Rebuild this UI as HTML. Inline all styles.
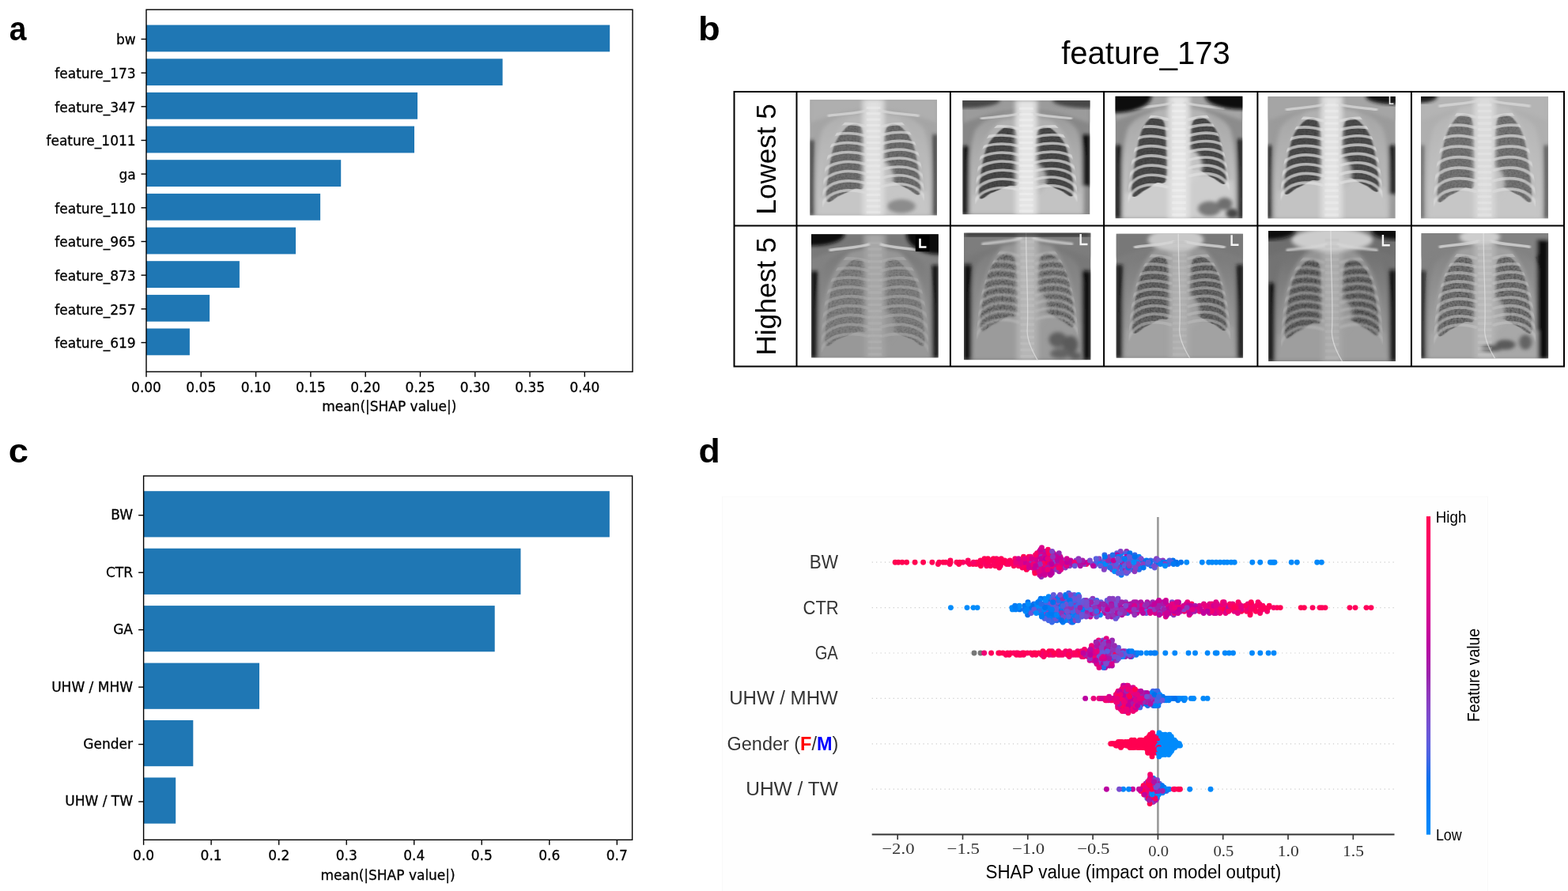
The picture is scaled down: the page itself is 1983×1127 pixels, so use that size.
<!DOCTYPE html><html><head><meta charset="utf-8"><title>SHAP figure</title><style>html,body{margin:0;padding:0;background:#fff;overflow:hidden}svg{display:block}</style></head><body>
<svg width="1983" height="1127" viewBox="0 0 1983 1127">
<rect width="1983" height="1127" fill="#fff"/>
<rect x="913.4" y="628.2" width="968" height="500" fill="#fefefe" stroke="#f9f9f9" stroke-width="1"/>
<line x1="1102.7" y1="711.2" x2="1763.5" y2="711.2" stroke="#cccccc" stroke-width="1.2" stroke-dasharray="1.2,4.2"/>
<line x1="1102.7" y1="768.6" x2="1763.5" y2="768.6" stroke="#cccccc" stroke-width="1.2" stroke-dasharray="1.2,4.2"/>
<line x1="1102.7" y1="826.0" x2="1763.5" y2="826.0" stroke="#cccccc" stroke-width="1.2" stroke-dasharray="1.2,4.2"/>
<line x1="1102.7" y1="883.4" x2="1763.5" y2="883.4" stroke="#cccccc" stroke-width="1.2" stroke-dasharray="1.2,4.2"/>
<line x1="1102.7" y1="940.8" x2="1763.5" y2="940.8" stroke="#cccccc" stroke-width="1.2" stroke-dasharray="1.2,4.2"/>
<line x1="1102.7" y1="998.2" x2="1763.5" y2="998.2" stroke="#cccccc" stroke-width="1.2" stroke-dasharray="1.2,4.2"/>
<line x1="1464.4" y1="654" x2="1464.4" y2="1055.5" stroke="#999999" stroke-width="2.6"/>
<g><circle cx="1332.0" cy="699.7" r="3.45" fill="#e20084"/><circle cx="1321.8" cy="713.5" r="3.45" fill="#ff0056"/><circle cx="1468.1" cy="711.2" r="3.45" fill="#a919a8"/><circle cx="1412.3" cy="711.2" r="3.45" fill="#3769e8"/><circle cx="1422.9" cy="718.1" r="3.45" fill="#8a3ec1"/><circle cx="1298.9" cy="715.8" r="3.45" fill="#f00074"/><circle cx="1314.1" cy="715.8" r="3.45" fill="#af12a6"/><circle cx="1300.2" cy="711.2" r="3.45" fill="#d9008c"/><circle cx="1352.8" cy="715.8" r="3.45" fill="#8443c6"/><circle cx="1238.5" cy="713.5" r="3.45" fill="#ff0051"/><circle cx="1326.9" cy="722.7" r="3.45" fill="#d5008f"/><circle cx="1417.2" cy="702.0" r="3.45" fill="#5a5ede"/><circle cx="1396.9" cy="711.2" r="3.45" fill="#5a5ede"/><circle cx="1384.1" cy="715.8" r="3.45" fill="#635adb"/><circle cx="1419.3" cy="715.8" r="3.45" fill="#6b55d7"/><circle cx="1403.2" cy="711.2" r="3.45" fill="#007cf5"/><circle cx="1337.4" cy="711.2" r="3.45" fill="#c1009d"/><circle cx="1246.3" cy="708.9" r="3.45" fill="#ff005a"/><circle cx="1317.5" cy="711.2" r="3.45" fill="#d9008c"/><circle cx="1354.0" cy="708.9" r="3.45" fill="#c6009a"/><circle cx="1365.6" cy="711.2" r="3.45" fill="#a21fab"/><circle cx="1325.2" cy="702.0" r="3.45" fill="#de0088"/><circle cx="1167.6" cy="711.2" r="3.45" fill="#ff0051"/><circle cx="1428.9" cy="702.0" r="3.45" fill="#5061e2"/><circle cx="1333.7" cy="715.8" r="3.45" fill="#e20084"/><circle cx="1432.5" cy="720.4" r="3.45" fill="#0076f1"/><circle cx="1418.0" cy="718.1" r="3.45" fill="#246cea"/><circle cx="1209.9" cy="711.2" r="3.45" fill="#ff005a"/><circle cx="1416.4" cy="704.3" r="3.45" fill="#635adb"/><circle cx="1310.7" cy="720.4" r="3.45" fill="#8443c6"/><circle cx="1319.2" cy="722.7" r="3.45" fill="#d9008c"/><circle cx="1337.9" cy="713.5" r="3.45" fill="#9332b8"/><circle cx="1419.4" cy="713.5" r="3.45" fill="#0079f3"/><circle cx="1283.9" cy="708.9" r="3.45" fill="#e9007c"/><circle cx="1234.6" cy="713.5" r="3.45" fill="#ff0056"/><circle cx="1357.2" cy="713.5" r="3.45" fill="#bb00a0"/><circle cx="1343.2" cy="718.1" r="3.45" fill="#d5008f"/><circle cx="1427.6" cy="720.4" r="3.45" fill="#794dcf"/><circle cx="1373.9" cy="713.5" r="3.45" fill="#fd005e"/><circle cx="1424.7" cy="697.4" r="3.45" fill="#972bb2"/><circle cx="1317.0" cy="718.1" r="3.45" fill="#d9008c"/><circle cx="1295.5" cy="713.5" r="3.45" fill="#de0088"/><circle cx="1423.3" cy="711.2" r="3.45" fill="#3769e8"/><circle cx="1391.9" cy="711.2" r="3.45" fill="#5a5ede"/><circle cx="1386.9" cy="708.9" r="3.45" fill="#8a3ec1"/><circle cx="1493.5" cy="711.2" r="3.45" fill="#0073ef"/><circle cx="1310.2" cy="706.6" r="3.45" fill="#d00093"/><circle cx="1349.7" cy="708.9" r="3.45" fill="#d00093"/><circle cx="1309.2" cy="713.5" r="3.45" fill="#9b23ad"/><circle cx="1418.9" cy="722.7" r="3.45" fill="#4565e5"/><circle cx="1277.2" cy="708.9" r="3.45" fill="#ff005a"/><circle cx="1265.2" cy="715.8" r="3.45" fill="#f6006b"/><circle cx="1186.4" cy="713.5" r="3.45" fill="#ff0056"/><circle cx="1412.0" cy="720.4" r="3.45" fill="#8443c6"/><circle cx="1483.4" cy="708.9" r="3.45" fill="#0070ed"/><circle cx="1360.9" cy="708.9" r="3.45" fill="#7f48cb"/><circle cx="1402.1" cy="713.5" r="3.45" fill="#0076f1"/><circle cx="1477.8" cy="713.5" r="3.45" fill="#4565e5"/><circle cx="1315.2" cy="702.0" r="3.45" fill="#a21fab"/><circle cx="1330.4" cy="702.0" r="3.45" fill="#c6009a"/><circle cx="1300.9" cy="708.9" r="3.45" fill="#fb0063"/><circle cx="1308.6" cy="722.7" r="3.45" fill="#e60080"/><circle cx="1389.5" cy="708.9" r="3.45" fill="#0073ef"/><circle cx="1447.2" cy="711.2" r="3.45" fill="#7f48cb"/><circle cx="1396.9" cy="702.0" r="3.45" fill="#3769e8"/><circle cx="1260.2" cy="706.6" r="3.45" fill="#f90067"/><circle cx="1365.2" cy="713.5" r="3.45" fill="#a919a8"/><circle cx="1320.7" cy="711.2" r="3.45" fill="#ff005a"/><circle cx="1316.9" cy="725.0" r="3.45" fill="#d00093"/><circle cx="1334.1" cy="708.9" r="3.45" fill="#bb00a0"/><circle cx="1240.4" cy="715.8" r="3.45" fill="#ff0051"/><circle cx="1419.0" cy="720.4" r="3.45" fill="#3769e8"/><circle cx="1322.7" cy="699.7" r="3.45" fill="#c6009a"/><circle cx="1423.6" cy="720.4" r="3.45" fill="#af12a6"/><circle cx="1482.0" cy="711.2" r="3.45" fill="#3769e8"/><circle cx="1255.7" cy="708.9" r="3.45" fill="#ff0051"/><circle cx="1246.5" cy="711.2" r="3.45" fill="#fb0063"/><circle cx="1407.1" cy="706.6" r="3.45" fill="#246cea"/><circle cx="1146.6" cy="711.2" r="3.45" fill="#ff0051"/><circle cx="1355.4" cy="713.5" r="3.45" fill="#af12a6"/><circle cx="1612.0" cy="711.2" r="3.45" fill="#0088fa"/><circle cx="1286.9" cy="708.9" r="3.45" fill="#f00074"/><circle cx="1552.0" cy="711.2" r="3.45" fill="#0088fa"/><circle cx="1320.7" cy="697.4" r="3.45" fill="#af12a6"/><circle cx="1445.3" cy="715.8" r="3.45" fill="#635adb"/><circle cx="1412.8" cy="715.8" r="3.45" fill="#9332b8"/><circle cx="1352.1" cy="711.2" r="3.45" fill="#b509a3"/><circle cx="1305.3" cy="711.2" r="3.45" fill="#ed0078"/><circle cx="1314.5" cy="697.4" r="3.45" fill="#d9008c"/><circle cx="1333.8" cy="706.6" r="3.45" fill="#e20084"/><circle cx="1533.0" cy="711.2" r="3.45" fill="#0088fa"/><circle cx="1320.8" cy="702.0" r="3.45" fill="#cb0096"/><circle cx="1305.7" cy="718.1" r="3.45" fill="#e9007c"/><circle cx="1263.2" cy="708.9" r="3.45" fill="#ff0051"/><circle cx="1371.2" cy="713.5" r="3.45" fill="#8a3ec1"/><circle cx="1424.8" cy="725.0" r="3.45" fill="#5a5ede"/><circle cx="1303.9" cy="715.8" r="3.45" fill="#f00074"/><circle cx="1434.1" cy="713.5" r="3.45" fill="#7f48cb"/><circle cx="1311.5" cy="699.7" r="3.45" fill="#f6006b"/><circle cx="1273.0" cy="713.5" r="3.45" fill="#fd005e"/><circle cx="1340.9" cy="704.3" r="3.45" fill="#d00093"/><circle cx="1292.6" cy="708.9" r="3.45" fill="#ff0051"/><circle cx="1381.5" cy="713.5" r="3.45" fill="#8443c6"/><circle cx="1462.9" cy="713.5" r="3.45" fill="#7f48cb"/><circle cx="1196.0" cy="711.2" r="3.45" fill="#ff0056"/><circle cx="1283.8" cy="706.6" r="3.45" fill="#f6006b"/><circle cx="1397.4" cy="718.1" r="3.45" fill="#5a5ede"/><circle cx="1328.7" cy="704.3" r="3.45" fill="#cb0096"/><circle cx="1282.1" cy="715.8" r="3.45" fill="#ff0056"/><circle cx="1455.8" cy="715.8" r="3.45" fill="#0076f1"/><circle cx="1284.1" cy="713.5" r="3.45" fill="#f30070"/><circle cx="1322.3" cy="715.8" r="3.45" fill="#e9007c"/><circle cx="1330.4" cy="725.0" r="3.45" fill="#af12a6"/><circle cx="1212.7" cy="713.5" r="3.45" fill="#ff0051"/><circle cx="1344.5" cy="708.9" r="3.45" fill="#794dcf"/><circle cx="1245.0" cy="706.6" r="3.45" fill="#ff0056"/><circle cx="1378.6" cy="711.2" r="3.45" fill="#7251d3"/><circle cx="1276.0" cy="713.5" r="3.45" fill="#fb0063"/><circle cx="1520.3" cy="711.2" r="3.45" fill="#0088fa"/><circle cx="1252.6" cy="715.8" r="3.45" fill="#fd005e"/><circle cx="1462.2" cy="711.2" r="3.45" fill="#0076f1"/><circle cx="1278.8" cy="711.2" r="3.45" fill="#ff005a"/><circle cx="1419.1" cy="711.2" r="3.45" fill="#a21fab"/><circle cx="1375.8" cy="711.2" r="3.45" fill="#d00093"/><circle cx="1292.9" cy="718.1" r="3.45" fill="#f90067"/><circle cx="1316.6" cy="720.4" r="3.45" fill="#e20084"/><circle cx="1454.6" cy="713.5" r="3.45" fill="#4565e5"/><circle cx="1316.7" cy="708.9" r="3.45" fill="#bb00a0"/><circle cx="1330.8" cy="720.4" r="3.45" fill="#e60080"/><circle cx="1441.9" cy="718.1" r="3.45" fill="#4565e5"/><circle cx="1339.4" cy="722.7" r="3.45" fill="#a919a8"/><circle cx="1301.3" cy="704.3" r="3.45" fill="#ff0051"/><circle cx="1256.3" cy="706.6" r="3.45" fill="#ff0051"/><circle cx="1390.1" cy="706.6" r="3.45" fill="#8443c6"/><circle cx="1440.5" cy="720.4" r="3.45" fill="#246cea"/><circle cx="1309.3" cy="708.9" r="3.45" fill="#e60080"/><circle cx="1295.4" cy="715.8" r="3.45" fill="#fb0063"/><circle cx="1406.1" cy="718.1" r="3.45" fill="#5061e2"/><circle cx="1347.3" cy="718.1" r="3.45" fill="#8a3ec1"/><circle cx="1441.2" cy="715.8" r="3.45" fill="#007ff7"/><circle cx="1265.3" cy="713.5" r="3.45" fill="#fb0063"/><circle cx="1319.8" cy="708.9" r="3.45" fill="#f90067"/><circle cx="1538.0" cy="711.2" r="3.45" fill="#0088fa"/><circle cx="1386.0" cy="713.5" r="3.45" fill="#794dcf"/><circle cx="1230.6" cy="713.5" r="3.45" fill="#ff0051"/><circle cx="1419.6" cy="706.6" r="3.45" fill="#7f48cb"/><circle cx="1444.5" cy="708.9" r="3.45" fill="#0070ed"/><circle cx="1315.9" cy="699.7" r="3.45" fill="#d5008f"/><circle cx="1424.5" cy="708.9" r="3.45" fill="#007cf5"/><circle cx="1455.1" cy="708.9" r="3.45" fill="#3769e8"/><circle cx="1141.0" cy="711.2" r="3.45" fill="#ff0051"/><circle cx="1461.0" cy="708.9" r="3.45" fill="#4565e5"/><circle cx="1435.8" cy="708.9" r="3.45" fill="#794dcf"/><circle cx="1342.7" cy="713.5" r="3.45" fill="#af12a6"/><circle cx="1295.8" cy="711.2" r="3.45" fill="#cb0096"/><circle cx="1416.3" cy="708.9" r="3.45" fill="#4565e5"/><circle cx="1665.7" cy="711.2" r="3.45" fill="#0088fa"/><circle cx="1397.2" cy="715.8" r="3.45" fill="#8a3ec1"/><circle cx="1417.7" cy="699.7" r="3.45" fill="#007ff7"/><circle cx="1396.5" cy="708.9" r="3.45" fill="#4565e5"/><circle cx="1370.5" cy="711.2" r="3.45" fill="#c1009d"/><circle cx="1325.2" cy="697.4" r="3.45" fill="#d5008f"/><circle cx="1201.2" cy="713.5" r="3.45" fill="#fd005e"/><circle cx="1406.6" cy="720.4" r="3.45" fill="#8f38bd"/><circle cx="1301.0" cy="713.5" r="3.45" fill="#d5008f"/><circle cx="1460.3" cy="718.1" r="3.45" fill="#635adb"/><circle cx="1398.1" cy="706.6" r="3.45" fill="#7f48cb"/><circle cx="1328.4" cy="727.3" r="3.45" fill="#c1009d"/><circle cx="1242.1" cy="711.2" r="3.45" fill="#fd005e"/><circle cx="1288.1" cy="715.8" r="3.45" fill="#fb0063"/><circle cx="1424.8" cy="713.5" r="3.45" fill="#794dcf"/><circle cx="1311.5" cy="704.3" r="3.45" fill="#d00093"/><circle cx="1426.9" cy="722.7" r="3.45" fill="#6b55d7"/><circle cx="1411.6" cy="722.7" r="3.45" fill="#7f48cb"/><circle cx="1265.2" cy="708.9" r="3.45" fill="#f6006b"/><circle cx="1249.4" cy="706.6" r="3.45" fill="#ff0051"/><circle cx="1441.6" cy="706.6" r="3.45" fill="#8f38bd"/><circle cx="1187.7" cy="711.2" r="3.45" fill="#ff0056"/><circle cx="1411.0" cy="718.1" r="3.45" fill="#7f48cb"/><circle cx="1331.8" cy="711.2" r="3.45" fill="#8443c6"/><circle cx="1475.6" cy="711.2" r="3.45" fill="#0085f9"/><circle cx="1583.8" cy="711.2" r="3.45" fill="#0088fa"/><circle cx="1328.0" cy="708.9" r="3.45" fill="#cb0096"/><circle cx="1424.2" cy="699.7" r="3.45" fill="#5a5ede"/><circle cx="1348.9" cy="715.8" r="3.45" fill="#d00093"/><circle cx="1561.2" cy="711.2" r="3.45" fill="#0088fa"/><circle cx="1316.0" cy="695.1" r="3.45" fill="#c6009a"/><circle cx="1263.7" cy="718.1" r="3.45" fill="#ff005a"/><circle cx="1317.2" cy="704.3" r="3.45" fill="#8f38bd"/><circle cx="1403.5" cy="715.8" r="3.45" fill="#635adb"/><circle cx="1403.3" cy="704.3" r="3.45" fill="#8443c6"/><circle cx="1349.0" cy="713.5" r="3.45" fill="#e9007c"/><circle cx="1418.1" cy="727.3" r="3.45" fill="#0079f3"/><circle cx="1338.6" cy="706.6" r="3.45" fill="#d5008f"/><circle cx="1418.8" cy="725.0" r="3.45" fill="#5061e2"/><circle cx="1608.5" cy="711.2" r="3.45" fill="#0088fa"/><circle cx="1336.9" cy="715.8" r="3.45" fill="#d9008c"/><circle cx="1325.4" cy="695.1" r="3.45" fill="#f90067"/><circle cx="1328.4" cy="715.8" r="3.45" fill="#e20084"/><circle cx="1406.6" cy="704.3" r="3.45" fill="#6b55d7"/><circle cx="1470.6" cy="708.9" r="3.45" fill="#8f38bd"/><circle cx="1290.4" cy="713.5" r="3.45" fill="#e9007c"/><circle cx="1409.6" cy="722.7" r="3.45" fill="#008bfb"/><circle cx="1325.1" cy="711.2" r="3.45" fill="#ff0051"/><circle cx="1247.7" cy="715.8" r="3.45" fill="#fb0063"/><circle cx="1309.5" cy="702.0" r="3.45" fill="#f90067"/><circle cx="1201.9" cy="708.9" r="3.45" fill="#ff005a"/><circle cx="1317.5" cy="692.8" r="3.45" fill="#d9008c"/><circle cx="1479.1" cy="708.9" r="3.45" fill="#4565e5"/><circle cx="1284.8" cy="711.2" r="3.45" fill="#e9007c"/><circle cx="1240.0" cy="708.9" r="3.45" fill="#ff005a"/><circle cx="1303.3" cy="704.3" r="3.45" fill="#f00074"/><circle cx="1462.6" cy="706.6" r="3.45" fill="#8443c6"/><circle cx="1398.0" cy="713.5" r="3.45" fill="#0088fa"/><circle cx="1335.7" cy="702.0" r="3.45" fill="#af12a6"/><circle cx="1310.6" cy="711.2" r="3.45" fill="#d00093"/><circle cx="1249.9" cy="713.5" r="3.45" fill="#fb0063"/><circle cx="1396.3" cy="720.4" r="3.45" fill="#8443c6"/><circle cx="1340.8" cy="715.8" r="3.45" fill="#e20084"/><circle cx="1422.3" cy="715.8" r="3.45" fill="#5a5ede"/><circle cx="1378.4" cy="708.9" r="3.45" fill="#794dcf"/><circle cx="1386.8" cy="711.2" r="3.45" fill="#4565e5"/><circle cx="1401.6" cy="706.6" r="3.45" fill="#8f38bd"/><circle cx="1226.2" cy="713.5" r="3.45" fill="#ff0056"/><circle cx="1407.7" cy="711.2" r="3.45" fill="#0070ed"/><circle cx="1316.9" cy="729.6" r="3.45" fill="#972bb2"/><circle cx="1192.8" cy="711.2" r="3.45" fill="#ff0051"/><circle cx="1417.2" cy="697.4" r="3.45" fill="#8443c6"/><circle cx="1408.2" cy="713.5" r="3.45" fill="#4565e5"/><circle cx="1256.9" cy="711.2" r="3.45" fill="#fb0063"/><circle cx="1437.8" cy="708.9" r="3.45" fill="#0073ef"/><circle cx="1327.7" cy="725.0" r="3.45" fill="#bb00a0"/><circle cx="1440.3" cy="704.3" r="3.45" fill="#0082f8"/><circle cx="1407.8" cy="715.8" r="3.45" fill="#7f48cb"/><circle cx="1401.4" cy="708.9" r="3.45" fill="#972bb2"/><circle cx="1436.3" cy="706.6" r="3.45" fill="#5061e2"/><circle cx="1136.1" cy="711.2" r="3.45" fill="#ff0051"/><circle cx="1412.5" cy="699.7" r="3.45" fill="#635adb"/><circle cx="1316.8" cy="706.6" r="3.45" fill="#c6009a"/><circle cx="1298.2" cy="720.4" r="3.45" fill="#ff0051"/><circle cx="1308.6" cy="718.1" r="3.45" fill="#cb0096"/><circle cx="1330.9" cy="718.1" r="3.45" fill="#f6006b"/><circle cx="1266.2" cy="706.6" r="3.45" fill="#ff0056"/><circle cx="1488.9" cy="713.5" r="3.45" fill="#007cf5"/><circle cx="1487.5" cy="711.2" r="3.45" fill="#0070ed"/><circle cx="1330.0" cy="722.7" r="3.45" fill="#bb00a0"/><circle cx="1327.5" cy="713.5" r="3.45" fill="#d00093"/><circle cx="1315.3" cy="713.5" r="3.45" fill="#9332b8"/><circle cx="1178.9" cy="711.2" r="3.45" fill="#ff0056"/><circle cx="1258.5" cy="715.8" r="3.45" fill="#ff0051"/><circle cx="1433.0" cy="715.8" r="3.45" fill="#5a5ede"/><circle cx="1246.6" cy="713.5" r="3.45" fill="#fb0063"/><circle cx="1330.1" cy="713.5" r="3.45" fill="#bb00a0"/><circle cx="1235.3" cy="711.2" r="3.45" fill="#ff0056"/><circle cx="1337.5" cy="708.9" r="3.45" fill="#b509a3"/><circle cx="1304.5" cy="708.9" r="3.45" fill="#9332b8"/><circle cx="1322.1" cy="718.1" r="3.45" fill="#f90067"/><circle cx="1557.0" cy="711.2" r="3.45" fill="#0088fa"/><circle cx="1465.5" cy="708.9" r="3.45" fill="#6b55d7"/><circle cx="1397.3" cy="704.3" r="3.45" fill="#0073ef"/><circle cx="1543.0" cy="711.2" r="3.45" fill="#0088fa"/><circle cx="1320.7" cy="720.4" r="3.45" fill="#d5008f"/><circle cx="1434.9" cy="722.7" r="3.45" fill="#8f38bd"/><circle cx="1449.9" cy="708.9" r="3.45" fill="#0073ef"/><circle cx="1359.0" cy="711.2" r="3.45" fill="#f00074"/><circle cx="1202.0" cy="711.2" r="3.45" fill="#ff0051"/><circle cx="1270.7" cy="708.9" r="3.45" fill="#ff005a"/><circle cx="1249.2" cy="711.2" r="3.45" fill="#ff005a"/><circle cx="1425.5" cy="702.0" r="3.45" fill="#3769e8"/><circle cx="1424.3" cy="722.7" r="3.45" fill="#794dcf"/><circle cx="1435.1" cy="702.0" r="3.45" fill="#3769e8"/><circle cx="1428.9" cy="699.7" r="3.45" fill="#0070ed"/><circle cx="1671.3" cy="711.2" r="3.45" fill="#0088fa"/><circle cx="1306.9" cy="713.5" r="3.45" fill="#f00074"/><circle cx="1443.1" cy="706.6" r="3.45" fill="#794dcf"/><circle cx="1349.3" cy="711.2" r="3.45" fill="#c1009d"/><circle cx="1459.2" cy="715.8" r="3.45" fill="#794dcf"/><circle cx="1231.2" cy="711.2" r="3.45" fill="#f90067"/><circle cx="1528.7" cy="711.2" r="3.45" fill="#0088fa"/><circle cx="1321.4" cy="725.0" r="3.45" fill="#d5008f"/><circle cx="1300.6" cy="706.6" r="3.45" fill="#f30070"/><circle cx="1403.6" cy="718.1" r="3.45" fill="#246cea"/><circle cx="1217.8" cy="711.2" r="3.45" fill="#fb0063"/><circle cx="1262.9" cy="715.8" r="3.45" fill="#fd005e"/><circle cx="1445.7" cy="713.5" r="3.45" fill="#8a3ec1"/><circle cx="1411.9" cy="713.5" r="3.45" fill="#5061e2"/><circle cx="1446.2" cy="718.1" r="3.45" fill="#0076f1"/><circle cx="1341.6" cy="720.4" r="3.45" fill="#de0088"/><circle cx="1342.0" cy="706.6" r="3.45" fill="#c6009a"/><circle cx="1412.8" cy="702.0" r="3.45" fill="#b509a3"/><circle cx="1431.0" cy="706.6" r="3.45" fill="#5a5ede"/><circle cx="1386.2" cy="706.6" r="3.45" fill="#5a5ede"/><circle cx="1271.3" cy="711.2" r="3.45" fill="#fb0063"/><circle cx="1438.2" cy="711.2" r="3.45" fill="#0085f9"/><circle cx="1294.5" cy="704.3" r="3.45" fill="#ff0051"/><circle cx="1364.0" cy="706.6" r="3.45" fill="#9332b8"/><circle cx="1314.8" cy="727.3" r="3.45" fill="#c6009a"/><circle cx="1326.4" cy="699.7" r="3.45" fill="#fb0063"/><circle cx="1335.8" cy="720.4" r="3.45" fill="#9332b8"/><circle cx="1349.2" cy="706.6" r="3.45" fill="#d00093"/><circle cx="1407.2" cy="702.0" r="3.45" fill="#246cea"/><circle cx="1308.8" cy="725.0" r="3.45" fill="#ff0051"/><circle cx="1427.0" cy="718.1" r="3.45" fill="#0073ef"/><circle cx="1428.1" cy="715.8" r="3.45" fill="#9332b8"/><circle cx="1439.0" cy="713.5" r="3.45" fill="#8a3ec1"/><circle cx="1427.5" cy="711.2" r="3.45" fill="#0082f8"/><circle cx="1414.4" cy="704.3" r="3.45" fill="#007cf5"/><circle cx="1257.2" cy="713.5" r="3.45" fill="#fd005e"/><circle cx="1321.0" cy="704.3" r="3.45" fill="#d5008f"/><circle cx="1391.5" cy="713.5" r="3.45" fill="#0085f9"/><circle cx="1471.2" cy="711.2" r="3.45" fill="#0076f1"/><circle cx="1424.8" cy="704.3" r="3.45" fill="#bb00a0"/><circle cx="1330.6" cy="697.4" r="3.45" fill="#8443c6"/><circle cx="1473.0" cy="713.5" r="3.45" fill="#8f38bd"/><circle cx="1427.6" cy="708.9" r="3.45" fill="#4565e5"/><circle cx="1269.1" cy="711.2" r="3.45" fill="#ff0056"/><circle cx="1451.7" cy="713.5" r="3.45" fill="#3769e8"/><circle cx="1633.2" cy="711.2" r="3.45" fill="#0088fa"/><circle cx="1223.9" cy="711.2" r="3.45" fill="#fd005e"/><circle cx="1500.7" cy="711.2" r="3.45" fill="#008bfb"/><circle cx="1339.3" cy="699.7" r="3.45" fill="#9b23ad"/><circle cx="1157.1" cy="711.2" r="3.45" fill="#ff0051"/><circle cx="1427.5" cy="713.5" r="3.45" fill="#8a3ec1"/><circle cx="1224.2" cy="708.9" r="3.45" fill="#fd005e"/><circle cx="1132.1" cy="711.2" r="3.45" fill="#ff0051"/><circle cx="1322.3" cy="706.6" r="3.45" fill="#bb00a0"/><circle cx="1369.0" cy="708.9" r="3.45" fill="#a919a8"/><circle cx="1606.4" cy="711.2" r="3.45" fill="#0088fa"/><circle cx="1436.1" cy="718.1" r="3.45" fill="#8443c6"/><circle cx="1309.7" cy="715.8" r="3.45" fill="#c6009a"/><circle cx="1382.5" cy="715.8" r="3.45" fill="#bb00a0"/><circle cx="1342.8" cy="711.2" r="3.45" fill="#d9008c"/><circle cx="1366.3" cy="715.8" r="3.45" fill="#af12a6"/><circle cx="1325.0" cy="706.6" r="3.45" fill="#e9007c"/><circle cx="1593.7" cy="711.2" r="3.45" fill="#0088fa"/><circle cx="1304.8" cy="706.6" r="3.45" fill="#d9008c"/><circle cx="1640.3" cy="711.2" r="3.45" fill="#0088fa"/><circle cx="1454.4" cy="711.2" r="3.45" fill="#0073ef"/><circle cx="1290.8" cy="711.2" r="3.45" fill="#e20084"/><circle cx="1452.1" cy="711.2" r="3.45" fill="#5a5ede"/><circle cx="1321.4" cy="727.3" r="3.45" fill="#cb0096"/><circle cx="1288.1" cy="706.6" r="3.45" fill="#d5008f"/><circle cx="1391.7" cy="715.8" r="3.45" fill="#635adb"/><circle cx="1484.1" cy="713.5" r="3.45" fill="#0079f3"/><circle cx="1359.3" cy="715.8" r="3.45" fill="#6b55d7"/><circle cx="1414.5" cy="708.9" r="3.45" fill="#5a5ede"/><circle cx="1301.2" cy="718.1" r="3.45" fill="#d00093"/><circle cx="1313.9" cy="722.7" r="3.45" fill="#e20084"/><circle cx="1427.7" cy="704.3" r="3.45" fill="#635adb"/><circle cx="1408.2" cy="708.9" r="3.45" fill="#c6009a"/><circle cx="1364.9" cy="708.9" r="3.45" fill="#8f38bd"/><circle cx="1414.3" cy="725.0" r="3.45" fill="#5a5ede"/><circle cx="1422.1" cy="706.6" r="3.45" fill="#007cf5"/><circle cx="1548.0" cy="711.2" r="3.45" fill="#0088fa"/><circle cx="1336.0" cy="704.3" r="3.45" fill="#c6009a"/><circle cx="1331.5" cy="704.3" r="3.45" fill="#9332b8"/><circle cx="1435.2" cy="704.3" r="3.45" fill="#0070ed"/><circle cx="1610.5" cy="711.2" r="3.45" fill="#0088fa"/><circle cx="1213.7" cy="711.2" r="3.45" fill="#ff0051"/><circle cx="1263.0" cy="713.5" r="3.45" fill="#ff005a"/><circle cx="1467.6" cy="713.5" r="3.45" fill="#007ff7"/><circle cx="1413.7" cy="706.6" r="3.45" fill="#6b55d7"/><circle cx="1473.5" cy="715.8" r="3.45" fill="#008bfb"/><circle cx="1434.0" cy="711.2" r="3.45" fill="#008bfb"/><circle cx="1261.5" cy="711.2" r="3.45" fill="#ff005a"/><circle cx="1324.8" cy="718.1" r="3.45" fill="#a919a8"/><circle cx="1324.9" cy="720.4" r="3.45" fill="#ed0078"/><circle cx="1295.9" cy="706.6" r="3.45" fill="#e60080"/><circle cx="1252.9" cy="708.9" r="3.45" fill="#ff005a"/><circle cx="1339.0" cy="718.1" r="3.45" fill="#f6006b"/><circle cx="1397.7" cy="775.5" r="3.45" fill="#9332b8"/><circle cx="1548.4" cy="764.0" r="3.45" fill="#fb0063"/><circle cx="1707.0" cy="768.6" r="3.45" fill="#ff005a"/><circle cx="1280.4" cy="770.9" r="3.45" fill="#0088fa"/><circle cx="1570.0" cy="773.2" r="3.45" fill="#ff0051"/><circle cx="1338.8" cy="766.3" r="3.45" fill="#008bfb"/><circle cx="1497.9" cy="768.6" r="3.45" fill="#bb00a0"/><circle cx="1326.0" cy="766.3" r="3.45" fill="#0079f3"/><circle cx="1370.0" cy="766.3" r="3.45" fill="#7f48cb"/><circle cx="1503.5" cy="773.2" r="3.45" fill="#fd005e"/><circle cx="1507.0" cy="764.0" r="3.45" fill="#fb0063"/><circle cx="1529.9" cy="764.0" r="3.45" fill="#e20084"/><circle cx="1464.2" cy="770.9" r="3.45" fill="#972bb2"/><circle cx="1601.8" cy="770.9" r="3.45" fill="#ff005a"/><circle cx="1285.0" cy="768.6" r="3.45" fill="#0082f8"/><circle cx="1337.2" cy="764.0" r="3.45" fill="#972bb2"/><circle cx="1406.0" cy="780.1" r="3.45" fill="#af12a6"/><circle cx="1586.8" cy="768.6" r="3.45" fill="#f6006b"/><circle cx="1474.5" cy="759.4" r="3.45" fill="#d00093"/><circle cx="1505.8" cy="775.5" r="3.45" fill="#c6009a"/><circle cx="1408.2" cy="759.4" r="3.45" fill="#8a3ec1"/><circle cx="1444.9" cy="768.6" r="3.45" fill="#d5008f"/><circle cx="1412.8" cy="780.1" r="3.45" fill="#8a3ec1"/><circle cx="1676.0" cy="768.6" r="3.45" fill="#ff005a"/><circle cx="1400.6" cy="761.7" r="3.45" fill="#bb00a0"/><circle cx="1301.4" cy="766.3" r="3.45" fill="#0079f3"/><circle cx="1437.3" cy="764.0" r="3.45" fill="#e60080"/><circle cx="1582.8" cy="764.0" r="3.45" fill="#ed0078"/><circle cx="1487.7" cy="770.9" r="3.45" fill="#c6009a"/><circle cx="1460.8" cy="766.3" r="3.45" fill="#d5008f"/><circle cx="1450.9" cy="761.7" r="3.45" fill="#af12a6"/><circle cx="1336.7" cy="757.1" r="3.45" fill="#0076f1"/><circle cx="1279.8" cy="768.6" r="3.45" fill="#0088fa"/><circle cx="1415.2" cy="766.3" r="3.45" fill="#a919a8"/><circle cx="1660.0" cy="768.6" r="3.45" fill="#fd005e"/><circle cx="1354.9" cy="787.0" r="3.45" fill="#5a5ede"/><circle cx="1413.9" cy="757.1" r="3.45" fill="#7f48cb"/><circle cx="1325.9" cy="773.2" r="3.45" fill="#246cea"/><circle cx="1532.5" cy="770.9" r="3.45" fill="#de0088"/><circle cx="1328.6" cy="757.1" r="3.45" fill="#0082f8"/><circle cx="1337.6" cy="773.2" r="3.45" fill="#7f48cb"/><circle cx="1318.1" cy="768.6" r="3.45" fill="#007cf5"/><circle cx="1501.8" cy="761.7" r="3.45" fill="#e9007c"/><circle cx="1348.4" cy="770.9" r="3.45" fill="#8a3ec1"/><circle cx="1449.1" cy="770.9" r="3.45" fill="#b509a3"/><circle cx="1454.9" cy="766.3" r="3.45" fill="#cb0096"/><circle cx="1482.3" cy="761.7" r="3.45" fill="#7f48cb"/><circle cx="1413.3" cy="777.8" r="3.45" fill="#5a5ede"/><circle cx="1493.1" cy="773.2" r="3.45" fill="#a21fab"/><circle cx="1321.1" cy="757.1" r="3.45" fill="#008bfb"/><circle cx="1413.2" cy="773.2" r="3.45" fill="#b509a3"/><circle cx="1545.1" cy="773.2" r="3.45" fill="#ff005a"/><circle cx="1360.6" cy="764.0" r="3.45" fill="#8443c6"/><circle cx="1301.8" cy="773.2" r="3.45" fill="#4565e5"/><circle cx="1562.8" cy="770.9" r="3.45" fill="#f00074"/><circle cx="1589.1" cy="766.3" r="3.45" fill="#fb0063"/><circle cx="1392.3" cy="761.7" r="3.45" fill="#635adb"/><circle cx="1578.2" cy="764.0" r="3.45" fill="#e9007c"/><circle cx="1351.8" cy="784.7" r="3.45" fill="#4565e5"/><circle cx="1596.4" cy="770.9" r="3.45" fill="#f30070"/><circle cx="1458.9" cy="773.2" r="3.45" fill="#c6009a"/><circle cx="1540.3" cy="770.9" r="3.45" fill="#e20084"/><circle cx="1522.9" cy="773.2" r="3.45" fill="#c1009d"/><circle cx="1388.5" cy="768.6" r="3.45" fill="#3769e8"/><circle cx="1567.1" cy="764.0" r="3.45" fill="#f00074"/><circle cx="1560.8" cy="773.2" r="3.45" fill="#e60080"/><circle cx="1309.2" cy="766.3" r="3.45" fill="#0079f3"/><circle cx="1485.0" cy="764.0" r="3.45" fill="#a21fab"/><circle cx="1555.5" cy="764.0" r="3.45" fill="#fb0063"/><circle cx="1517.4" cy="768.6" r="3.45" fill="#cb0096"/><circle cx="1326.0" cy="759.4" r="3.45" fill="#5a5ede"/><circle cx="1477.4" cy="770.9" r="3.45" fill="#c1009d"/><circle cx="1357.7" cy="782.4" r="3.45" fill="#4565e5"/><circle cx="1431.2" cy="764.0" r="3.45" fill="#8a3ec1"/><circle cx="1347.6" cy="752.5" r="3.45" fill="#0076f1"/><circle cx="1412.2" cy="768.6" r="3.45" fill="#a21fab"/><circle cx="1482.6" cy="766.3" r="3.45" fill="#de0088"/><circle cx="1383.6" cy="764.0" r="3.45" fill="#8f38bd"/><circle cx="1365.3" cy="761.7" r="3.45" fill="#635adb"/><circle cx="1388.8" cy="775.5" r="3.45" fill="#7251d3"/><circle cx="1373.2" cy="777.8" r="3.45" fill="#8a3ec1"/><circle cx="1444.0" cy="764.0" r="3.45" fill="#a919a8"/><circle cx="1425.9" cy="775.5" r="3.45" fill="#246cea"/><circle cx="1468.8" cy="766.3" r="3.45" fill="#a919a8"/><circle cx="1576.5" cy="773.2" r="3.45" fill="#fd005e"/><circle cx="1223.0" cy="768.6" r="3.45" fill="#008bfb"/><circle cx="1525.0" cy="768.6" r="3.45" fill="#d00093"/><circle cx="1544.3" cy="768.6" r="3.45" fill="#fd005e"/><circle cx="1466.7" cy="764.0" r="3.45" fill="#8a3ec1"/><circle cx="1367.4" cy="768.6" r="3.45" fill="#7251d3"/><circle cx="1374.5" cy="775.5" r="3.45" fill="#794dcf"/><circle cx="1370.8" cy="764.0" r="3.45" fill="#7f48cb"/><circle cx="1465.7" cy="773.2" r="3.45" fill="#b509a3"/><circle cx="1316.0" cy="775.5" r="3.45" fill="#0076f1"/><circle cx="1423.6" cy="761.7" r="3.45" fill="#8a3ec1"/><circle cx="1347.7" cy="782.4" r="3.45" fill="#3769e8"/><circle cx="1525.6" cy="770.9" r="3.45" fill="#e60080"/><circle cx="1400.0" cy="764.0" r="3.45" fill="#5061e2"/><circle cx="1289.6" cy="770.9" r="3.45" fill="#0073ef"/><circle cx="1449.7" cy="775.5" r="3.45" fill="#6b55d7"/><circle cx="1593.3" cy="766.3" r="3.45" fill="#fb0063"/><circle cx="1481.6" cy="773.2" r="3.45" fill="#c6009a"/><circle cx="1342.1" cy="768.6" r="3.45" fill="#008bfb"/><circle cx="1325.5" cy="770.9" r="3.45" fill="#246cea"/><circle cx="1411.0" cy="766.3" r="3.45" fill="#635adb"/><circle cx="1352.4" cy="761.7" r="3.45" fill="#635adb"/><circle cx="1615.0" cy="768.6" r="3.45" fill="#ff005a"/><circle cx="1556.5" cy="770.9" r="3.45" fill="#fb0063"/><circle cx="1544.9" cy="766.3" r="3.45" fill="#e20084"/><circle cx="1301.5" cy="775.5" r="3.45" fill="#0070ed"/><circle cx="1347.4" cy="780.1" r="3.45" fill="#0073ef"/><circle cx="1359.1" cy="775.5" r="3.45" fill="#7f48cb"/><circle cx="1332.8" cy="764.0" r="3.45" fill="#007ff7"/><circle cx="1734.0" cy="768.6" r="3.45" fill="#ff005a"/><circle cx="1304.4" cy="773.2" r="3.45" fill="#3769e8"/><circle cx="1581.4" cy="766.3" r="3.45" fill="#ff005a"/><circle cx="1413.8" cy="770.9" r="3.45" fill="#8f38bd"/><circle cx="1356.8" cy="787.0" r="3.45" fill="#0076f1"/><circle cx="1344.7" cy="759.4" r="3.45" fill="#0076f1"/><circle cx="1406.8" cy="768.6" r="3.45" fill="#972bb2"/><circle cx="1587.2" cy="770.9" r="3.45" fill="#fd005e"/><circle cx="1546.6" cy="764.0" r="3.45" fill="#e9007c"/><circle cx="1480.8" cy="775.5" r="3.45" fill="#c1009d"/><circle cx="1359.6" cy="768.6" r="3.45" fill="#6b55d7"/><circle cx="1558.9" cy="764.0" r="3.45" fill="#e9007c"/><circle cx="1594.7" cy="768.6" r="3.45" fill="#f30070"/><circle cx="1332.0" cy="780.1" r="3.45" fill="#008bfb"/><circle cx="1593.6" cy="775.5" r="3.45" fill="#fb0063"/><circle cx="1437.8" cy="775.5" r="3.45" fill="#c1009d"/><circle cx="1543.6" cy="770.9" r="3.45" fill="#fd005e"/><circle cx="1326.2" cy="754.8" r="3.45" fill="#0088fa"/><circle cx="1418.9" cy="777.8" r="3.45" fill="#af12a6"/><circle cx="1434.0" cy="761.7" r="3.45" fill="#a919a8"/><circle cx="1299.6" cy="777.8" r="3.45" fill="#0070ed"/><circle cx="1347.6" cy="759.4" r="3.45" fill="#246cea"/><circle cx="1295.7" cy="766.3" r="3.45" fill="#0073ef"/><circle cx="1354.5" cy="782.4" r="3.45" fill="#0076f1"/><circle cx="1442.8" cy="761.7" r="3.45" fill="#af12a6"/><circle cx="1434.5" cy="775.5" r="3.45" fill="#9b23ad"/><circle cx="1419.1" cy="773.2" r="3.45" fill="#8f38bd"/><circle cx="1334.2" cy="768.6" r="3.45" fill="#9b23ad"/><circle cx="1542.8" cy="775.5" r="3.45" fill="#ed0078"/><circle cx="1342.6" cy="761.7" r="3.45" fill="#007ff7"/><circle cx="1454.7" cy="764.0" r="3.45" fill="#b509a3"/><circle cx="1316.2" cy="757.1" r="3.45" fill="#0073ef"/><circle cx="1469.0" cy="773.2" r="3.45" fill="#bb00a0"/><circle cx="1411.0" cy="782.4" r="3.45" fill="#6b55d7"/><circle cx="1307.5" cy="764.0" r="3.45" fill="#246cea"/><circle cx="1429.8" cy="764.0" r="3.45" fill="#af12a6"/><circle cx="1474.3" cy="780.1" r="3.45" fill="#de0088"/><circle cx="1443.5" cy="773.2" r="3.45" fill="#d00093"/><circle cx="1358.8" cy="780.1" r="3.45" fill="#4565e5"/><circle cx="1576.5" cy="770.9" r="3.45" fill="#f90067"/><circle cx="1416.1" cy="764.0" r="3.45" fill="#a21fab"/><circle cx="1309.6" cy="770.9" r="3.45" fill="#5a5ede"/><circle cx="1432.9" cy="768.6" r="3.45" fill="#a919a8"/><circle cx="1295.7" cy="770.9" r="3.45" fill="#246cea"/><circle cx="1484.3" cy="766.3" r="3.45" fill="#972bb2"/><circle cx="1539.3" cy="764.0" r="3.45" fill="#d5008f"/><circle cx="1320.2" cy="773.2" r="3.45" fill="#007ff7"/><circle cx="1550.6" cy="766.3" r="3.45" fill="#f00074"/><circle cx="1588.3" cy="773.2" r="3.45" fill="#ff005a"/><circle cx="1335.4" cy="768.6" r="3.45" fill="#5061e2"/><circle cx="1566.4" cy="770.9" r="3.45" fill="#f90067"/><circle cx="1359.7" cy="770.9" r="3.45" fill="#5a5ede"/><circle cx="1413.2" cy="761.7" r="3.45" fill="#a919a8"/><circle cx="1517.0" cy="766.3" r="3.45" fill="#d9008c"/><circle cx="1403.3" cy="777.8" r="3.45" fill="#a919a8"/><circle cx="1352.4" cy="775.5" r="3.45" fill="#5061e2"/><circle cx="1304.0" cy="775.5" r="3.45" fill="#6b55d7"/><circle cx="1444.2" cy="766.3" r="3.45" fill="#de0088"/><circle cx="1582.3" cy="761.7" r="3.45" fill="#ff0056"/><circle cx="1390.6" cy="764.0" r="3.45" fill="#a21fab"/><circle cx="1365.2" cy="777.8" r="3.45" fill="#3769e8"/><circle cx="1451.1" cy="768.6" r="3.45" fill="#bb00a0"/><circle cx="1391.4" cy="777.8" r="3.45" fill="#008bfb"/><circle cx="1456.2" cy="768.6" r="3.45" fill="#b509a3"/><circle cx="1530.1" cy="768.6" r="3.45" fill="#f30070"/><circle cx="1581.0" cy="777.8" r="3.45" fill="#fb0063"/><circle cx="1436.4" cy="773.2" r="3.45" fill="#c1009d"/><circle cx="1550.8" cy="768.6" r="3.45" fill="#f00074"/><circle cx="1396.5" cy="773.2" r="3.45" fill="#9b23ad"/><circle cx="1358.5" cy="752.5" r="3.45" fill="#6b55d7"/><circle cx="1351.8" cy="777.8" r="3.45" fill="#0076f1"/><circle cx="1288.2" cy="768.6" r="3.45" fill="#008bfb"/><circle cx="1354.1" cy="757.1" r="3.45" fill="#4565e5"/><circle cx="1289.1" cy="766.3" r="3.45" fill="#008bfb"/><circle cx="1714.0" cy="768.6" r="3.45" fill="#ff005a"/><circle cx="1533.9" cy="768.6" r="3.45" fill="#f00074"/><circle cx="1284.4" cy="770.9" r="3.45" fill="#007ff7"/><circle cx="1522.4" cy="764.0" r="3.45" fill="#e20084"/><circle cx="1327.6" cy="761.7" r="3.45" fill="#0073ef"/><circle cx="1450.2" cy="773.2" r="3.45" fill="#635adb"/><circle cx="1504.1" cy="777.8" r="3.45" fill="#de0088"/><circle cx="1475.7" cy="773.2" r="3.45" fill="#af12a6"/><circle cx="1436.8" cy="761.7" r="3.45" fill="#af12a6"/><circle cx="1511.3" cy="766.3" r="3.45" fill="#a21fab"/><circle cx="1341.4" cy="764.0" r="3.45" fill="#0076f1"/><circle cx="1605.2" cy="766.3" r="3.45" fill="#ff0051"/><circle cx="1320.7" cy="780.1" r="3.45" fill="#0088fa"/><circle cx="1343.9" cy="770.9" r="3.45" fill="#3769e8"/><circle cx="1310.6" cy="768.6" r="3.45" fill="#008bfb"/><circle cx="1323.0" cy="777.8" r="3.45" fill="#0076f1"/><circle cx="1346.7" cy="761.7" r="3.45" fill="#0079f3"/><circle cx="1455.0" cy="770.9" r="3.45" fill="#794dcf"/><circle cx="1405.7" cy="775.5" r="3.45" fill="#972bb2"/><circle cx="1448.0" cy="766.3" r="3.45" fill="#9332b8"/><circle cx="1484.3" cy="777.8" r="3.45" fill="#8f38bd"/><circle cx="1413.9" cy="759.4" r="3.45" fill="#794dcf"/><circle cx="1526.8" cy="766.3" r="3.45" fill="#de0088"/><circle cx="1351.5" cy="750.2" r="3.45" fill="#3769e8"/><circle cx="1461.1" cy="775.5" r="3.45" fill="#d5008f"/><circle cx="1477.3" cy="766.3" r="3.45" fill="#d5008f"/><circle cx="1300.0" cy="761.7" r="3.45" fill="#0070ed"/><circle cx="1359.7" cy="766.3" r="3.45" fill="#3769e8"/><circle cx="1410.3" cy="764.0" r="3.45" fill="#7251d3"/><circle cx="1336.6" cy="784.7" r="3.45" fill="#246cea"/><circle cx="1354.6" cy="754.8" r="3.45" fill="#6b55d7"/><circle cx="1403.1" cy="766.3" r="3.45" fill="#6b55d7"/><circle cx="1330.4" cy="787.0" r="3.45" fill="#3769e8"/><circle cx="1354.4" cy="766.3" r="3.45" fill="#794dcf"/><circle cx="1433.3" cy="773.2" r="3.45" fill="#9b23ad"/><circle cx="1296.4" cy="768.6" r="3.45" fill="#0079f3"/><circle cx="1401.6" cy="768.6" r="3.45" fill="#a21fab"/><circle cx="1362.7" cy="770.9" r="3.45" fill="#8f38bd"/><circle cx="1383.6" cy="766.3" r="3.45" fill="#246cea"/><circle cx="1341.3" cy="773.2" r="3.45" fill="#0076f1"/><circle cx="1529.6" cy="775.5" r="3.45" fill="#cb0096"/><circle cx="1549.2" cy="770.9" r="3.45" fill="#ff0051"/><circle cx="1386.7" cy="780.1" r="3.45" fill="#794dcf"/><circle cx="1497.8" cy="773.2" r="3.45" fill="#f30070"/><circle cx="1368.1" cy="780.1" r="3.45" fill="#5061e2"/><circle cx="1336.5" cy="775.5" r="3.45" fill="#6b55d7"/><circle cx="1309.2" cy="773.2" r="3.45" fill="#0079f3"/><circle cx="1546.5" cy="761.7" r="3.45" fill="#f6006b"/><circle cx="1202.4" cy="768.6" r="3.45" fill="#008bfb"/><circle cx="1319.8" cy="766.3" r="3.45" fill="#0076f1"/><circle cx="1602.6" cy="773.2" r="3.45" fill="#f6006b"/><circle cx="1517.0" cy="773.2" r="3.45" fill="#f00074"/><circle cx="1323.5" cy="775.5" r="3.45" fill="#7f48cb"/><circle cx="1348.2" cy="775.5" r="3.45" fill="#8f38bd"/><circle cx="1363.8" cy="752.5" r="3.45" fill="#008bfb"/><circle cx="1346.9" cy="766.3" r="3.45" fill="#5061e2"/><circle cx="1347.2" cy="784.7" r="3.45" fill="#0082f8"/><circle cx="1570.2" cy="768.6" r="3.45" fill="#f00074"/><circle cx="1354.1" cy="770.9" r="3.45" fill="#a21fab"/><circle cx="1518.3" cy="770.9" r="3.45" fill="#cb0096"/><circle cx="1352.0" cy="773.2" r="3.45" fill="#8a3ec1"/><circle cx="1406.1" cy="773.2" r="3.45" fill="#8443c6"/><circle cx="1538.2" cy="768.6" r="3.45" fill="#f90067"/><circle cx="1438.1" cy="770.9" r="3.45" fill="#7f48cb"/><circle cx="1310.3" cy="764.0" r="3.45" fill="#0085f9"/><circle cx="1437.9" cy="768.6" r="3.45" fill="#a21fab"/><circle cx="1385.7" cy="770.9" r="3.45" fill="#7f48cb"/><circle cx="1320.5" cy="764.0" r="3.45" fill="#0070ed"/><circle cx="1378.9" cy="768.6" r="3.45" fill="#5a5ede"/><circle cx="1566.4" cy="766.3" r="3.45" fill="#e20084"/><circle cx="1236.0" cy="768.6" r="3.45" fill="#008bfb"/><circle cx="1367.9" cy="773.2" r="3.45" fill="#972bb2"/><circle cx="1304.9" cy="766.3" r="3.45" fill="#0070ed"/><circle cx="1429.9" cy="773.2" r="3.45" fill="#af12a6"/><circle cx="1358.2" cy="754.8" r="3.45" fill="#3769e8"/><circle cx="1332.0" cy="754.8" r="3.45" fill="#0076f1"/><circle cx="1327.2" cy="782.4" r="3.45" fill="#0085f9"/><circle cx="1470.7" cy="761.7" r="3.45" fill="#bb00a0"/><circle cx="1302.2" cy="768.6" r="3.45" fill="#0082f8"/><circle cx="1649.4" cy="768.6" r="3.45" fill="#ff0056"/><circle cx="1328.1" cy="780.1" r="3.45" fill="#007ff7"/><circle cx="1423.8" cy="770.9" r="3.45" fill="#9332b8"/><circle cx="1330.3" cy="775.5" r="3.45" fill="#0073ef"/><circle cx="1381.9" cy="757.1" r="3.45" fill="#8f38bd"/><circle cx="1380.0" cy="766.3" r="3.45" fill="#bb00a0"/><circle cx="1485.3" cy="775.5" r="3.45" fill="#f6006b"/><circle cx="1592.8" cy="764.0" r="3.45" fill="#fd005e"/><circle cx="1331.6" cy="766.3" r="3.45" fill="#635adb"/><circle cx="1550.0" cy="775.5" r="3.45" fill="#e60080"/><circle cx="1506.1" cy="766.3" r="3.45" fill="#c1009d"/><circle cx="1400.1" cy="759.4" r="3.45" fill="#635adb"/><circle cx="1482.7" cy="764.0" r="3.45" fill="#e60080"/><circle cx="1511.9" cy="768.6" r="3.45" fill="#c1009d"/><circle cx="1297.0" cy="773.2" r="3.45" fill="#0088fa"/><circle cx="1387.2" cy="777.8" r="3.45" fill="#5061e2"/><circle cx="1337.7" cy="761.7" r="3.45" fill="#7251d3"/><circle cx="1374.6" cy="764.0" r="3.45" fill="#6b55d7"/><circle cx="1460.9" cy="768.6" r="3.45" fill="#e9007c"/><circle cx="1566.0" cy="761.7" r="3.45" fill="#f90067"/><circle cx="1464.0" cy="761.7" r="3.45" fill="#cb0096"/><circle cx="1330.8" cy="757.1" r="3.45" fill="#4565e5"/><circle cx="1378.9" cy="780.1" r="3.45" fill="#d00093"/><circle cx="1728.0" cy="768.6" r="3.45" fill="#ff005a"/><circle cx="1497.2" cy="770.9" r="3.45" fill="#8443c6"/><circle cx="1577.8" cy="768.6" r="3.45" fill="#e60080"/><circle cx="1465.6" cy="759.4" r="3.45" fill="#c6009a"/><circle cx="1445.5" cy="775.5" r="3.45" fill="#b509a3"/><circle cx="1344.2" cy="787.0" r="3.45" fill="#0079f3"/><circle cx="1553.5" cy="768.6" r="3.45" fill="#af12a6"/><circle cx="1374.7" cy="773.2" r="3.45" fill="#972bb2"/><circle cx="1333.0" cy="759.4" r="3.45" fill="#8a3ec1"/><circle cx="1348.7" cy="768.6" r="3.45" fill="#8f38bd"/><circle cx="1346.2" cy="757.1" r="3.45" fill="#5061e2"/><circle cx="1596.9" cy="766.3" r="3.45" fill="#fb0063"/><circle cx="1358.5" cy="777.8" r="3.45" fill="#007ff7"/><circle cx="1477.0" cy="768.6" r="3.45" fill="#c1009d"/><circle cx="1341.8" cy="754.8" r="3.45" fill="#0076f1"/><circle cx="1604.4" cy="768.6" r="3.45" fill="#ff005a"/><circle cx="1380.7" cy="773.2" r="3.45" fill="#7251d3"/><circle cx="1422.4" cy="773.2" r="3.45" fill="#a21fab"/><circle cx="1561.3" cy="766.3" r="3.45" fill="#fb0063"/><circle cx="1395.2" cy="768.6" r="3.45" fill="#794dcf"/><circle cx="1326.2" cy="784.7" r="3.45" fill="#4565e5"/><circle cx="1349.2" cy="764.0" r="3.45" fill="#7251d3"/><circle cx="1375.9" cy="770.9" r="3.45" fill="#a21fab"/><circle cx="1421.9" cy="768.6" r="3.45" fill="#9b23ad"/><circle cx="1469.5" cy="775.5" r="3.45" fill="#d9008c"/><circle cx="1582.6" cy="768.6" r="3.45" fill="#f6006b"/><circle cx="1343.5" cy="782.4" r="3.45" fill="#5a5ede"/><circle cx="1485.2" cy="773.2" r="3.45" fill="#bb00a0"/><circle cx="1339.0" cy="759.4" r="3.45" fill="#246cea"/><circle cx="1346.9" cy="777.8" r="3.45" fill="#8443c6"/><circle cx="1475.7" cy="777.8" r="3.45" fill="#c1009d"/><circle cx="1379.8" cy="777.8" r="3.45" fill="#8f38bd"/><circle cx="1551.7" cy="773.2" r="3.45" fill="#d5008f"/><circle cx="1503.5" cy="770.9" r="3.45" fill="#e9007c"/><circle cx="1490.0" cy="764.0" r="3.45" fill="#7f48cb"/><circle cx="1397.8" cy="766.3" r="3.45" fill="#af12a6"/><circle cx="1283.6" cy="766.3" r="3.45" fill="#007cf5"/><circle cx="1339.1" cy="754.8" r="3.45" fill="#0079f3"/><circle cx="1514.0" cy="770.9" r="3.45" fill="#de0088"/><circle cx="1356.9" cy="773.2" r="3.45" fill="#4565e5"/><circle cx="1371.0" cy="759.4" r="3.45" fill="#5a5ede"/><circle cx="1368.1" cy="775.5" r="3.45" fill="#5a5ede"/><circle cx="1364.7" cy="775.5" r="3.45" fill="#9332b8"/><circle cx="1567.5" cy="768.6" r="3.45" fill="#fd005e"/><circle cx="1619.2" cy="768.6" r="3.45" fill="#ff0056"/><circle cx="1672.0" cy="768.6" r="3.45" fill="#ff005a"/><circle cx="1334.1" cy="782.4" r="3.45" fill="#4565e5"/><circle cx="1344.7" cy="777.8" r="3.45" fill="#0079f3"/><circle cx="1537.8" cy="775.5" r="3.45" fill="#d9008c"/><circle cx="1459.6" cy="770.9" r="3.45" fill="#8f38bd"/><circle cx="1538.5" cy="773.2" r="3.45" fill="#e60080"/><circle cx="1304.8" cy="768.6" r="3.45" fill="#0070ed"/><circle cx="1399.3" cy="775.5" r="3.45" fill="#c6009a"/><circle cx="1581.0" cy="773.2" r="3.45" fill="#f30070"/><circle cx="1381.5" cy="775.5" r="3.45" fill="#b509a3"/><circle cx="1492.8" cy="768.6" r="3.45" fill="#d9008c"/><circle cx="1437.8" cy="766.3" r="3.45" fill="#9b23ad"/><circle cx="1428.0" cy="770.9" r="3.45" fill="#ed0078"/><circle cx="1556.2" cy="766.3" r="3.45" fill="#f90067"/><circle cx="1333.1" cy="784.7" r="3.45" fill="#3769e8"/><circle cx="1298.5" cy="770.9" r="3.45" fill="#0082f8"/><circle cx="1560.8" cy="768.6" r="3.45" fill="#ff0056"/><circle cx="1470.3" cy="768.6" r="3.45" fill="#7f48cb"/><circle cx="1548.1" cy="761.7" r="3.45" fill="#e60080"/><circle cx="1362.6" cy="764.0" r="3.45" fill="#3769e8"/><circle cx="1418.2" cy="768.6" r="3.45" fill="#b509a3"/><circle cx="1333.4" cy="773.2" r="3.45" fill="#4565e5"/><circle cx="1327.9" cy="764.0" r="3.45" fill="#7251d3"/><circle cx="1389.4" cy="766.3" r="3.45" fill="#af12a6"/><circle cx="1443.7" cy="770.9" r="3.45" fill="#cb0096"/><circle cx="1369.0" cy="770.9" r="3.45" fill="#007cf5"/><circle cx="1532.8" cy="764.0" r="3.45" fill="#f00074"/><circle cx="1379.5" cy="770.9" r="3.45" fill="#5a5ede"/><circle cx="1315.2" cy="759.4" r="3.45" fill="#0085f9"/><circle cx="1401.1" cy="780.1" r="3.45" fill="#9332b8"/><circle cx="1322.6" cy="761.7" r="3.45" fill="#4565e5"/><circle cx="1483.0" cy="770.9" r="3.45" fill="#d00093"/><circle cx="1465.3" cy="766.3" r="3.45" fill="#9b23ad"/><circle cx="1335.5" cy="782.4" r="3.45" fill="#6b55d7"/><circle cx="1418.6" cy="761.7" r="3.45" fill="#9b23ad"/><circle cx="1481.7" cy="768.6" r="3.45" fill="#de0088"/><circle cx="1450.5" cy="764.0" r="3.45" fill="#972bb2"/><circle cx="1382.0" cy="764.0" r="3.45" fill="#7251d3"/><circle cx="1475.1" cy="764.0" r="3.45" fill="#de0088"/><circle cx="1569.4" cy="770.9" r="3.45" fill="#de0088"/><circle cx="1373.8" cy="759.4" r="3.45" fill="#9332b8"/><circle cx="1523.8" cy="766.3" r="3.45" fill="#e9007c"/><circle cx="1424.2" cy="764.0" r="3.45" fill="#a919a8"/><circle cx="1575.0" cy="766.3" r="3.45" fill="#fd005e"/><circle cx="1466.7" cy="775.5" r="3.45" fill="#9332b8"/><circle cx="1464.0" cy="768.6" r="3.45" fill="#a21fab"/><circle cx="1370.2" cy="761.7" r="3.45" fill="#6b55d7"/><circle cx="1335.8" cy="770.9" r="3.45" fill="#635adb"/><circle cx="1322.4" cy="759.4" r="3.45" fill="#008bfb"/><circle cx="1426.2" cy="766.3" r="3.45" fill="#972bb2"/><circle cx="1490.4" cy="766.3" r="3.45" fill="#f6006b"/><circle cx="1364.9" cy="754.8" r="3.45" fill="#6b55d7"/><circle cx="1500.3" cy="764.0" r="3.45" fill="#d9008c"/><circle cx="1343.8" cy="757.1" r="3.45" fill="#972bb2"/><circle cx="1434.9" cy="777.8" r="3.45" fill="#9332b8"/><circle cx="1379.6" cy="759.4" r="3.45" fill="#6b55d7"/><circle cx="1508.1" cy="768.6" r="3.45" fill="#c1009d"/><circle cx="1405.2" cy="761.7" r="3.45" fill="#8a3ec1"/><circle cx="1535.3" cy="775.5" r="3.45" fill="#d5008f"/><circle cx="1314.5" cy="773.2" r="3.45" fill="#635adb"/><circle cx="1307.7" cy="770.9" r="3.45" fill="#635adb"/><circle cx="1471.5" cy="764.0" r="3.45" fill="#a919a8"/><circle cx="1490.5" cy="761.7" r="3.45" fill="#bb00a0"/><circle cx="1566.2" cy="773.2" r="3.45" fill="#f6006b"/><circle cx="1581.2" cy="775.5" r="3.45" fill="#ff0056"/><circle cx="1389.9" cy="770.9" r="3.45" fill="#a21fab"/><circle cx="1324.9" cy="777.8" r="3.45" fill="#007cf5"/><circle cx="1349.7" cy="773.2" r="3.45" fill="#7251d3"/><circle cx="1354.7" cy="768.6" r="3.45" fill="#9332b8"/><circle cx="1321.3" cy="782.4" r="3.45" fill="#5061e2"/><circle cx="1428.3" cy="768.6" r="3.45" fill="#b509a3"/><circle cx="1489.8" cy="775.5" r="3.45" fill="#c6009a"/><circle cx="1359.9" cy="784.7" r="3.45" fill="#8443c6"/><circle cx="1357.8" cy="761.7" r="3.45" fill="#9332b8"/><circle cx="1669.0" cy="768.6" r="3.45" fill="#ff005a"/><circle cx="1472.1" cy="770.9" r="3.45" fill="#a21fab"/><circle cx="1581.9" cy="770.9" r="3.45" fill="#fb0063"/><circle cx="1338.9" cy="780.1" r="3.45" fill="#0079f3"/><circle cx="1325.2" cy="768.6" r="3.45" fill="#007cf5"/><circle cx="1405.5" cy="764.0" r="3.45" fill="#af12a6"/><circle cx="1537.8" cy="761.7" r="3.45" fill="#e20084"/><circle cx="1508.0" cy="773.2" r="3.45" fill="#972bb2"/><circle cx="1331.7" cy="761.7" r="3.45" fill="#0070ed"/><circle cx="1423.7" cy="766.3" r="3.45" fill="#7f48cb"/><circle cx="1504.0" cy="775.5" r="3.45" fill="#c6009a"/><circle cx="1491.1" cy="770.9" r="3.45" fill="#bb00a0"/><circle cx="1553.8" cy="773.2" r="3.45" fill="#f90067"/><circle cx="1502.8" cy="766.3" r="3.45" fill="#bb00a0"/><circle cx="1457.8" cy="761.7" r="3.45" fill="#972bb2"/><circle cx="1373.7" cy="780.1" r="3.45" fill="#7f48cb"/><circle cx="1497.0" cy="766.3" r="3.45" fill="#d5008f"/><circle cx="1529.6" cy="770.9" r="3.45" fill="#e9007c"/><circle cx="1340.7" cy="752.5" r="3.45" fill="#794dcf"/><circle cx="1474.3" cy="761.7" r="3.45" fill="#c1009d"/><circle cx="1459.6" cy="764.0" r="3.45" fill="#c1009d"/><circle cx="1397.4" cy="770.9" r="3.45" fill="#8a3ec1"/><circle cx="1403.3" cy="757.1" r="3.45" fill="#8a3ec1"/><circle cx="1400.6" cy="773.2" r="3.45" fill="#7f48cb"/><circle cx="1422.0" cy="775.5" r="3.45" fill="#972bb2"/><circle cx="1434.6" cy="766.3" r="3.45" fill="#d5008f"/><circle cx="1342.3" cy="775.5" r="3.45" fill="#9332b8"/><circle cx="1408.3" cy="777.8" r="3.45" fill="#9332b8"/><circle cx="1363.5" cy="773.2" r="3.45" fill="#8a3ec1"/><circle cx="1354.0" cy="752.5" r="3.45" fill="#8443c6"/><circle cx="1332.3" cy="752.5" r="3.45" fill="#635adb"/><circle cx="1412.9" cy="775.5" r="3.45" fill="#af12a6"/><circle cx="1358.8" cy="759.4" r="3.45" fill="#4565e5"/><circle cx="1357.7" cy="757.1" r="3.45" fill="#6b55d7"/><circle cx="1351.4" cy="780.1" r="3.45" fill="#5a5ede"/><circle cx="1534.8" cy="766.3" r="3.45" fill="#d00093"/><circle cx="1344.2" cy="766.3" r="3.45" fill="#4565e5"/><circle cx="1485.5" cy="768.6" r="3.45" fill="#e9007c"/><circle cx="1347.9" cy="754.8" r="3.45" fill="#0076f1"/><circle cx="1300.3" cy="764.0" r="3.45" fill="#008bfb"/><circle cx="1379.7" cy="761.7" r="3.45" fill="#a21fab"/><circle cx="1364.1" cy="782.4" r="3.45" fill="#7251d3"/><circle cx="1315.5" cy="770.9" r="3.45" fill="#3769e8"/><circle cx="1310.5" cy="775.5" r="3.45" fill="#008bfb"/><circle cx="1344.8" cy="780.1" r="3.45" fill="#7f48cb"/><circle cx="1363.7" cy="766.3" r="3.45" fill="#4565e5"/><circle cx="1384.9" cy="768.6" r="3.45" fill="#9332b8"/><circle cx="1532.4" cy="773.2" r="3.45" fill="#f30070"/><circle cx="1416.3" cy="775.5" r="3.45" fill="#8443c6"/><circle cx="1537.9" cy="766.3" r="3.45" fill="#de0088"/><circle cx="1510.8" cy="773.2" r="3.45" fill="#a919a8"/><circle cx="1508.3" cy="770.9" r="3.45" fill="#e20084"/><circle cx="1400.5" cy="770.9" r="3.45" fill="#c1009d"/><circle cx="1454.7" cy="775.5" r="3.45" fill="#e20084"/><circle cx="1569.6" cy="766.3" r="3.45" fill="#e60080"/><circle cx="1594.1" cy="773.2" r="3.45" fill="#f30070"/><circle cx="1466.1" cy="777.8" r="3.45" fill="#b509a3"/><circle cx="1363.6" cy="784.7" r="3.45" fill="#4565e5"/><circle cx="1342.3" cy="784.7" r="3.45" fill="#0070ed"/><circle cx="1407.4" cy="757.1" r="3.45" fill="#8a3ec1"/><circle cx="1367.9" cy="777.8" r="3.45" fill="#6b55d7"/><circle cx="1645.2" cy="768.6" r="3.45" fill="#ff0051"/><circle cx="1353.0" cy="759.4" r="3.45" fill="#0076f1"/><circle cx="1374.6" cy="768.6" r="3.45" fill="#4565e5"/><circle cx="1434.1" cy="770.9" r="3.45" fill="#8f38bd"/><circle cx="1317.1" cy="777.8" r="3.45" fill="#007ff7"/><circle cx="1332.7" cy="777.8" r="3.45" fill="#0079f3"/><circle cx="1387.0" cy="759.4" r="3.45" fill="#3769e8"/><circle cx="1384.9" cy="775.5" r="3.45" fill="#8f38bd"/><circle cx="1387.0" cy="761.7" r="3.45" fill="#7f48cb"/><circle cx="1610.7" cy="768.6" r="3.45" fill="#f90067"/><circle cx="1501.0" cy="768.6" r="3.45" fill="#8f38bd"/><circle cx="1591.0" cy="761.7" r="3.45" fill="#f90067"/><circle cx="1374.5" cy="766.3" r="3.45" fill="#794dcf"/><circle cx="1488.2" cy="761.7" r="3.45" fill="#d5008f"/><circle cx="1317.4" cy="780.1" r="3.45" fill="#007cf5"/><circle cx="1231.0" cy="768.6" r="3.45" fill="#008bfb"/><circle cx="1320.4" cy="770.9" r="3.45" fill="#0088fa"/><circle cx="1365.9" cy="768.6" r="3.45" fill="#9b23ad"/><circle cx="1354.3" cy="764.0" r="3.45" fill="#3769e8"/><circle cx="1362.0" cy="780.1" r="3.45" fill="#3769e8"/><circle cx="1374.3" cy="761.7" r="3.45" fill="#7251d3"/><circle cx="1314.9" cy="766.3" r="3.45" fill="#008bfb"/><circle cx="1565.3" cy="775.5" r="3.45" fill="#e60080"/><circle cx="1395.3" cy="764.0" r="3.45" fill="#9b23ad"/><circle cx="1454.0" cy="773.2" r="3.45" fill="#d00093"/><circle cx="1328.9" cy="775.5" r="3.45" fill="#0079f3"/><circle cx="1407.4" cy="770.9" r="3.45" fill="#8f38bd"/><circle cx="1314.1" cy="761.7" r="3.45" fill="#007ff7"/><circle cx="1321.5" cy="768.6" r="3.45" fill="#0073ef"/><circle cx="1418.4" cy="770.9" r="3.45" fill="#9332b8"/><circle cx="1388.6" cy="773.2" r="3.45" fill="#e20084"/><circle cx="1527.0" cy="773.2" r="3.45" fill="#bb00a0"/><circle cx="1312.7" cy="761.7" r="3.45" fill="#0079f3"/><circle cx="1522.2" cy="775.5" r="3.45" fill="#c1009d"/><circle cx="1362.9" cy="757.1" r="3.45" fill="#7251d3"/><circle cx="1364.8" cy="759.4" r="3.45" fill="#5a5ede"/><circle cx="1336.3" cy="777.8" r="3.45" fill="#0085f9"/><circle cx="1387.0" cy="773.2" r="3.45" fill="#3769e8"/><circle cx="1405.8" cy="766.3" r="3.45" fill="#a21fab"/><circle cx="1316.9" cy="764.0" r="3.45" fill="#246cea"/><circle cx="1594.3" cy="770.9" r="3.45" fill="#fd005e"/><circle cx="1330.3" cy="770.9" r="3.45" fill="#007ff7"/><circle cx="1475.5" cy="775.5" r="3.45" fill="#cb0096"/><circle cx="1599.2" cy="768.6" r="3.45" fill="#ff005a"/><circle cx="1232.0" cy="826.0" r="3.45" fill="#777"/><circle cx="1240.0" cy="826.0" r="3.45" fill="#777"/><circle cx="1352.7" cy="823.7" r="3.45" fill="#f90067"/><circle cx="1401.9" cy="835.2" r="3.45" fill="#c6009a"/><circle cx="1397.6" cy="842.1" r="3.45" fill="#972bb2"/><circle cx="1322.7" cy="826.0" r="3.45" fill="#ff0056"/><circle cx="1330.9" cy="826.0" r="3.45" fill="#ff0051"/><circle cx="1368.2" cy="826.0" r="3.45" fill="#e20084"/><circle cx="1473.8" cy="826.0" r="3.45" fill="#0088fa"/><circle cx="1282.0" cy="826.0" r="3.45" fill="#fb0063"/><circle cx="1390.4" cy="839.8" r="3.45" fill="#cb0096"/><circle cx="1382.8" cy="819.1" r="3.45" fill="#a21fab"/><circle cx="1347.7" cy="823.7" r="3.45" fill="#f6006b"/><circle cx="1406.8" cy="821.4" r="3.45" fill="#c6009a"/><circle cx="1288.9" cy="828.3" r="3.45" fill="#ff0051"/><circle cx="1414.2" cy="828.3" r="3.45" fill="#9b23ad"/><circle cx="1268.4" cy="826.0" r="3.45" fill="#ff0056"/><circle cx="1400.4" cy="828.3" r="3.45" fill="#9332b8"/><circle cx="1381.4" cy="832.9" r="3.45" fill="#de0088"/><circle cx="1332.8" cy="828.3" r="3.45" fill="#fb0063"/><circle cx="1398.6" cy="830.6" r="3.45" fill="#9332b8"/><circle cx="1406.1" cy="830.6" r="3.45" fill="#6b55d7"/><circle cx="1277.9" cy="826.0" r="3.45" fill="#fd005e"/><circle cx="1402.7" cy="821.4" r="3.45" fill="#de0088"/><circle cx="1285.3" cy="826.0" r="3.45" fill="#fb0063"/><circle cx="1350.2" cy="826.0" r="3.45" fill="#fb0063"/><circle cx="1384.1" cy="830.6" r="3.45" fill="#bb00a0"/><circle cx="1390.2" cy="826.0" r="3.45" fill="#a919a8"/><circle cx="1397.1" cy="821.4" r="3.45" fill="#8a3ec1"/><circle cx="1368.1" cy="830.6" r="3.45" fill="#e9007c"/><circle cx="1404.4" cy="814.5" r="3.45" fill="#972bb2"/><circle cx="1398.7" cy="819.1" r="3.45" fill="#a21fab"/><circle cx="1393.8" cy="835.2" r="3.45" fill="#7f48cb"/><circle cx="1318.9" cy="823.7" r="3.45" fill="#ff0051"/><circle cx="1511.5" cy="826.0" r="3.45" fill="#0088fa"/><circle cx="1370.5" cy="830.6" r="3.45" fill="#f6006b"/><circle cx="1330.4" cy="823.7" r="3.45" fill="#f6006b"/><circle cx="1423.0" cy="823.7" r="3.45" fill="#635adb"/><circle cx="1386.3" cy="828.3" r="3.45" fill="#b509a3"/><circle cx="1398.8" cy="816.8" r="3.45" fill="#794dcf"/><circle cx="1406.4" cy="842.1" r="3.45" fill="#b509a3"/><circle cx="1378.1" cy="835.2" r="3.45" fill="#d9008c"/><circle cx="1363.5" cy="828.3" r="3.45" fill="#ff005a"/><circle cx="1299.2" cy="826.0" r="3.45" fill="#fb0063"/><circle cx="1431.0" cy="830.6" r="3.45" fill="#007cf5"/><circle cx="1410.0" cy="819.1" r="3.45" fill="#a21fab"/><circle cx="1406.5" cy="835.2" r="3.45" fill="#f6006b"/><circle cx="1345.8" cy="826.0" r="3.45" fill="#f6006b"/><circle cx="1338.6" cy="826.0" r="3.45" fill="#f30070"/><circle cx="1325.4" cy="826.0" r="3.45" fill="#fb0063"/><circle cx="1391.6" cy="832.9" r="3.45" fill="#fb0063"/><circle cx="1389.4" cy="809.9" r="3.45" fill="#ed0078"/><circle cx="1319.9" cy="830.6" r="3.45" fill="#fb0063"/><circle cx="1326.9" cy="828.3" r="3.45" fill="#fb0063"/><circle cx="1393.7" cy="828.3" r="3.45" fill="#8443c6"/><circle cx="1459.5" cy="826.0" r="3.45" fill="#0082f8"/><circle cx="1305.7" cy="828.3" r="3.45" fill="#f90067"/><circle cx="1338.6" cy="823.7" r="3.45" fill="#fb0063"/><circle cx="1272.3" cy="828.3" r="3.45" fill="#fd005e"/><circle cx="1411.8" cy="821.4" r="3.45" fill="#0070ed"/><circle cx="1387.4" cy="832.9" r="3.45" fill="#af12a6"/><circle cx="1357.0" cy="828.3" r="3.45" fill="#f90067"/><circle cx="1398.4" cy="814.5" r="3.45" fill="#af12a6"/><circle cx="1376.6" cy="823.7" r="3.45" fill="#cb0096"/><circle cx="1383.9" cy="828.3" r="3.45" fill="#af12a6"/><circle cx="1416.6" cy="826.0" r="3.45" fill="#0070ed"/><circle cx="1389.6" cy="835.2" r="3.45" fill="#d00093"/><circle cx="1554.4" cy="826.0" r="3.45" fill="#0088fa"/><circle cx="1395.0" cy="809.9" r="3.45" fill="#7f48cb"/><circle cx="1416.5" cy="823.7" r="3.45" fill="#8a3ec1"/><circle cx="1362.9" cy="823.7" r="3.45" fill="#ed0078"/><circle cx="1404.5" cy="819.1" r="3.45" fill="#9332b8"/><circle cx="1425.4" cy="828.3" r="3.45" fill="#007cf5"/><circle cx="1408.6" cy="826.0" r="3.45" fill="#8443c6"/><circle cx="1318.0" cy="826.0" r="3.45" fill="#fb0063"/><circle cx="1400.3" cy="814.5" r="3.45" fill="#a919a8"/><circle cx="1436.9" cy="828.3" r="3.45" fill="#007cf5"/><circle cx="1389.2" cy="823.7" r="3.45" fill="#de0088"/><circle cx="1420.4" cy="823.7" r="3.45" fill="#a21fab"/><circle cx="1374.7" cy="828.3" r="3.45" fill="#f90067"/><circle cx="1414.4" cy="826.0" r="3.45" fill="#0070ed"/><circle cx="1593.8" cy="826.0" r="3.45" fill="#0088fa"/><circle cx="1376.1" cy="826.0" r="3.45" fill="#af12a6"/><circle cx="1407.0" cy="826.0" r="3.45" fill="#9b23ad"/><circle cx="1423.2" cy="830.6" r="3.45" fill="#9b23ad"/><circle cx="1401.4" cy="819.1" r="3.45" fill="#c6009a"/><circle cx="1417.9" cy="830.6" r="3.45" fill="#3769e8"/><circle cx="1378.1" cy="830.6" r="3.45" fill="#8a3ec1"/><circle cx="1527.0" cy="826.0" r="3.45" fill="#0088fa"/><circle cx="1583.5" cy="826.0" r="3.45" fill="#0088fa"/><circle cx="1387.5" cy="821.4" r="3.45" fill="#af12a6"/><circle cx="1406.0" cy="823.7" r="3.45" fill="#8f38bd"/><circle cx="1410.0" cy="821.4" r="3.45" fill="#794dcf"/><circle cx="1380.3" cy="819.1" r="3.45" fill="#e20084"/><circle cx="1394.6" cy="816.8" r="3.45" fill="#b509a3"/><circle cx="1414.5" cy="819.1" r="3.45" fill="#635adb"/><circle cx="1401.9" cy="839.8" r="3.45" fill="#c1009d"/><circle cx="1352.3" cy="830.6" r="3.45" fill="#f30070"/><circle cx="1419.7" cy="826.0" r="3.45" fill="#5a5ede"/><circle cx="1386.0" cy="837.5" r="3.45" fill="#635adb"/><circle cx="1389.9" cy="842.1" r="3.45" fill="#cb0096"/><circle cx="1389.2" cy="814.5" r="3.45" fill="#bb00a0"/><circle cx="1409.1" cy="823.7" r="3.45" fill="#9332b8"/><circle cx="1285.4" cy="828.3" r="3.45" fill="#ff005a"/><circle cx="1399.2" cy="807.6" r="3.45" fill="#e60080"/><circle cx="1399.3" cy="826.0" r="3.45" fill="#972bb2"/><circle cx="1394.5" cy="842.1" r="3.45" fill="#bb00a0"/><circle cx="1264.5" cy="826.0" r="3.45" fill="#ff0051"/><circle cx="1393.8" cy="837.5" r="3.45" fill="#b509a3"/><circle cx="1349.9" cy="828.3" r="3.45" fill="#ed0078"/><circle cx="1276.2" cy="828.3" r="3.45" fill="#ff0051"/><circle cx="1244.7" cy="826.0" r="3.45" fill="#f00074"/><circle cx="1370.5" cy="823.7" r="3.45" fill="#f00074"/><circle cx="1367.6" cy="823.7" r="3.45" fill="#f30070"/><circle cx="1357.5" cy="826.0" r="3.45" fill="#f90067"/><circle cx="1386.3" cy="819.1" r="3.45" fill="#5a5ede"/><circle cx="1382.0" cy="823.7" r="3.45" fill="#de0088"/><circle cx="1390.2" cy="837.5" r="3.45" fill="#8443c6"/><circle cx="1455.2" cy="826.0" r="3.45" fill="#007ff7"/><circle cx="1303.3" cy="826.0" r="3.45" fill="#ff005a"/><circle cx="1433.0" cy="828.3" r="3.45" fill="#635adb"/><circle cx="1292.9" cy="826.0" r="3.45" fill="#f30070"/><circle cx="1375.7" cy="830.6" r="3.45" fill="#e9007c"/><circle cx="1369.1" cy="828.3" r="3.45" fill="#f90067"/><circle cx="1409.8" cy="835.2" r="3.45" fill="#b509a3"/><circle cx="1404.1" cy="828.3" r="3.45" fill="#794dcf"/><circle cx="1338.3" cy="828.3" r="3.45" fill="#fd005e"/><circle cx="1381.4" cy="821.4" r="3.45" fill="#e60080"/><circle cx="1604.1" cy="826.0" r="3.45" fill="#0088fa"/><circle cx="1343.9" cy="828.3" r="3.45" fill="#f6006b"/><circle cx="1391.4" cy="828.3" r="3.45" fill="#8a3ec1"/><circle cx="1397.8" cy="823.7" r="3.45" fill="#9b23ad"/><circle cx="1389.2" cy="816.8" r="3.45" fill="#b509a3"/><circle cx="1382.3" cy="835.2" r="3.45" fill="#d00093"/><circle cx="1385.2" cy="830.6" r="3.45" fill="#fb0063"/><circle cx="1378.8" cy="826.0" r="3.45" fill="#e60080"/><circle cx="1389.5" cy="821.4" r="3.45" fill="#af12a6"/><circle cx="1391.1" cy="812.2" r="3.45" fill="#8a3ec1"/><circle cx="1317.3" cy="828.3" r="3.45" fill="#f00074"/><circle cx="1385.7" cy="826.0" r="3.45" fill="#cb0096"/><circle cx="1549.2" cy="826.0" r="3.45" fill="#0088fa"/><circle cx="1341.0" cy="828.3" r="3.45" fill="#f90067"/><circle cx="1309.7" cy="826.0" r="3.45" fill="#f6006b"/><circle cx="1383.8" cy="826.0" r="3.45" fill="#d9008c"/><circle cx="1378.5" cy="823.7" r="3.45" fill="#c6009a"/><circle cx="1390.1" cy="830.6" r="3.45" fill="#7251d3"/><circle cx="1503.0" cy="826.0" r="3.45" fill="#0088fa"/><circle cx="1419.8" cy="830.6" r="3.45" fill="#008bfb"/><circle cx="1262.8" cy="826.0" r="3.45" fill="#ff0056"/><circle cx="1410.6" cy="828.3" r="3.45" fill="#ff0056"/><circle cx="1326.9" cy="823.7" r="3.45" fill="#ff0051"/><circle cx="1362.8" cy="826.0" r="3.45" fill="#ff0051"/><circle cx="1395.1" cy="839.8" r="3.45" fill="#b509a3"/><circle cx="1395.2" cy="821.4" r="3.45" fill="#cb0096"/><circle cx="1313.7" cy="826.0" r="3.45" fill="#ff0051"/><circle cx="1428.5" cy="826.0" r="3.45" fill="#246cea"/><circle cx="1537.2" cy="826.0" r="3.45" fill="#0088fa"/><circle cx="1386.9" cy="839.8" r="3.45" fill="#d9008c"/><circle cx="1397.6" cy="844.4" r="3.45" fill="#b509a3"/><circle cx="1404.9" cy="816.8" r="3.45" fill="#8f38bd"/><circle cx="1390.6" cy="819.1" r="3.45" fill="#bb00a0"/><circle cx="1401.7" cy="830.6" r="3.45" fill="#8a3ec1"/><circle cx="1395.6" cy="844.4" r="3.45" fill="#246cea"/><circle cx="1399.1" cy="809.9" r="3.45" fill="#de0088"/><circle cx="1429.3" cy="830.6" r="3.45" fill="#9b23ad"/><circle cx="1399.1" cy="828.3" r="3.45" fill="#af12a6"/><circle cx="1353.5" cy="826.0" r="3.45" fill="#f30070"/><circle cx="1412.2" cy="830.6" r="3.45" fill="#7f48cb"/><circle cx="1342.1" cy="826.0" r="3.45" fill="#fb0063"/><circle cx="1253.6" cy="826.0" r="3.45" fill="#ff005a"/><circle cx="1294.6" cy="828.3" r="3.45" fill="#f90067"/><circle cx="1428.7" cy="828.3" r="3.45" fill="#635adb"/><circle cx="1380.5" cy="816.8" r="3.45" fill="#ed0078"/><circle cx="1442.9" cy="826.0" r="3.45" fill="#0082f8"/><circle cx="1390.0" cy="844.4" r="3.45" fill="#e60080"/><circle cx="1421.3" cy="828.3" r="3.45" fill="#4565e5"/><circle cx="1330.3" cy="828.3" r="3.45" fill="#f00074"/><circle cx="1425.8" cy="826.0" r="3.45" fill="#5a5ede"/><circle cx="1559.5" cy="826.0" r="3.45" fill="#0088fa"/><circle cx="1412.5" cy="835.2" r="3.45" fill="#8a3ec1"/><circle cx="1410.0" cy="832.9" r="3.45" fill="#a21fab"/><circle cx="1387.6" cy="814.5" r="3.45" fill="#d00093"/><circle cx="1378.3" cy="832.9" r="3.45" fill="#9332b8"/><circle cx="1431.4" cy="826.0" r="3.45" fill="#6b55d7"/><circle cx="1393.3" cy="832.9" r="3.45" fill="#d5008f"/><circle cx="1436.2" cy="826.0" r="3.45" fill="#246cea"/><circle cx="1393.2" cy="823.7" r="3.45" fill="#635adb"/><circle cx="1372.6" cy="828.3" r="3.45" fill="#a919a8"/><circle cx="1351.2" cy="828.3" r="3.45" fill="#ff0056"/><circle cx="1409.4" cy="816.8" r="3.45" fill="#972bb2"/><circle cx="1406.5" cy="809.9" r="3.45" fill="#9b23ad"/><circle cx="1400.6" cy="837.5" r="3.45" fill="#972bb2"/><circle cx="1378.9" cy="828.3" r="3.45" fill="#bb00a0"/><circle cx="1287.3" cy="826.0" r="3.45" fill="#fd005e"/><circle cx="1386.8" cy="816.8" r="3.45" fill="#af12a6"/><circle cx="1539.0" cy="826.0" r="3.45" fill="#0088fa"/><circle cx="1395.5" cy="812.2" r="3.45" fill="#cb0096"/><circle cx="1450.0" cy="826.0" r="3.45" fill="#008bfb"/><circle cx="1417.6" cy="828.3" r="3.45" fill="#8443c6"/><circle cx="1402.9" cy="842.1" r="3.45" fill="#b509a3"/><circle cx="1385.9" cy="835.2" r="3.45" fill="#c1009d"/><circle cx="1461.3" cy="826.0" r="3.45" fill="#007ff7"/><circle cx="1398.2" cy="812.2" r="3.45" fill="#6b55d7"/><circle cx="1414.5" cy="832.9" r="3.45" fill="#6b55d7"/><circle cx="1386.1" cy="812.2" r="3.45" fill="#a21fab"/><circle cx="1413.8" cy="823.7" r="3.45" fill="#7f48cb"/><circle cx="1399.3" cy="835.2" r="3.45" fill="#af12a6"/><circle cx="1387.3" cy="823.7" r="3.45" fill="#e60080"/><circle cx="1439.1" cy="826.0" r="3.45" fill="#0082f8"/><circle cx="1485.8" cy="826.0" r="3.45" fill="#0088fa"/><circle cx="1402.2" cy="826.0" r="3.45" fill="#972bb2"/><circle cx="1404.7" cy="832.9" r="3.45" fill="#0076f1"/><circle cx="1321.9" cy="828.3" r="3.45" fill="#fd005e"/><circle cx="1427.9" cy="823.7" r="3.45" fill="#0070ed"/><circle cx="1405.7" cy="812.2" r="3.45" fill="#9332b8"/><circle cx="1401.8" cy="812.2" r="3.45" fill="#b509a3"/><circle cx="1274.1" cy="826.0" r="3.45" fill="#ff005a"/><circle cx="1401.8" cy="816.8" r="3.45" fill="#9b23ad"/><circle cx="1294.9" cy="826.0" r="3.45" fill="#ff0056"/><circle cx="1611.0" cy="826.0" r="3.45" fill="#0088fa"/><circle cx="1398.1" cy="837.5" r="3.45" fill="#8f38bd"/><circle cx="1393.1" cy="819.1" r="3.45" fill="#8a3ec1"/><circle cx="1310.2" cy="828.3" r="3.45" fill="#ff0056"/><circle cx="1394.7" cy="826.0" r="3.45" fill="#635adb"/><circle cx="1404.3" cy="837.5" r="3.45" fill="#635adb"/><circle cx="1400.4" cy="823.7" r="3.45" fill="#5a5ede"/><circle cx="1307.4" cy="826.0" r="3.45" fill="#ff0051"/><circle cx="1406.0" cy="839.8" r="3.45" fill="#d5008f"/><circle cx="1403.0" cy="832.9" r="3.45" fill="#af12a6"/><circle cx="1371.5" cy="821.4" r="3.45" fill="#f6006b"/><circle cx="1396.8" cy="832.9" r="3.45" fill="#d00093"/><circle cx="1360.3" cy="828.3" r="3.45" fill="#f90067"/><circle cx="1395.0" cy="830.6" r="3.45" fill="#de0088"/><circle cx="1398.7" cy="839.8" r="3.45" fill="#794dcf"/><circle cx="1395.6" cy="814.5" r="3.45" fill="#8a3ec1"/><circle cx="1409.4" cy="830.6" r="3.45" fill="#794dcf"/><circle cx="1291.1" cy="828.3" r="3.45" fill="#ff005a"/><circle cx="1370.0" cy="826.0" r="3.45" fill="#c1009d"/><circle cx="1431.3" cy="823.7" r="3.45" fill="#007ff7"/><circle cx="1359.2" cy="826.0" r="3.45" fill="#fd005e"/><circle cx="1332.9" cy="826.0" r="3.45" fill="#ff0051"/><circle cx="1379.0" cy="821.4" r="3.45" fill="#b509a3"/><circle cx="1439.5" cy="876.5" r="3.45" fill="#9b23ad"/><circle cx="1430.6" cy="883.4" r="3.45" fill="#b509a3"/><circle cx="1413.6" cy="892.6" r="3.45" fill="#cb0096"/><circle cx="1441.9" cy="890.3" r="3.45" fill="#635adb"/><circle cx="1413.1" cy="876.5" r="3.45" fill="#f00074"/><circle cx="1411.3" cy="878.8" r="3.45" fill="#f6006b"/><circle cx="1449.3" cy="888.0" r="3.45" fill="#794dcf"/><circle cx="1450.9" cy="878.8" r="3.45" fill="#e20084"/><circle cx="1445.9" cy="881.1" r="3.45" fill="#9332b8"/><circle cx="1463.3" cy="888.0" r="3.45" fill="#008bfb"/><circle cx="1426.8" cy="901.8" r="3.45" fill="#fb0063"/><circle cx="1462.5" cy="883.4" r="3.45" fill="#7f48cb"/><circle cx="1418.1" cy="885.7" r="3.45" fill="#fd005e"/><circle cx="1466.5" cy="888.0" r="3.45" fill="#5a5ede"/><circle cx="1434.6" cy="888.0" r="3.45" fill="#9b23ad"/><circle cx="1451.4" cy="890.3" r="3.45" fill="#7f48cb"/><circle cx="1451.5" cy="892.6" r="3.45" fill="#246cea"/><circle cx="1409.2" cy="883.4" r="3.45" fill="#ff0056"/><circle cx="1428.5" cy="871.9" r="3.45" fill="#cb0096"/><circle cx="1464.6" cy="876.5" r="3.45" fill="#8f38bd"/><circle cx="1444.2" cy="890.3" r="3.45" fill="#e20084"/><circle cx="1459.1" cy="883.4" r="3.45" fill="#6b55d7"/><circle cx="1414.0" cy="890.3" r="3.45" fill="#e9007c"/><circle cx="1423.0" cy="876.5" r="3.45" fill="#f00074"/><circle cx="1452.7" cy="883.4" r="3.45" fill="#0079f3"/><circle cx="1487.5" cy="883.4" r="3.45" fill="#008bfb"/><circle cx="1438.4" cy="881.1" r="3.45" fill="#8a3ec1"/><circle cx="1437.7" cy="874.2" r="3.45" fill="#d5008f"/><circle cx="1421.6" cy="883.4" r="3.45" fill="#9b23ad"/><circle cx="1443.8" cy="878.8" r="3.45" fill="#d00093"/><circle cx="1417.4" cy="897.2" r="3.45" fill="#ed0078"/><circle cx="1419.7" cy="874.2" r="3.45" fill="#f00074"/><circle cx="1451.6" cy="885.7" r="3.45" fill="#af12a6"/><circle cx="1456.0" cy="881.1" r="3.45" fill="#c1009d"/><circle cx="1423.9" cy="883.4" r="3.45" fill="#f00074"/><circle cx="1442.4" cy="892.6" r="3.45" fill="#af12a6"/><circle cx="1429.4" cy="892.6" r="3.45" fill="#8a3ec1"/><circle cx="1527.0" cy="883.4" r="3.45" fill="#0088fa"/><circle cx="1456.7" cy="878.8" r="3.45" fill="#794dcf"/><circle cx="1448.7" cy="890.3" r="3.45" fill="#0073ef"/><circle cx="1483.4" cy="883.4" r="3.45" fill="#007ff7"/><circle cx="1424.1" cy="890.3" r="3.45" fill="#ff0056"/><circle cx="1470.1" cy="883.4" r="3.45" fill="#4565e5"/><circle cx="1397.7" cy="883.4" r="3.45" fill="#f6006b"/><circle cx="1459.3" cy="890.3" r="3.45" fill="#5061e2"/><circle cx="1428.4" cy="869.6" r="3.45" fill="#bb00a0"/><circle cx="1424.5" cy="871.9" r="3.45" fill="#ed0078"/><circle cx="1439.9" cy="881.1" r="3.45" fill="#ff0051"/><circle cx="1458.9" cy="885.7" r="3.45" fill="#7f48cb"/><circle cx="1461.8" cy="881.1" r="3.45" fill="#5061e2"/><circle cx="1449.0" cy="881.1" r="3.45" fill="#a919a8"/><circle cx="1436.8" cy="883.4" r="3.45" fill="#f90067"/><circle cx="1426.3" cy="885.7" r="3.45" fill="#de0088"/><circle cx="1444.6" cy="876.5" r="3.45" fill="#c1009d"/><circle cx="1418.1" cy="874.2" r="3.45" fill="#d5008f"/><circle cx="1426.5" cy="894.9" r="3.45" fill="#d5008f"/><circle cx="1404.5" cy="885.7" r="3.45" fill="#ff0056"/><circle cx="1398.1" cy="885.7" r="3.45" fill="#f6006b"/><circle cx="1413.7" cy="894.9" r="3.45" fill="#ed0078"/><circle cx="1436.2" cy="890.3" r="3.45" fill="#c1009d"/><circle cx="1437.7" cy="885.7" r="3.45" fill="#d00093"/><circle cx="1425.3" cy="876.5" r="3.45" fill="#f90067"/><circle cx="1429.3" cy="890.3" r="3.45" fill="#e20084"/><circle cx="1416.4" cy="892.6" r="3.45" fill="#bb00a0"/><circle cx="1418.5" cy="890.3" r="3.45" fill="#d9008c"/><circle cx="1417.9" cy="894.9" r="3.45" fill="#ff0056"/><circle cx="1463.7" cy="883.4" r="3.45" fill="#4565e5"/><circle cx="1401.9" cy="885.7" r="3.45" fill="#d00093"/><circle cx="1435.3" cy="881.1" r="3.45" fill="#a919a8"/><circle cx="1450.2" cy="888.0" r="3.45" fill="#c1009d"/><circle cx="1472.5" cy="883.4" r="3.45" fill="#0079f3"/><circle cx="1415.6" cy="894.9" r="3.45" fill="#e60080"/><circle cx="1439.9" cy="890.3" r="3.45" fill="#af12a6"/><circle cx="1414.1" cy="885.7" r="3.45" fill="#fb0063"/><circle cx="1426.3" cy="878.8" r="3.45" fill="#d00093"/><circle cx="1422.2" cy="871.9" r="3.45" fill="#f30070"/><circle cx="1424.9" cy="878.8" r="3.45" fill="#e20084"/><circle cx="1395.6" cy="883.4" r="3.45" fill="#e20084"/><circle cx="1431.1" cy="890.3" r="3.45" fill="#9b23ad"/><circle cx="1521.8" cy="883.4" r="3.45" fill="#0088fa"/><circle cx="1420.4" cy="883.4" r="3.45" fill="#f6006b"/><circle cx="1421.9" cy="899.5" r="3.45" fill="#bb00a0"/><circle cx="1468.6" cy="885.7" r="3.45" fill="#5061e2"/><circle cx="1420.2" cy="890.3" r="3.45" fill="#e9007c"/><circle cx="1443.0" cy="885.7" r="3.45" fill="#a919a8"/><circle cx="1460.3" cy="876.5" r="3.45" fill="#794dcf"/><circle cx="1415.1" cy="888.0" r="3.45" fill="#d00093"/><circle cx="1423.7" cy="869.6" r="3.45" fill="#ed0078"/><circle cx="1426.0" cy="890.3" r="3.45" fill="#fb0063"/><circle cx="1415.4" cy="881.1" r="3.45" fill="#d00093"/><circle cx="1458.4" cy="892.6" r="3.45" fill="#5061e2"/><circle cx="1433.2" cy="871.9" r="3.45" fill="#de0088"/><circle cx="1426.3" cy="897.2" r="3.45" fill="#e9007c"/><circle cx="1407.5" cy="883.4" r="3.45" fill="#cb0096"/><circle cx="1416.2" cy="878.8" r="3.45" fill="#ed0078"/><circle cx="1463.6" cy="878.8" r="3.45" fill="#0076f1"/><circle cx="1420.5" cy="867.3" r="3.45" fill="#ed0078"/><circle cx="1450.4" cy="883.4" r="3.45" fill="#af12a6"/><circle cx="1421.5" cy="881.1" r="3.45" fill="#f00074"/><circle cx="1424.6" cy="894.9" r="3.45" fill="#de0088"/><circle cx="1431.0" cy="894.9" r="3.45" fill="#d5008f"/><circle cx="1461.6" cy="888.0" r="3.45" fill="#af12a6"/><circle cx="1458.0" cy="890.3" r="3.45" fill="#8a3ec1"/><circle cx="1462.2" cy="874.2" r="3.45" fill="#3769e8"/><circle cx="1429.0" cy="894.9" r="3.45" fill="#c1009d"/><circle cx="1446.4" cy="885.7" r="3.45" fill="#a21fab"/><circle cx="1462.2" cy="876.5" r="3.45" fill="#0070ed"/><circle cx="1433.5" cy="878.8" r="3.45" fill="#972bb2"/><circle cx="1440.1" cy="888.0" r="3.45" fill="#c1009d"/><circle cx="1427.4" cy="869.6" r="3.45" fill="#ff0051"/><circle cx="1430.3" cy="871.9" r="3.45" fill="#de0088"/><circle cx="1383.0" cy="883.4" r="3.45" fill="#e9007c"/><circle cx="1460.3" cy="892.6" r="3.45" fill="#0073ef"/><circle cx="1433.4" cy="876.5" r="3.45" fill="#cb0096"/><circle cx="1446.5" cy="878.8" r="3.45" fill="#0079f3"/><circle cx="1391.1" cy="883.4" r="3.45" fill="#e20084"/><circle cx="1420.8" cy="888.0" r="3.45" fill="#e20084"/><circle cx="1468.6" cy="883.4" r="3.45" fill="#7251d3"/><circle cx="1472.3" cy="885.7" r="3.45" fill="#246cea"/><circle cx="1433.7" cy="874.2" r="3.45" fill="#de0088"/><circle cx="1432.9" cy="897.2" r="3.45" fill="#de0088"/><circle cx="1433.6" cy="892.6" r="3.45" fill="#bb00a0"/><circle cx="1455.0" cy="885.7" r="3.45" fill="#9b23ad"/><circle cx="1402.8" cy="883.4" r="3.45" fill="#de0088"/><circle cx="1414.1" cy="874.2" r="3.45" fill="#f30070"/><circle cx="1402.6" cy="881.1" r="3.45" fill="#d00093"/><circle cx="1495.2" cy="883.4" r="3.45" fill="#008bfb"/><circle cx="1440.5" cy="885.7" r="3.45" fill="#fb0063"/><circle cx="1412.1" cy="883.4" r="3.45" fill="#e60080"/><circle cx="1406.4" cy="885.7" r="3.45" fill="#ff005a"/><circle cx="1411.0" cy="881.1" r="3.45" fill="#de0088"/><circle cx="1422.3" cy="897.2" r="3.45" fill="#d00093"/><circle cx="1460.4" cy="881.1" r="3.45" fill="#3769e8"/><circle cx="1478.1" cy="885.7" r="3.45" fill="#0082f8"/><circle cx="1464.6" cy="881.1" r="3.45" fill="#7f48cb"/><circle cx="1448.1" cy="876.5" r="3.45" fill="#972bb2"/><circle cx="1464.9" cy="892.6" r="3.45" fill="#246cea"/><circle cx="1420.0" cy="869.6" r="3.45" fill="#e60080"/><circle cx="1425.9" cy="888.0" r="3.45" fill="#ff0051"/><circle cx="1466.8" cy="883.4" r="3.45" fill="#0079f3"/><circle cx="1415.1" cy="885.7" r="3.45" fill="#ff0051"/><circle cx="1424.6" cy="899.5" r="3.45" fill="#d9008c"/><circle cx="1389.8" cy="883.4" r="3.45" fill="#e9007c"/><circle cx="1420.7" cy="897.2" r="3.45" fill="#c1009d"/><circle cx="1429.0" cy="885.7" r="3.45" fill="#d5008f"/><circle cx="1420.1" cy="871.9" r="3.45" fill="#e60080"/><circle cx="1418.6" cy="871.9" r="3.45" fill="#f6006b"/><circle cx="1425.8" cy="899.5" r="3.45" fill="#f00074"/><circle cx="1458.2" cy="874.2" r="3.45" fill="#4565e5"/><circle cx="1414.9" cy="876.5" r="3.45" fill="#d5008f"/><circle cx="1433.8" cy="883.4" r="3.45" fill="#d00093"/><circle cx="1453.4" cy="878.8" r="3.45" fill="#6b55d7"/><circle cx="1464.6" cy="890.3" r="3.45" fill="#0082f8"/><circle cx="1457.1" cy="883.4" r="3.45" fill="#8f38bd"/><circle cx="1413.0" cy="878.8" r="3.45" fill="#f00074"/><circle cx="1440.0" cy="892.6" r="3.45" fill="#5061e2"/><circle cx="1431.2" cy="888.0" r="3.45" fill="#f00074"/><circle cx="1417.0" cy="876.5" r="3.45" fill="#fd005e"/><circle cx="1437.6" cy="894.9" r="3.45" fill="#7f48cb"/><circle cx="1440.6" cy="878.8" r="3.45" fill="#fd005e"/><circle cx="1429.2" cy="878.8" r="3.45" fill="#d00093"/><circle cx="1433.1" cy="869.6" r="3.45" fill="#d9008c"/><circle cx="1481.7" cy="883.4" r="3.45" fill="#0076f1"/><circle cx="1418.0" cy="883.4" r="3.45" fill="#ed0078"/><circle cx="1463.9" cy="874.2" r="3.45" fill="#3769e8"/><circle cx="1437.2" cy="876.5" r="3.45" fill="#a919a8"/><circle cx="1421.9" cy="890.3" r="3.45" fill="#bb00a0"/><circle cx="1441.7" cy="894.9" r="3.45" fill="#4565e5"/><circle cx="1475.0" cy="883.4" r="3.45" fill="#0076f1"/><circle cx="1428.4" cy="897.2" r="3.45" fill="#d5008f"/><circle cx="1427.0" cy="883.4" r="3.45" fill="#ff005a"/><circle cx="1430.8" cy="892.6" r="3.45" fill="#af12a6"/><circle cx="1425.0" cy="867.3" r="3.45" fill="#ff0051"/><circle cx="1456.0" cy="878.8" r="3.45" fill="#0079f3"/><circle cx="1436.1" cy="883.4" r="3.45" fill="#7f48cb"/><circle cx="1453.0" cy="888.0" r="3.45" fill="#8f38bd"/><circle cx="1424.1" cy="888.0" r="3.45" fill="#c6009a"/><circle cx="1478.7" cy="883.4" r="3.45" fill="#0076f1"/><circle cx="1462.6" cy="878.8" r="3.45" fill="#635adb"/><circle cx="1420.0" cy="894.9" r="3.45" fill="#cb0096"/><circle cx="1433.3" cy="888.0" r="3.45" fill="#e9007c"/><circle cx="1426.1" cy="881.1" r="3.45" fill="#c1009d"/><circle cx="1426.9" cy="874.2" r="3.45" fill="#e9007c"/><circle cx="1456.8" cy="888.0" r="3.45" fill="#d5008f"/><circle cx="1430.6" cy="881.1" r="3.45" fill="#ff0051"/><circle cx="1421.0" cy="876.5" r="3.45" fill="#d00093"/><circle cx="1489.8" cy="883.4" r="3.45" fill="#0085f9"/><circle cx="1465.5" cy="885.7" r="3.45" fill="#7f48cb"/><circle cx="1425.0" cy="885.7" r="3.45" fill="#e20084"/><circle cx="1431.7" cy="876.5" r="3.45" fill="#d9008c"/><circle cx="1461.2" cy="885.7" r="3.45" fill="#8443c6"/><circle cx="1415.2" cy="883.4" r="3.45" fill="#d00093"/><circle cx="1455.9" cy="888.0" r="3.45" fill="#7251d3"/><circle cx="1437.7" cy="890.3" r="3.45" fill="#ed0078"/><circle cx="1489.7" cy="885.7" r="3.45" fill="#0076f1"/><circle cx="1422.7" cy="894.9" r="3.45" fill="#ed0078"/><circle cx="1428.1" cy="883.4" r="3.45" fill="#d5008f"/><circle cx="1423.8" cy="881.1" r="3.45" fill="#a919a8"/><circle cx="1430.5" cy="878.8" r="3.45" fill="#f00074"/><circle cx="1454.6" cy="883.4" r="3.45" fill="#7251d3"/><circle cx="1429.6" cy="876.5" r="3.45" fill="#b509a3"/><circle cx="1506.2" cy="883.4" r="3.45" fill="#0082f8"/><circle cx="1439.1" cy="883.4" r="3.45" fill="#b509a3"/><circle cx="1432.8" cy="894.9" r="3.45" fill="#f30070"/><circle cx="1411.0" cy="885.7" r="3.45" fill="#e9007c"/><circle cx="1441.9" cy="876.5" r="3.45" fill="#f6006b"/><circle cx="1478.1" cy="883.4" r="3.45" fill="#007cf5"/><circle cx="1457.3" cy="881.1" r="3.45" fill="#7f48cb"/><circle cx="1441.4" cy="878.8" r="3.45" fill="#cb0096"/><circle cx="1428.6" cy="874.2" r="3.45" fill="#f90067"/><circle cx="1433.1" cy="899.5" r="3.45" fill="#f00074"/><circle cx="1434.6" cy="874.2" r="3.45" fill="#6b55d7"/><circle cx="1431.4" cy="885.7" r="3.45" fill="#e20084"/><circle cx="1509.6" cy="883.4" r="3.45" fill="#008bfb"/><circle cx="1442.8" cy="874.2" r="3.45" fill="#b509a3"/><circle cx="1427.0" cy="876.5" r="3.45" fill="#ff0051"/><circle cx="1433.1" cy="881.1" r="3.45" fill="#972bb2"/><circle cx="1421.4" cy="892.6" r="3.45" fill="#d00093"/><circle cx="1445.9" cy="883.4" r="3.45" fill="#f6006b"/><circle cx="1497.6" cy="885.7" r="3.45" fill="#0082f8"/><circle cx="1417.5" cy="892.6" r="3.45" fill="#d9008c"/><circle cx="1474.9" cy="885.7" r="3.45" fill="#007ff7"/><circle cx="1429.5" cy="888.0" r="3.45" fill="#c1009d"/><circle cx="1441.6" cy="881.1" r="3.45" fill="#ff0051"/><circle cx="1492.0" cy="883.4" r="3.45" fill="#0085f9"/><circle cx="1399.7" cy="885.7" r="3.45" fill="#f30070"/><circle cx="1422.6" cy="874.2" r="3.45" fill="#e9007c"/><circle cx="1456.6" cy="876.5" r="3.45" fill="#007ff7"/><circle cx="1485.8" cy="883.4" r="3.45" fill="#0070ed"/><circle cx="1415.9" cy="874.2" r="3.45" fill="#cb0096"/><circle cx="1443.5" cy="881.1" r="3.45" fill="#9b23ad"/><circle cx="1422.1" cy="878.8" r="3.45" fill="#fb0063"/><circle cx="1411.6" cy="888.0" r="3.45" fill="#e9007c"/><circle cx="1435.7" cy="878.8" r="3.45" fill="#d00093"/><circle cx="1420.2" cy="881.1" r="3.45" fill="#bb00a0"/><circle cx="1432.5" cy="885.7" r="3.45" fill="#c1009d"/><circle cx="1457.4" cy="885.7" r="3.45" fill="#8f38bd"/><circle cx="1448.4" cy="883.4" r="3.45" fill="#7f48cb"/><circle cx="1436.2" cy="897.2" r="3.45" fill="#ed0078"/><circle cx="1372.6" cy="883.4" r="3.45" fill="#bb00a0"/><circle cx="1423.9" cy="892.6" r="3.45" fill="#f6006b"/><circle cx="1435.9" cy="894.9" r="3.45" fill="#cb0096"/><circle cx="1460.2" cy="878.8" r="3.45" fill="#0070ed"/><circle cx="1417.4" cy="881.1" r="3.45" fill="#f90067"/><circle cx="1434.8" cy="876.5" r="3.45" fill="#e60080"/><circle cx="1444.6" cy="888.0" r="3.45" fill="#bb00a0"/><circle cx="1417.3" cy="888.0" r="3.45" fill="#fd005e"/><circle cx="1419.6" cy="892.6" r="3.45" fill="#ff005a"/><circle cx="1436.9" cy="888.0" r="3.45" fill="#972bb2"/><circle cx="1460.4" cy="888.0" r="3.45" fill="#af12a6"/><circle cx="1420.9" cy="878.8" r="3.45" fill="#c1009d"/><circle cx="1401.1" cy="883.4" r="3.45" fill="#e20084"/><circle cx="1393.1" cy="883.4" r="3.45" fill="#d5008f"/><circle cx="1422.2" cy="885.7" r="3.45" fill="#d9008c"/><circle cx="1466.6" cy="878.8" r="3.45" fill="#0088fa"/><circle cx="1404.2" cy="883.4" r="3.45" fill="#de0088"/><circle cx="1432.7" cy="890.3" r="3.45" fill="#a919a8"/><circle cx="1428.6" cy="881.1" r="3.45" fill="#ff0051"/><circle cx="1417.0" cy="878.8" r="3.45" fill="#f30070"/><circle cx="1419.3" cy="885.7" r="3.45" fill="#f90067"/><circle cx="1470.4" cy="881.1" r="3.45" fill="#0073ef"/><circle cx="1469.9" cy="885.7" r="3.45" fill="#6b55d7"/><circle cx="1449.0" cy="878.8" r="3.45" fill="#af12a6"/><circle cx="1419.3" cy="899.5" r="3.45" fill="#f30070"/><circle cx="1421.5" cy="867.3" r="3.45" fill="#b509a3"/><circle cx="1421.9" cy="869.6" r="3.45" fill="#e9007c"/><circle cx="1431.1" cy="874.2" r="3.45" fill="#f00074"/><circle cx="1448.7" cy="885.7" r="3.45" fill="#d00093"/><circle cx="1426.4" cy="867.3" r="3.45" fill="#e20084"/><circle cx="1461.3" cy="890.3" r="3.45" fill="#7251d3"/><circle cx="1463.4" cy="885.7" r="3.45" fill="#4565e5"/><circle cx="1444.7" cy="885.7" r="3.45" fill="#e60080"/><circle cx="1424.5" cy="874.2" r="3.45" fill="#9b23ad"/><circle cx="1426.6" cy="871.9" r="3.45" fill="#ed0078"/><circle cx="1415.8" cy="890.3" r="3.45" fill="#a919a8"/><circle cx="1413.3" cy="881.1" r="3.45" fill="#ff005a"/><circle cx="1412.8" cy="888.0" r="3.45" fill="#f00074"/><circle cx="1452.4" cy="885.7" r="3.45" fill="#a21fab"/><circle cx="1438.5" cy="878.8" r="3.45" fill="#e60080"/><circle cx="1454.8" cy="890.3" r="3.45" fill="#af12a6"/><circle cx="1427.0" cy="892.6" r="3.45" fill="#c1009d"/><circle cx="1445.9" cy="888.0" r="3.45" fill="#972bb2"/><circle cx="1436.1" cy="892.6" r="3.45" fill="#f30070"/><circle cx="1438.5" cy="892.6" r="3.45" fill="#c1009d"/><circle cx="1461.6" cy="892.6" r="3.45" fill="#007ff7"/><circle cx="1435.5" cy="871.9" r="3.45" fill="#ff0051"/><circle cx="1497.8" cy="883.4" r="3.45" fill="#007ff7"/><circle cx="1450.7" cy="876.5" r="3.45" fill="#b509a3"/><circle cx="1498.9" cy="883.4" r="3.45" fill="#008bfb"/><circle cx="1444.1" cy="883.4" r="3.45" fill="#e20084"/><circle cx="1453.5" cy="881.1" r="3.45" fill="#8a3ec1"/><circle cx="1465.5" cy="881.1" r="3.45" fill="#3769e8"/><circle cx="1425.0" cy="897.2" r="3.45" fill="#ed0078"/><circle cx="1508.9" cy="883.4" r="3.45" fill="#008bfb"/><circle cx="1413.0" cy="883.4" r="3.45" fill="#e9007c"/><circle cx="1450.4" cy="881.1" r="3.45" fill="#7251d3"/><circle cx="1441.7" cy="888.0" r="3.45" fill="#d00093"/><circle cx="1436.3" cy="885.7" r="3.45" fill="#de0088"/><circle cx="1441.5" cy="883.4" r="3.45" fill="#e9007c"/><circle cx="1421.4" cy="888.0" r="3.45" fill="#ed0078"/><circle cx="1424.6" cy="943.1" r="3.45" fill="#ff0051"/><circle cx="1463.6" cy="940.8" r="3.45" fill="#008bfb"/><circle cx="1481.2" cy="945.4" r="3.45" fill="#008bfb"/><circle cx="1430.4" cy="943.1" r="3.45" fill="#ff0051"/><circle cx="1442.8" cy="938.5" r="3.45" fill="#ff0051"/><circle cx="1476.2" cy="931.6" r="3.45" fill="#008bfb"/><circle cx="1417.5" cy="945.4" r="3.45" fill="#ff0051"/><circle cx="1475.2" cy="947.7" r="3.45" fill="#008bfb"/><circle cx="1467.1" cy="940.8" r="3.45" fill="#008bfb"/><circle cx="1455.1" cy="952.3" r="3.45" fill="#ff0051"/><circle cx="1466.3" cy="929.3" r="3.45" fill="#008bfb"/><circle cx="1485.3" cy="938.5" r="3.45" fill="#008bfb"/><circle cx="1451.7" cy="950.0" r="3.45" fill="#ff0051"/><circle cx="1455.4" cy="950.0" r="3.45" fill="#ff0051"/><circle cx="1447.4" cy="936.2" r="3.45" fill="#ff0051"/><circle cx="1458.2" cy="950.0" r="3.45" fill="#ff0051"/><circle cx="1439.5" cy="940.8" r="3.45" fill="#ff0051"/><circle cx="1469.8" cy="954.6" r="3.45" fill="#008bfb"/><circle cx="1411.9" cy="940.8" r="3.45" fill="#ff0051"/><circle cx="1487.0" cy="938.5" r="3.45" fill="#008bfb"/><circle cx="1477.9" cy="950.0" r="3.45" fill="#008bfb"/><circle cx="1440.8" cy="940.8" r="3.45" fill="#ff0051"/><circle cx="1437.5" cy="940.8" r="3.45" fill="#ff0051"/><circle cx="1479.6" cy="952.3" r="3.45" fill="#008bfb"/><circle cx="1462.9" cy="952.3" r="3.45" fill="#ff0051"/><circle cx="1485.8" cy="945.4" r="3.45" fill="#008bfb"/><circle cx="1450.0" cy="936.2" r="3.45" fill="#ff0051"/><circle cx="1455.2" cy="943.1" r="3.45" fill="#ff0051"/><circle cx="1458.8" cy="936.2" r="3.45" fill="#ff0051"/><circle cx="1482.6" cy="943.1" r="3.45" fill="#008bfb"/><circle cx="1480.5" cy="940.8" r="3.45" fill="#008bfb"/><circle cx="1469.9" cy="938.5" r="3.45" fill="#008bfb"/><circle cx="1466.0" cy="927.0" r="3.45" fill="#008bfb"/><circle cx="1478.9" cy="929.3" r="3.45" fill="#008bfb"/><circle cx="1468.0" cy="952.3" r="3.45" fill="#008bfb"/><circle cx="1444.3" cy="945.4" r="3.45" fill="#ff0051"/><circle cx="1426.0" cy="940.8" r="3.45" fill="#ff0051"/><circle cx="1460.8" cy="947.7" r="3.45" fill="#ff0051"/><circle cx="1481.3" cy="931.6" r="3.45" fill="#008bfb"/><circle cx="1441.3" cy="936.2" r="3.45" fill="#ff0051"/><circle cx="1431.0" cy="940.8" r="3.45" fill="#ff0051"/><circle cx="1475.1" cy="943.1" r="3.45" fill="#008bfb"/><circle cx="1454.3" cy="938.5" r="3.45" fill="#ff0051"/><circle cx="1468.5" cy="947.7" r="3.45" fill="#008bfb"/><circle cx="1487.3" cy="940.8" r="3.45" fill="#008bfb"/><circle cx="1432.7" cy="945.4" r="3.45" fill="#ff0051"/><circle cx="1476.5" cy="933.9" r="3.45" fill="#008bfb"/><circle cx="1467.3" cy="950.0" r="3.45" fill="#008bfb"/><circle cx="1464.8" cy="950.0" r="3.45" fill="#008bfb"/><circle cx="1467.1" cy="933.9" r="3.45" fill="#008bfb"/><circle cx="1462.0" cy="943.1" r="3.45" fill="#ff0051"/><circle cx="1459.2" cy="933.9" r="3.45" fill="#ff0051"/><circle cx="1434.5" cy="936.2" r="3.45" fill="#ff0051"/><circle cx="1483.9" cy="936.2" r="3.45" fill="#008bfb"/><circle cx="1432.4" cy="938.5" r="3.45" fill="#ff0051"/><circle cx="1456.3" cy="943.1" r="3.45" fill="#ff0051"/><circle cx="1461.8" cy="936.2" r="3.45" fill="#008bfb"/><circle cx="1468.3" cy="954.6" r="3.45" fill="#008bfb"/><circle cx="1417.8" cy="943.1" r="3.45" fill="#ff0051"/><circle cx="1421.1" cy="940.8" r="3.45" fill="#ff0051"/><circle cx="1419.0" cy="938.5" r="3.45" fill="#ff0051"/><circle cx="1475.0" cy="938.5" r="3.45" fill="#008bfb"/><circle cx="1404.7" cy="940.8" r="3.45" fill="#ff0051"/><circle cx="1460.4" cy="940.8" r="3.45" fill="#ff0051"/><circle cx="1472.7" cy="933.9" r="3.45" fill="#008bfb"/><circle cx="1454.2" cy="945.4" r="3.45" fill="#ff0051"/><circle cx="1437.1" cy="943.1" r="3.45" fill="#ff0051"/><circle cx="1434.2" cy="940.8" r="3.45" fill="#ff0051"/><circle cx="1450.4" cy="938.5" r="3.45" fill="#ff0051"/><circle cx="1430.4" cy="938.5" r="3.45" fill="#ff0051"/><circle cx="1477.2" cy="940.8" r="3.45" fill="#008bfb"/><circle cx="1473.0" cy="943.1" r="3.45" fill="#008bfb"/><circle cx="1473.5" cy="954.6" r="3.45" fill="#008bfb"/><circle cx="1478.4" cy="931.6" r="3.45" fill="#008bfb"/><circle cx="1435.4" cy="943.1" r="3.45" fill="#ff0051"/><circle cx="1478.0" cy="954.6" r="3.45" fill="#008bfb"/><circle cx="1470.8" cy="945.4" r="3.45" fill="#008bfb"/><circle cx="1481.5" cy="950.0" r="3.45" fill="#008bfb"/><circle cx="1462.9" cy="938.5" r="3.45" fill="#ff0051"/><circle cx="1480.2" cy="936.2" r="3.45" fill="#008bfb"/><circle cx="1406.7" cy="940.8" r="3.45" fill="#ff0051"/><circle cx="1440.7" cy="945.4" r="3.45" fill="#ff0051"/><circle cx="1459.4" cy="945.4" r="3.45" fill="#ff0051"/><circle cx="1470.3" cy="950.0" r="3.45" fill="#008bfb"/><circle cx="1440.1" cy="945.4" r="3.45" fill="#ff0051"/><circle cx="1454.9" cy="936.2" r="3.45" fill="#ff0051"/><circle cx="1410.3" cy="940.8" r="3.45" fill="#ff0051"/><circle cx="1482.5" cy="947.7" r="3.45" fill="#008bfb"/><circle cx="1444.1" cy="940.8" r="3.45" fill="#ff0051"/><circle cx="1452.7" cy="938.5" r="3.45" fill="#ff0051"/><circle cx="1418.0" cy="940.8" r="3.45" fill="#ff0051"/><circle cx="1470.4" cy="936.2" r="3.45" fill="#008bfb"/><circle cx="1461.5" cy="945.4" r="3.45" fill="#ff0051"/><circle cx="1438.8" cy="938.5" r="3.45" fill="#ff0051"/><circle cx="1489.9" cy="943.1" r="3.45" fill="#008bfb"/><circle cx="1466.2" cy="940.8" r="3.45" fill="#008bfb"/><circle cx="1443.4" cy="936.2" r="3.45" fill="#ff0051"/><circle cx="1478.3" cy="938.5" r="3.45" fill="#008bfb"/><circle cx="1472.7" cy="947.7" r="3.45" fill="#008bfb"/><circle cx="1472.9" cy="950.0" r="3.45" fill="#008bfb"/><circle cx="1429.7" cy="945.4" r="3.45" fill="#ff0051"/><circle cx="1469.7" cy="940.8" r="3.45" fill="#008bfb"/><circle cx="1480.4" cy="938.5" r="3.45" fill="#008bfb"/><circle cx="1466.3" cy="954.6" r="3.45" fill="#008bfb"/><circle cx="1433.9" cy="945.4" r="3.45" fill="#ff0051"/><circle cx="1407.7" cy="940.8" r="3.45" fill="#ff0051"/><circle cx="1427.6" cy="938.5" r="3.45" fill="#ff0051"/><circle cx="1419.8" cy="943.1" r="3.45" fill="#ff0051"/><circle cx="1462.9" cy="943.1" r="3.45" fill="#008bfb"/><circle cx="1485.2" cy="936.2" r="3.45" fill="#008bfb"/><circle cx="1476.2" cy="952.3" r="3.45" fill="#008bfb"/><circle cx="1423.4" cy="940.8" r="3.45" fill="#ff0051"/><circle cx="1460.3" cy="938.5" r="3.45" fill="#ff0051"/><circle cx="1472.5" cy="936.2" r="3.45" fill="#008bfb"/><circle cx="1459.6" cy="943.1" r="3.45" fill="#ff0051"/><circle cx="1466.4" cy="938.5" r="3.45" fill="#008bfb"/><circle cx="1484.0" cy="945.4" r="3.45" fill="#008bfb"/><circle cx="1474.4" cy="931.6" r="3.45" fill="#008bfb"/><circle cx="1436.8" cy="938.5" r="3.45" fill="#ff0051"/><circle cx="1447.4" cy="940.8" r="3.45" fill="#ff0051"/><circle cx="1428.9" cy="945.4" r="3.45" fill="#ff0051"/><circle cx="1468.0" cy="945.4" r="3.45" fill="#008bfb"/><circle cx="1486.2" cy="943.1" r="3.45" fill="#008bfb"/><circle cx="1481.5" cy="933.9" r="3.45" fill="#008bfb"/><circle cx="1431.9" cy="940.8" r="3.45" fill="#ff0051"/><circle cx="1467.5" cy="929.3" r="3.45" fill="#008bfb"/><circle cx="1456.4" cy="931.6" r="3.45" fill="#ff0051"/><circle cx="1491.4" cy="940.8" r="3.45" fill="#008bfb"/><circle cx="1466.1" cy="933.9" r="3.45" fill="#008bfb"/><circle cx="1451.6" cy="952.3" r="3.45" fill="#ff0051"/><circle cx="1457.5" cy="927.0" r="3.45" fill="#ff0051"/><circle cx="1445.2" cy="945.4" r="3.45" fill="#ff0051"/><circle cx="1419.0" cy="940.8" r="3.45" fill="#ff0051"/><circle cx="1415.0" cy="940.8" r="3.45" fill="#ff0051"/><circle cx="1454.5" cy="929.3" r="3.45" fill="#ff0051"/><circle cx="1472.5" cy="940.8" r="3.45" fill="#008bfb"/><circle cx="1456.7" cy="950.0" r="3.45" fill="#ff0051"/><circle cx="1476.4" cy="945.4" r="3.45" fill="#008bfb"/><circle cx="1474.1" cy="945.4" r="3.45" fill="#008bfb"/><circle cx="1450.2" cy="933.9" r="3.45" fill="#ff0051"/><circle cx="1437.5" cy="945.4" r="3.45" fill="#ff0051"/><circle cx="1457.1" cy="945.4" r="3.45" fill="#ff0051"/><circle cx="1474.4" cy="936.2" r="3.45" fill="#008bfb"/><circle cx="1439.8" cy="943.1" r="3.45" fill="#ff0051"/><circle cx="1456.3" cy="947.7" r="3.45" fill="#ff0051"/><circle cx="1478.9" cy="945.4" r="3.45" fill="#008bfb"/><circle cx="1465.8" cy="956.9" r="3.45" fill="#008bfb"/><circle cx="1447.6" cy="945.4" r="3.45" fill="#ff0051"/><circle cx="1460.3" cy="933.9" r="3.45" fill="#ff0051"/><circle cx="1453.7" cy="933.9" r="3.45" fill="#ff0051"/><circle cx="1457.1" cy="954.6" r="3.45" fill="#ff0051"/><circle cx="1463.8" cy="950.0" r="3.45" fill="#008bfb"/><circle cx="1463.0" cy="931.6" r="3.45" fill="#008bfb"/><circle cx="1469.4" cy="929.3" r="3.45" fill="#008bfb"/><circle cx="1473.6" cy="929.3" r="3.45" fill="#008bfb"/><circle cx="1450.7" cy="943.1" r="3.45" fill="#ff0051"/><circle cx="1416.4" cy="938.5" r="3.45" fill="#ff0051"/><circle cx="1426.3" cy="943.1" r="3.45" fill="#ff0051"/><circle cx="1454.3" cy="931.6" r="3.45" fill="#ff0051"/><circle cx="1477.1" cy="936.2" r="3.45" fill="#008bfb"/><circle cx="1414.3" cy="938.5" r="3.45" fill="#ff0051"/><circle cx="1487.1" cy="943.1" r="3.45" fill="#008bfb"/><circle cx="1464.9" cy="931.6" r="3.45" fill="#008bfb"/><circle cx="1458.2" cy="947.7" r="3.45" fill="#ff0051"/><circle cx="1467.2" cy="936.2" r="3.45" fill="#008bfb"/><circle cx="1465.3" cy="952.3" r="3.45" fill="#008bfb"/><circle cx="1480.4" cy="943.1" r="3.45" fill="#008bfb"/><circle cx="1478.5" cy="943.1" r="3.45" fill="#008bfb"/><circle cx="1458.4" cy="952.3" r="3.45" fill="#ff0051"/><circle cx="1451.6" cy="943.1" r="3.45" fill="#ff0051"/><circle cx="1476.3" cy="950.0" r="3.45" fill="#008bfb"/><circle cx="1474.4" cy="933.9" r="3.45" fill="#008bfb"/><circle cx="1459.5" cy="931.6" r="3.45" fill="#ff0051"/><circle cx="1432.9" cy="943.1" r="3.45" fill="#ff0051"/><circle cx="1471.9" cy="931.6" r="3.45" fill="#008bfb"/><circle cx="1459.6" cy="940.8" r="3.45" fill="#ff0051"/><circle cx="1411.3" cy="943.1" r="3.45" fill="#ff0051"/><circle cx="1482.6" cy="938.5" r="3.45" fill="#008bfb"/><circle cx="1474.9" cy="950.0" r="3.45" fill="#008bfb"/><circle cx="1453.9" cy="947.7" r="3.45" fill="#ff0051"/><circle cx="1468.5" cy="938.5" r="3.45" fill="#008bfb"/><circle cx="1469.6" cy="931.6" r="3.45" fill="#008bfb"/><circle cx="1450.6" cy="947.7" r="3.45" fill="#ff0051"/><circle cx="1431.1" cy="936.2" r="3.45" fill="#ff0051"/><circle cx="1468.2" cy="943.1" r="3.45" fill="#008bfb"/><circle cx="1464.2" cy="936.2" r="3.45" fill="#ff0051"/><circle cx="1472.8" cy="938.5" r="3.45" fill="#008bfb"/><circle cx="1457.2" cy="938.5" r="3.45" fill="#ff0051"/><circle cx="1486.3" cy="940.8" r="3.45" fill="#008bfb"/><circle cx="1464.2" cy="945.4" r="3.45" fill="#008bfb"/><circle cx="1445.4" cy="940.8" r="3.45" fill="#ff0051"/><circle cx="1466.2" cy="936.2" r="3.45" fill="#008bfb"/><circle cx="1478.9" cy="947.7" r="3.45" fill="#008bfb"/><circle cx="1465.2" cy="943.1" r="3.45" fill="#008bfb"/><circle cx="1447.4" cy="938.5" r="3.45" fill="#ff0051"/><circle cx="1463.9" cy="933.9" r="3.45" fill="#ff0051"/><circle cx="1459.4" cy="938.5" r="3.45" fill="#ff0051"/><circle cx="1447.2" cy="943.1" r="3.45" fill="#ff0051"/><circle cx="1450.7" cy="940.8" r="3.45" fill="#ff0051"/><circle cx="1472.4" cy="945.4" r="3.45" fill="#008bfb"/><circle cx="1452.1" cy="945.4" r="3.45" fill="#ff0051"/><circle cx="1469.2" cy="943.1" r="3.45" fill="#008bfb"/><circle cx="1452.6" cy="933.9" r="3.45" fill="#ff0051"/><circle cx="1453.0" cy="931.6" r="3.45" fill="#ff0051"/><circle cx="1475.0" cy="952.3" r="3.45" fill="#008bfb"/><circle cx="1426.8" cy="938.5" r="3.45" fill="#ff0051"/><circle cx="1450.7" cy="945.4" r="3.45" fill="#ff0051"/><circle cx="1463.3" cy="947.7" r="3.45" fill="#ff0051"/><circle cx="1445.5" cy="938.5" r="3.45" fill="#ff0051"/><circle cx="1476.6" cy="943.1" r="3.45" fill="#008bfb"/><circle cx="1441.1" cy="943.1" r="3.45" fill="#ff0051"/><circle cx="1445.0" cy="943.1" r="3.45" fill="#ff0051"/><circle cx="1413.0" cy="943.1" r="3.45" fill="#ff0051"/><circle cx="1456.7" cy="929.3" r="3.45" fill="#ff0051"/><circle cx="1457.0" cy="956.9" r="3.45" fill="#ff0051"/><circle cx="1428.5" cy="943.1" r="3.45" fill="#ff0051"/><circle cx="1453.0" cy="940.8" r="3.45" fill="#ff0051"/><circle cx="1469.6" cy="952.3" r="3.45" fill="#008bfb"/><circle cx="1434.1" cy="938.5" r="3.45" fill="#ff0051"/><circle cx="1451.6" cy="936.2" r="3.45" fill="#ff0051"/><circle cx="1457.5" cy="952.3" r="3.45" fill="#ff0051"/><circle cx="1483.2" cy="940.8" r="3.45" fill="#008bfb"/><circle cx="1478.3" cy="940.8" r="3.45" fill="#008bfb"/><circle cx="1465.6" cy="945.4" r="3.45" fill="#ff0051"/><circle cx="1415.9" cy="943.1" r="3.45" fill="#ff0051"/><circle cx="1468.4" cy="931.6" r="3.45" fill="#008bfb"/><circle cx="1469.5" cy="947.7" r="3.45" fill="#008bfb"/><circle cx="1492.5" cy="943.1" r="3.45" fill="#008bfb"/><circle cx="1456.8" cy="936.2" r="3.45" fill="#ff0051"/><circle cx="1441.4" cy="938.5" r="3.45" fill="#ff0051"/><circle cx="1477.2" cy="938.5" r="3.45" fill="#008bfb"/><circle cx="1427.6" cy="940.8" r="3.45" fill="#ff0051"/><circle cx="1423.3" cy="938.5" r="3.45" fill="#ff0051"/><circle cx="1478.0" cy="936.2" r="3.45" fill="#008bfb"/><circle cx="1456.3" cy="933.9" r="3.45" fill="#ff0051"/><circle cx="1481.0" cy="947.7" r="3.45" fill="#008bfb"/><circle cx="1474.8" cy="940.8" r="3.45" fill="#008bfb"/><circle cx="1454.1" cy="940.8" r="3.45" fill="#ff0051"/><circle cx="1465.8" cy="947.7" r="3.45" fill="#008bfb"/><circle cx="1443.4" cy="943.1" r="3.45" fill="#ff0051"/><circle cx="1475.7" cy="947.7" r="3.45" fill="#008bfb"/><circle cx="1478.6" cy="933.9" r="3.45" fill="#008bfb"/><circle cx="1470.6" cy="933.9" r="3.45" fill="#008bfb"/><circle cx="1457.2" cy="940.8" r="3.45" fill="#ff0051"/><circle cx="1490.0" cy="940.8" r="3.45" fill="#008bfb"/><circle cx="1452.1" cy="947.7" r="3.45" fill="#ff0051"/><circle cx="1442.6" cy="1000.5" r="3.45" fill="#d00093"/><circle cx="1456.7" cy="1012.0" r="3.45" fill="#3769e8"/><circle cx="1420.6" cy="998.2" r="3.45" fill="#0085f9"/><circle cx="1451.9" cy="993.6" r="3.45" fill="#ff0051"/><circle cx="1453.1" cy="1005.1" r="3.45" fill="#bb00a0"/><circle cx="1458.9" cy="1002.8" r="3.45" fill="#8443c6"/><circle cx="1455.1" cy="986.7" r="3.45" fill="#a21fab"/><circle cx="1463.6" cy="986.7" r="3.45" fill="#7251d3"/><circle cx="1455.0" cy="1012.0" r="3.45" fill="#794dcf"/><circle cx="1458.6" cy="1014.3" r="3.45" fill="#d9008c"/><circle cx="1443.9" cy="998.2" r="3.45" fill="#c1009d"/><circle cx="1445.9" cy="998.2" r="3.45" fill="#ff005a"/><circle cx="1472.0" cy="995.9" r="3.45" fill="#007cf5"/><circle cx="1415.5" cy="998.2" r="3.45" fill="#794dcf"/><circle cx="1456.2" cy="993.6" r="3.45" fill="#b509a3"/><circle cx="1450.4" cy="998.2" r="3.45" fill="#9b23ad"/><circle cx="1463.9" cy="998.2" r="3.45" fill="#8443c6"/><circle cx="1457.7" cy="1014.3" r="3.45" fill="#8a3ec1"/><circle cx="1466.3" cy="991.3" r="3.45" fill="#5061e2"/><circle cx="1467.8" cy="1002.8" r="3.45" fill="#635adb"/><circle cx="1475.2" cy="1000.5" r="3.45" fill="#4565e5"/><circle cx="1467.4" cy="998.2" r="3.45" fill="#008bfb"/><circle cx="1466.0" cy="1002.8" r="3.45" fill="#6b55d7"/><circle cx="1449.1" cy="991.3" r="3.45" fill="#d5008f"/><circle cx="1440.4" cy="998.2" r="3.45" fill="#bb00a0"/><circle cx="1463.4" cy="1009.7" r="3.45" fill="#6b55d7"/><circle cx="1450.0" cy="1000.5" r="3.45" fill="#f30070"/><circle cx="1452.1" cy="998.2" r="3.45" fill="#794dcf"/><circle cx="1458.7" cy="993.6" r="3.45" fill="#9332b8"/><circle cx="1453.3" cy="1007.4" r="3.45" fill="#ff0051"/><circle cx="1460.9" cy="1000.5" r="3.45" fill="#7f48cb"/><circle cx="1472.8" cy="998.2" r="3.45" fill="#007ff7"/><circle cx="1455.5" cy="995.9" r="3.45" fill="#635adb"/><circle cx="1451.2" cy="1002.8" r="3.45" fill="#e60080"/><circle cx="1461.8" cy="993.6" r="3.45" fill="#246cea"/><circle cx="1451.1" cy="1007.4" r="3.45" fill="#d9008c"/><circle cx="1454.4" cy="984.4" r="3.45" fill="#7251d3"/><circle cx="1448.0" cy="1002.8" r="3.45" fill="#d9008c"/><circle cx="1457.8" cy="995.9" r="3.45" fill="#9b23ad"/><circle cx="1463.1" cy="989.0" r="3.45" fill="#7f48cb"/><circle cx="1446.7" cy="1005.1" r="3.45" fill="#ff0051"/><circle cx="1448.3" cy="998.2" r="3.45" fill="#d00093"/><circle cx="1458.8" cy="1000.5" r="3.45" fill="#ff0056"/><circle cx="1432.6" cy="998.2" r="3.45" fill="#c6009a"/><circle cx="1463.9" cy="1002.8" r="3.45" fill="#9332b8"/><circle cx="1485.8" cy="998.2" r="3.45" fill="#fd005e"/><circle cx="1463.6" cy="991.3" r="3.45" fill="#cb0096"/><circle cx="1451.1" cy="1005.1" r="3.45" fill="#f90067"/><circle cx="1461.5" cy="998.2" r="3.45" fill="#246cea"/><circle cx="1460.0" cy="995.9" r="3.45" fill="#635adb"/><circle cx="1455.1" cy="1000.5" r="3.45" fill="#a21fab"/><circle cx="1457.5" cy="1000.5" r="3.45" fill="#c6009a"/><circle cx="1466.3" cy="998.2" r="3.45" fill="#008bfb"/><circle cx="1450.8" cy="1009.7" r="3.45" fill="#635adb"/><circle cx="1456.3" cy="986.7" r="3.45" fill="#972bb2"/><circle cx="1468.5" cy="993.6" r="3.45" fill="#5a5ede"/><circle cx="1458.6" cy="984.4" r="3.45" fill="#0082f8"/><circle cx="1454.7" cy="1002.8" r="3.45" fill="#794dcf"/><circle cx="1461.8" cy="1005.1" r="3.45" fill="#0085f9"/><circle cx="1453.1" cy="1000.5" r="3.45" fill="#ff0051"/><circle cx="1459.3" cy="998.2" r="3.45" fill="#e60080"/><circle cx="1452.3" cy="1009.7" r="3.45" fill="#ff0051"/><circle cx="1458.6" cy="991.3" r="3.45" fill="#0070ed"/><circle cx="1427.5" cy="998.2" r="3.45" fill="#0085f9"/><circle cx="1455.6" cy="991.3" r="3.45" fill="#bb00a0"/><circle cx="1445.6" cy="995.9" r="3.45" fill="#ff0056"/><circle cx="1478.8" cy="998.2" r="3.45" fill="#007ff7"/><circle cx="1492.5" cy="998.2" r="3.45" fill="#ff0056"/><circle cx="1462.0" cy="1002.8" r="3.45" fill="#635adb"/><circle cx="1459.8" cy="1007.4" r="3.45" fill="#9b23ad"/><circle cx="1469.9" cy="995.9" r="3.45" fill="#635adb"/><circle cx="1456.6" cy="991.3" r="3.45" fill="#972bb2"/><circle cx="1470.8" cy="998.2" r="3.45" fill="#0070ed"/><circle cx="1490.2" cy="998.2" r="3.45" fill="#ff0051"/><circle cx="1459.3" cy="986.7" r="3.45" fill="#0070ed"/><circle cx="1454.1" cy="989.0" r="3.45" fill="#d5008f"/><circle cx="1450.5" cy="993.6" r="3.45" fill="#ed0078"/><circle cx="1453.5" cy="995.9" r="3.45" fill="#635adb"/><circle cx="1448.8" cy="993.6" r="3.45" fill="#cb0096"/><circle cx="1459.6" cy="1005.1" r="3.45" fill="#8443c6"/><circle cx="1468.1" cy="995.9" r="3.45" fill="#4565e5"/><circle cx="1465.1" cy="993.6" r="3.45" fill="#5061e2"/><circle cx="1459.3" cy="1012.0" r="3.45" fill="#9332b8"/><circle cx="1454.7" cy="998.2" r="3.45" fill="#e20084"/><circle cx="1456.6" cy="984.4" r="3.45" fill="#9332b8"/><circle cx="1457.5" cy="1009.7" r="3.45" fill="#e9007c"/><circle cx="1452.9" cy="1002.8" r="3.45" fill="#ed0078"/><circle cx="1455.7" cy="1007.4" r="3.45" fill="#8f38bd"/><circle cx="1531.0" cy="998.2" r="3.45" fill="#0088fa"/><circle cx="1464.5" cy="1005.1" r="3.45" fill="#8f38bd"/><circle cx="1476.7" cy="998.2" r="3.45" fill="#007cf5"/><circle cx="1450.1" cy="991.3" r="3.45" fill="#c6009a"/><circle cx="1446.6" cy="1002.8" r="3.45" fill="#ff005a"/><circle cx="1455.0" cy="982.1" r="3.45" fill="#d5008f"/><circle cx="1463.8" cy="995.9" r="3.45" fill="#9b23ad"/><circle cx="1459.1" cy="1009.7" r="3.45" fill="#b509a3"/><circle cx="1451.3" cy="989.0" r="3.45" fill="#8a3ec1"/><circle cx="1455.6" cy="1005.1" r="3.45" fill="#972bb2"/><circle cx="1462.1" cy="1007.4" r="3.45" fill="#972bb2"/><circle cx="1465.3" cy="1005.1" r="3.45" fill="#0088fa"/><circle cx="1452.1" cy="989.0" r="3.45" fill="#fd005e"/><circle cx="1504.7" cy="998.2" r="3.45" fill="#0088fa"/><circle cx="1456.7" cy="1002.8" r="3.45" fill="#4565e5"/><circle cx="1456.5" cy="989.0" r="3.45" fill="#c6009a"/><circle cx="1456.8" cy="998.2" r="3.45" fill="#ff0051"/><circle cx="1463.1" cy="1000.5" r="3.45" fill="#d00093"/><circle cx="1461.7" cy="1012.0" r="3.45" fill="#af12a6"/><circle cx="1468.7" cy="1000.5" r="3.45" fill="#0079f3"/><circle cx="1455.6" cy="1014.3" r="3.45" fill="#8a3ec1"/><circle cx="1474.4" cy="998.2" r="3.45" fill="#0085f9"/><circle cx="1451.0" cy="995.9" r="3.45" fill="#de0088"/><circle cx="1472.9" cy="1000.5" r="3.45" fill="#0079f3"/><circle cx="1484.3" cy="998.2" r="3.45" fill="#fd005e"/><circle cx="1448.6" cy="1000.5" r="3.45" fill="#f6006b"/><circle cx="1461.1" cy="991.3" r="3.45" fill="#f00074"/><circle cx="1399.4" cy="998.2" r="3.45" fill="#bb00a0"/><circle cx="1443.8" cy="1000.5" r="3.45" fill="#ed0078"/><circle cx="1446.1" cy="993.6" r="3.45" fill="#ff0056"/><circle cx="1454.6" cy="979.8" r="3.45" fill="#f6006b"/><circle cx="1448.3" cy="995.9" r="3.45" fill="#ed0078"/><circle cx="1455.1" cy="1009.7" r="3.45" fill="#b509a3"/><circle cx="1454.1" cy="1016.6" r="3.45" fill="#ff0051"/><circle cx="1461.6" cy="989.0" r="3.45" fill="#9b23ad"/><circle cx="1470.3" cy="1002.8" r="3.45" fill="#0082f8"/><circle cx="1465.4" cy="995.9" r="3.45" fill="#246cea"/><circle cx="1457.8" cy="1007.4" r="3.45" fill="#fb0063"/><circle cx="1454.3" cy="993.6" r="3.45" fill="#ff0051"/><circle cx="1470.2" cy="1000.5" r="3.45" fill="#a21fab"/><circle cx="1463.4" cy="1007.4" r="3.45" fill="#008bfb"/><circle cx="1452.7" cy="991.3" r="3.45" fill="#ff0051"/><circle cx="1461.8" cy="986.7" r="3.45" fill="#8a3ec1"/><circle cx="1465.0" cy="1000.5" r="3.45" fill="#a21fab"/><circle cx="1445.2" cy="1000.5" r="3.45" fill="#ff0051"/><circle cx="1453.4" cy="986.7" r="3.45" fill="#ed0078"/><circle cx="1453.3" cy="1012.0" r="3.45" fill="#a919a8"/><circle cx="1462.0" cy="995.9" r="3.45" fill="#7251d3"/><circle cx="1460.9" cy="1009.7" r="3.45" fill="#fd005e"/><circle cx="1457.1" cy="1005.1" r="3.45" fill="#0088fa"/><circle cx="1441.8" cy="998.2" r="3.45" fill="#cb0096"/><circle cx="1469.5" cy="993.6" r="3.45" fill="#0073ef"/><circle cx="1459.7" cy="989.0" r="3.45" fill="#af12a6"/><circle cx="1447.5" cy="1005.1" r="3.45" fill="#c6009a"/><circle cx="1464.2" cy="993.6" r="3.45" fill="#7251d3"/></g>
<line x1="1102.7" y1="1055.6" x2="1763.5" y2="1055.6" stroke="#333333" stroke-width="2"/>
<line x1="1135.2" y1="1055.6" x2="1135.2" y2="1062" stroke="#333333" stroke-width="1.6"/>
<text x="1115.3" y="1080.4" font-family="Liberation Serif, serif" font-size="19.5" fill="#333333" textLength="41.2" lengthAdjust="spacingAndGlyphs">−2.0</text>
<line x1="1217.5" y1="1055.6" x2="1217.5" y2="1062" stroke="#333333" stroke-width="1.6"/>
<text x="1197.6" y="1080.4" font-family="Liberation Serif, serif" font-size="19.5" fill="#333333" textLength="41.2" lengthAdjust="spacingAndGlyphs">−1.5</text>
<line x1="1299.8" y1="1055.6" x2="1299.8" y2="1062" stroke="#333333" stroke-width="1.6"/>
<text x="1279.9" y="1080.4" font-family="Liberation Serif, serif" font-size="19.5" fill="#333333" textLength="41.2" lengthAdjust="spacingAndGlyphs">−1.0</text>
<line x1="1382.1" y1="1055.6" x2="1382.1" y2="1062" stroke="#333333" stroke-width="1.6"/>
<text x="1362.2" y="1080.4" font-family="Liberation Serif, serif" font-size="19.5" fill="#333333" textLength="41.2" lengthAdjust="spacingAndGlyphs">−0.5</text>
<line x1="1464.4" y1="1055.6" x2="1464.4" y2="1062" stroke="#333333" stroke-width="1.6"/>
<text x="1452.3" y="1082.6" font-family="Liberation Serif, serif" font-size="19.5" fill="#333333" textLength="25.7" lengthAdjust="spacingAndGlyphs">0.0</text>
<line x1="1546.7" y1="1055.6" x2="1546.7" y2="1062" stroke="#333333" stroke-width="1.6"/>
<text x="1534.6" y="1082.6" font-family="Liberation Serif, serif" font-size="19.5" fill="#333333" textLength="25.7" lengthAdjust="spacingAndGlyphs">0.5</text>
<line x1="1629" y1="1055.6" x2="1629" y2="1062" stroke="#333333" stroke-width="1.6"/>
<text x="1615.8" y="1082.6" font-family="Liberation Serif, serif" font-size="19.5" fill="#333333" textLength="26.9" lengthAdjust="spacingAndGlyphs">1.0</text>
<line x1="1711.3" y1="1055.6" x2="1711.3" y2="1062" stroke="#333333" stroke-width="1.6"/>
<text x="1698.1" y="1082.6" font-family="Liberation Serif, serif" font-size="19.5" fill="#333333" textLength="26.9" lengthAdjust="spacingAndGlyphs">1.5</text>
<text x="1246.5" y="1111.3" font-family="Liberation Sans, Arial, sans-serif" font-size="23" fill="#000" textLength="373.7" lengthAdjust="spacingAndGlyphs">SHAP value (impact on model output)</text>
<text x="1023.8" y="719.1" font-family="Liberation Sans, Arial, sans-serif" font-size="23" fill="#333333" textLength="36.3" lengthAdjust="spacingAndGlyphs">BW</text>
<text x="1015.5" y="776.5" font-family="Liberation Sans, Arial, sans-serif" font-size="23" fill="#333333" textLength="45.2" lengthAdjust="spacingAndGlyphs">CTR</text>
<text x="1030.7" y="833.9" font-family="Liberation Sans, Arial, sans-serif" font-size="23" fill="#333333" textLength="29.1" lengthAdjust="spacingAndGlyphs">GA</text>
<text x="922.2" y="891.3" font-family="Liberation Sans, Arial, sans-serif" font-size="23" fill="#333333" textLength="137.5" lengthAdjust="spacingAndGlyphs">UHW / MHW</text>
<text x="943.2" y="1006.1" font-family="Liberation Sans, Arial, sans-serif" font-size="23" fill="#333333" textLength="116.6" lengthAdjust="spacingAndGlyphs">UHW / TW</text>
<text x="919.6" y="948.7" font-family="Liberation Sans, Arial, sans-serif" font-size="23" fill="#333333" textLength="140.7" lengthAdjust="spacingAndGlyphs">Gender (<tspan fill="#ff0000" font-weight="bold">F</tspan>/<tspan fill="#0000ff" font-weight="bold">M</tspan>)</text>
<defs><linearGradient id="cb" x1="0" y1="1" x2="0" y2="0"><stop offset="0.00" stop-color="#008bfb"/><stop offset="0.05" stop-color="#0084f9"/><stop offset="0.10" stop-color="#007cf5"/><stop offset="0.15" stop-color="#0075f0"/><stop offset="0.20" stop-color="#246cea"/><stop offset="0.25" stop-color="#4b63e3"/><stop offset="0.30" stop-color="#635adb"/><stop offset="0.35" stop-color="#754fd1"/><stop offset="0.40" stop-color="#8443c6"/><stop offset="0.45" stop-color="#9135ba"/><stop offset="0.50" stop-color="#9b23ad"/><stop offset="0.55" stop-color="#ac16a7"/><stop offset="0.60" stop-color="#bb00a0"/><stop offset="0.65" stop-color="#c90098"/><stop offset="0.70" stop-color="#d5008f"/><stop offset="0.75" stop-color="#e00086"/><stop offset="0.80" stop-color="#e9007c"/><stop offset="0.85" stop-color="#f20072"/><stop offset="0.90" stop-color="#f90067"/><stop offset="0.95" stop-color="#fe005c"/><stop offset="1.00" stop-color="#ff0051"/></linearGradient></defs>
<rect x="1803.9" y="653.1" width="5.2" height="402.6" fill="url(#cb)"/>
<text x="1815.8" y="660.6" font-family="Liberation Sans, Arial, sans-serif" font-size="19.7" fill="#000" textLength="38.6" lengthAdjust="spacingAndGlyphs">High</text>
<text x="1815.9" y="1062.9" font-family="Liberation Sans, Arial, sans-serif" font-size="19.7" fill="#000" textLength="32.8" lengthAdjust="spacingAndGlyphs">Low</text>
<text transform="translate(1871.3,911.6) rotate(-90)" x="-1.5" y="0" font-family="Liberation Sans, Arial, sans-serif" font-size="22.6" fill="#000" textLength="118.0" lengthAdjust="spacingAndGlyphs">Feature value</text>
<rect x="185.0" y="31.6" width="586.2" height="33.8" fill="#1f77b4"/>
<line x1="178.5" y1="49.5" x2="185.0" y2="49.5" stroke="#000" stroke-width="1.4"/>
<text x="171.6" y="56.4" font-family="DejaVu Sans, sans-serif" stroke="#000" stroke-width="0.3" font-size="17" text-anchor="end">bw</text>
<rect x="185.0" y="74.3" width="450.6" height="33.8" fill="#1f77b4"/>
<line x1="178.5" y1="92.2" x2="185.0" y2="92.2" stroke="#000" stroke-width="1.4"/>
<text x="171.6" y="99.1" font-family="DejaVu Sans, sans-serif" stroke="#000" stroke-width="0.3" font-size="17" text-anchor="end">feature_173</text>
<rect x="185.0" y="116.9" width="343" height="33.8" fill="#1f77b4"/>
<line x1="178.5" y1="134.8" x2="185.0" y2="134.8" stroke="#000" stroke-width="1.4"/>
<text x="171.6" y="141.7" font-family="DejaVu Sans, sans-serif" stroke="#000" stroke-width="0.3" font-size="17" text-anchor="end">feature_347</text>
<rect x="185.0" y="159.6" width="339" height="33.8" fill="#1f77b4"/>
<line x1="178.5" y1="177.5" x2="185.0" y2="177.5" stroke="#000" stroke-width="1.4"/>
<text x="171.6" y="184.4" font-family="DejaVu Sans, sans-serif" stroke="#000" stroke-width="0.3" font-size="17" text-anchor="end">feature_1011</text>
<rect x="185.0" y="202.2" width="246.2" height="33.8" fill="#1f77b4"/>
<line x1="178.5" y1="220.1" x2="185.0" y2="220.1" stroke="#000" stroke-width="1.4"/>
<text x="171.6" y="227" font-family="DejaVu Sans, sans-serif" stroke="#000" stroke-width="0.3" font-size="17" text-anchor="end">ga</text>
<rect x="185.0" y="244.9" width="220.1" height="33.8" fill="#1f77b4"/>
<line x1="178.5" y1="262.8" x2="185.0" y2="262.8" stroke="#000" stroke-width="1.4"/>
<text x="171.6" y="269.7" font-family="DejaVu Sans, sans-serif" stroke="#000" stroke-width="0.3" font-size="17" text-anchor="end">feature_110</text>
<rect x="185.0" y="287.6" width="189" height="33.8" fill="#1f77b4"/>
<line x1="178.5" y1="305.5" x2="185.0" y2="305.5" stroke="#000" stroke-width="1.4"/>
<text x="171.6" y="312.4" font-family="DejaVu Sans, sans-serif" stroke="#000" stroke-width="0.3" font-size="17" text-anchor="end">feature_965</text>
<rect x="185.0" y="330.2" width="117.9" height="33.8" fill="#1f77b4"/>
<line x1="178.5" y1="348.1" x2="185.0" y2="348.1" stroke="#000" stroke-width="1.4"/>
<text x="171.6" y="355" font-family="DejaVu Sans, sans-serif" stroke="#000" stroke-width="0.3" font-size="17" text-anchor="end">feature_873</text>
<rect x="185.0" y="372.9" width="80.1" height="33.8" fill="#1f77b4"/>
<line x1="178.5" y1="390.8" x2="185.0" y2="390.8" stroke="#000" stroke-width="1.4"/>
<text x="171.6" y="397.7" font-family="DejaVu Sans, sans-serif" stroke="#000" stroke-width="0.3" font-size="17" text-anchor="end">feature_257</text>
<rect x="185.0" y="415.5" width="54.9" height="33.8" fill="#1f77b4"/>
<line x1="178.5" y1="433.4" x2="185.0" y2="433.4" stroke="#000" stroke-width="1.4"/>
<text x="171.6" y="440.3" font-family="DejaVu Sans, sans-serif" stroke="#000" stroke-width="0.3" font-size="17" text-anchor="end">feature_619</text>
<rect x="185.0" y="12.2" width="615.0" height="458" fill="none" stroke="#000" stroke-width="1.4"/>
<line x1="185" y1="470.2" x2="185" y2="476.7" stroke="#000" stroke-width="1.4"/>
<text x="185" y="495.6" font-family="DejaVu Sans, sans-serif" stroke="#000" stroke-width="0.3" font-size="17" text-anchor="middle">0.00</text>
<line x1="254.3" y1="470.2" x2="254.3" y2="476.7" stroke="#000" stroke-width="1.4"/>
<text x="254.3" y="495.6" font-family="DejaVu Sans, sans-serif" stroke="#000" stroke-width="0.3" font-size="17" text-anchor="middle">0.05</text>
<line x1="323.6" y1="470.2" x2="323.6" y2="476.7" stroke="#000" stroke-width="1.4"/>
<text x="323.6" y="495.6" font-family="DejaVu Sans, sans-serif" stroke="#000" stroke-width="0.3" font-size="17" text-anchor="middle">0.10</text>
<line x1="392.9" y1="470.2" x2="392.9" y2="476.7" stroke="#000" stroke-width="1.4"/>
<text x="392.9" y="495.6" font-family="DejaVu Sans, sans-serif" stroke="#000" stroke-width="0.3" font-size="17" text-anchor="middle">0.15</text>
<line x1="462.2" y1="470.2" x2="462.2" y2="476.7" stroke="#000" stroke-width="1.4"/>
<text x="462.2" y="495.6" font-family="DejaVu Sans, sans-serif" stroke="#000" stroke-width="0.3" font-size="17" text-anchor="middle">0.20</text>
<line x1="531.5" y1="470.2" x2="531.5" y2="476.7" stroke="#000" stroke-width="1.4"/>
<text x="531.5" y="495.6" font-family="DejaVu Sans, sans-serif" stroke="#000" stroke-width="0.3" font-size="17" text-anchor="middle">0.25</text>
<line x1="600.8" y1="470.2" x2="600.8" y2="476.7" stroke="#000" stroke-width="1.4"/>
<text x="600.8" y="495.6" font-family="DejaVu Sans, sans-serif" stroke="#000" stroke-width="0.3" font-size="17" text-anchor="middle">0.30</text>
<line x1="670.1" y1="470.2" x2="670.1" y2="476.7" stroke="#000" stroke-width="1.4"/>
<text x="670.1" y="495.6" font-family="DejaVu Sans, sans-serif" stroke="#000" stroke-width="0.3" font-size="17" text-anchor="middle">0.35</text>
<line x1="739.4" y1="470.2" x2="739.4" y2="476.7" stroke="#000" stroke-width="1.4"/>
<text x="739.4" y="495.6" font-family="DejaVu Sans, sans-serif" stroke="#000" stroke-width="0.3" font-size="17" text-anchor="middle">0.40</text>
<text x="492.3" y="520.3" font-family="DejaVu Sans, sans-serif" stroke="#000" stroke-width="0.3" font-size="17" text-anchor="middle">mean(|SHAP value|)</text>
<rect x="181.6" y="621.2" width="589.3" height="58.2" fill="#1f77b4"/>
<line x1="175.1" y1="651.7" x2="181.6" y2="651.7" stroke="#000" stroke-width="1.4"/>
<text x="168.0" y="657.1" font-family="DejaVu Sans, sans-serif" stroke="#000" stroke-width="0.3" font-size="17" text-anchor="end">BW</text>
<rect x="181.6" y="693.7" width="476.9" height="58.2" fill="#1f77b4"/>
<line x1="175.1" y1="724.2" x2="181.6" y2="724.2" stroke="#000" stroke-width="1.4"/>
<text x="168.0" y="729.6" font-family="DejaVu Sans, sans-serif" stroke="#000" stroke-width="0.3" font-size="17" text-anchor="end">CTR</text>
<rect x="181.6" y="766.1" width="444.1" height="58.2" fill="#1f77b4"/>
<line x1="175.1" y1="796.6" x2="181.6" y2="796.6" stroke="#000" stroke-width="1.4"/>
<text x="168.0" y="802" font-family="DejaVu Sans, sans-serif" stroke="#000" stroke-width="0.3" font-size="17" text-anchor="end">GA</text>
<rect x="181.6" y="838.6" width="146.4" height="58.2" fill="#1f77b4"/>
<line x1="175.1" y1="869.1" x2="181.6" y2="869.1" stroke="#000" stroke-width="1.4"/>
<text x="168.0" y="874.5" font-family="DejaVu Sans, sans-serif" stroke="#000" stroke-width="0.3" font-size="17" text-anchor="end">UHW / MHW</text>
<rect x="181.6" y="911" width="62.7" height="58.2" fill="#1f77b4"/>
<line x1="175.1" y1="941.5" x2="181.6" y2="941.5" stroke="#000" stroke-width="1.4"/>
<text x="168.0" y="946.9" font-family="DejaVu Sans, sans-serif" stroke="#000" stroke-width="0.3" font-size="17" text-anchor="end">Gender</text>
<rect x="181.6" y="983.5" width="40.6" height="58.2" fill="#1f77b4"/>
<line x1="175.1" y1="1014" x2="181.6" y2="1014" stroke="#000" stroke-width="1.4"/>
<text x="168.0" y="1019.4" font-family="DejaVu Sans, sans-serif" stroke="#000" stroke-width="0.3" font-size="17" text-anchor="end">UHW / TW</text>
<rect x="181.6" y="602.0" width="618" height="460.3" fill="none" stroke="#000" stroke-width="1.4"/>
<line x1="181.6" y1="1062.3" x2="181.6" y2="1068.8" stroke="#000" stroke-width="1.4"/>
<text x="181.6" y="1088.3" font-family="DejaVu Sans, sans-serif" stroke="#000" stroke-width="0.3" font-size="17" text-anchor="middle">0.0</text>
<line x1="267.1" y1="1062.3" x2="267.1" y2="1068.8" stroke="#000" stroke-width="1.4"/>
<text x="267.1" y="1088.3" font-family="DejaVu Sans, sans-serif" stroke="#000" stroke-width="0.3" font-size="17" text-anchor="middle">0.1</text>
<line x1="352.7" y1="1062.3" x2="352.7" y2="1068.8" stroke="#000" stroke-width="1.4"/>
<text x="352.7" y="1088.3" font-family="DejaVu Sans, sans-serif" stroke="#000" stroke-width="0.3" font-size="17" text-anchor="middle">0.2</text>
<line x1="438.2" y1="1062.3" x2="438.2" y2="1068.8" stroke="#000" stroke-width="1.4"/>
<text x="438.2" y="1088.3" font-family="DejaVu Sans, sans-serif" stroke="#000" stroke-width="0.3" font-size="17" text-anchor="middle">0.3</text>
<line x1="523.7" y1="1062.3" x2="523.7" y2="1068.8" stroke="#000" stroke-width="1.4"/>
<text x="523.7" y="1088.3" font-family="DejaVu Sans, sans-serif" stroke="#000" stroke-width="0.3" font-size="17" text-anchor="middle">0.4</text>
<line x1="609.2" y1="1062.3" x2="609.2" y2="1068.8" stroke="#000" stroke-width="1.4"/>
<text x="609.2" y="1088.3" font-family="DejaVu Sans, sans-serif" stroke="#000" stroke-width="0.3" font-size="17" text-anchor="middle">0.5</text>
<line x1="694.8" y1="1062.3" x2="694.8" y2="1068.8" stroke="#000" stroke-width="1.4"/>
<text x="694.8" y="1088.3" font-family="DejaVu Sans, sans-serif" stroke="#000" stroke-width="0.3" font-size="17" text-anchor="middle">0.6</text>
<line x1="780.3" y1="1062.3" x2="780.3" y2="1068.8" stroke="#000" stroke-width="1.4"/>
<text x="780.3" y="1088.3" font-family="DejaVu Sans, sans-serif" stroke="#000" stroke-width="0.3" font-size="17" text-anchor="middle">0.7</text>
<text x="490.6" y="1112.6" font-family="DejaVu Sans, sans-serif" stroke="#000" stroke-width="0.3" font-size="17" text-anchor="middle">mean(|SHAP value|)</text>
<text x="1449" y="80.6" font-family="Liberation Sans, Arial, sans-serif" font-size="40" text-anchor="middle">feature_173</text>
<svg x="1024.2" y="126.1" width="160.8" height="146.5" viewBox="0 0 100 100" preserveAspectRatio="none"><defs><filter id="xb0" x="-10%" y="-10%" width="120%" height="120%"><feGaussianBlur stdDeviation="1.5"/></filter><filter id="xb0s" x="-10%" y="-10%" width="120%" height="120%"><feGaussianBlur stdDeviation="0.5"/></filter><clipPath id="xb0c"><rect width="100" height="100"/></clipPath><clipPath id="xb0t"><path d="M10,100 C9,60 15,30 30,17 C40,13 60,13 70,17 C85,30 91,60 90,100 Z"/></clipPath><linearGradient id="xb0g" x1="0" y1="0" x2="0" y2="1"><stop offset="0" stop-color="#afafaf"/><stop offset="1" stop-color="#c6c6c6"/></linearGradient><filter id="xb0n" x="0" y="0" width="100%" height="100%"><feTurbulence type="fractalNoise" baseFrequency="0.6" numOctaves="2" seed="3"/><feColorMatrix type="matrix" values="0 0 0 0 0  0 0 0 0 0  0 0 0 0 0  1.5 0 0 0 -0.6"/></filter><clipPath id="xb0l"><path d="M35.0,21.0 C32.7,21.2 29.8,22.2 27.0,26.0 C24.2,29.8 20.3,33.8 18.0,43.8 C15.7,53.8 12.2,79.5 13.0,86.0 C13.8,92.5 19.3,84.5 23.0,83.0 C26.7,81.5 31.7,78.5 35.0,77.0 C38.3,75.5 41.7,80.1 43.0,74.0 C44.3,67.9 43.3,48.7 43.0,40.5 C42.7,32.3 42.3,28.2 41.0,25.0 C39.7,21.8 37.3,20.8 35.0,21.0 Z"/><path d="M66.0,21.0 C68.3,21.2 71.3,22.6 74.0,26.0 C76.7,29.4 79.8,32.6 82.0,41.6 C84.2,50.6 87.8,74.1 87.0,80.0 C86.2,85.9 80.5,78.5 77.0,77.0 C73.5,75.5 69.2,72.5 66.0,71.0 C62.8,69.5 59.3,73.4 58.0,68.0 C56.7,62.6 57.7,45.9 58.0,38.7 C58.3,31.5 58.7,27.9 60.0,25.0 C61.3,22.1 63.7,20.8 66.0,21.0 Z"/></clipPath></defs><g clip-path="url(#xb0c)"><rect width="100" height="100" fill="#a5a5a5"/><g filter="url(#xb0)"><path d="M5,100 C4,70 5,40 10,26 C16,16 30,10 50,10 C70,10 84,16 90,26 C95,40 96,70 95,100 Z" fill="url(#xb0g)"/><path d="M0,0 L100,0 L100,20 C85,14 70,8 50,8 C30,8 15,14 0,20 Z" fill="#afafaf"/><rect x="0" y="35" width="3" height="65" fill="#323232"/><rect x="97" y="30" width="3" height="70" fill="#323232"/><path d="M9,100 C8,60 14,30 30,16 C40,12 60,12 70,16 C86,30 92,60 91,100 Z" fill="#b8b8b8"/><path d="M8,100 L8,86 C30,74 70,68 92,80 L92,100 Z" fill="#c6c6c6"/></g><g filter="url(#xb0s)"><path d="M35.0,21.0 C32.7,21.2 29.8,22.2 27.0,26.0 C24.2,29.8 20.3,33.8 18.0,43.8 C15.7,53.8 12.2,79.5 13.0,86.0 C13.8,92.5 19.3,84.5 23.0,83.0 C26.7,81.5 31.7,78.5 35.0,77.0 C38.3,75.5 41.7,80.1 43.0,74.0 C44.3,67.9 43.3,48.7 43.0,40.5 C42.7,32.3 42.3,28.2 41.0,25.0 C39.7,21.8 37.3,20.8 35.0,21.0 Z" fill="#6c6c6c"/><path d="M66.0,21.0 C68.3,21.2 71.3,22.6 74.0,26.0 C76.7,29.4 79.8,32.6 82.0,41.6 C84.2,50.6 87.8,74.1 87.0,80.0 C86.2,85.9 80.5,78.5 77.0,77.0 C73.5,75.5 69.2,72.5 66.0,71.0 C62.8,69.5 59.3,73.4 58.0,68.0 C56.7,62.6 57.7,45.9 58.0,38.7 C58.3,31.5 58.7,27.9 60.0,25.0 C61.3,22.1 63.7,20.8 66.0,21.0 Z" fill="#6c6c6c"/></g><rect width="100" height="100" filter="url(#xb0n)" clip-path="url(#xb0l)" opacity="0.25"/><g filter="url(#xb0)"><ellipse cx="56.0" cy="67" rx="10.0" ry="14" fill="#c6c6c6" opacity="0.9"/><rect x="41" y="0" width="18" height="100" fill="#dadada" opacity="0.85"/><rect x="44.5" y="0" width="11" height="100" fill="#e4e4e4" opacity="0.8"/><ellipse cx="72" cy="92" rx="11" ry="6" fill="#8c8c8c"/></g><g clip-path="url(#xb0t)"><g filter="url(#xb0s)" fill="none" stroke="#dcdcdc" stroke-width="2.4" opacity="0.7" stroke-linecap="round"><path d="M44,23.0 C31,19.0 15,20.0 9.0,28.0"/><path d="M57,23.0 C70,19.0 85,20.0 91.0,28.0"/><path d="M44,31.2 C31,27.2 15,28.2 9.0,37.1"/><path d="M57,30.4 C70,26.4 85,27.4 91.0,36.3"/><path d="M44,39.4 C31,35.4 15,36.4 9.0,46.2"/><path d="M57,37.8 C70,33.8 85,34.8 91.0,44.6"/><path d="M44,47.5 C31,43.5 15,44.5 9.0,55.2"/><path d="M57,45.2 C70,41.2 85,42.2 91.0,52.9"/><path d="M44,55.7 C31,51.7 15,52.7 9.0,64.3"/><path d="M57,52.6 C70,48.6 85,49.6 91.0,61.2"/><path d="M44,63.9 C31,59.9 15,60.9 9.0,73.4"/><path d="M57,60.0 C70,56.0 85,57.0 91.0,69.5"/><path d="M44,72.1 C31,68.1 15,69.1 9.0,82.5"/><path d="M57,67.4 C70,63.4 85,64.4 91.0,77.8"/><path d="M44,80.3 C31,76.3 15,77.3 9.0,91.6"/><path d="M57,74.8 C70,70.8 85,71.8 91.0,86.1"/></g></g><g filter="url(#xb0s)" fill="none" stroke="#d7d7d7" stroke-width="2.2" opacity="0.8"><path d="M14,14 C26,12 38,12 46,9"/><path d="M86,14 C74,12 62,12 54,9"/></g><g fill="#f3f3f3" opacity="0.35"><rect x="44.5" y="6" width="11" height="2.2"/><rect x="44.5" y="11" width="11" height="2.2"/><rect x="44.5" y="16" width="11" height="2.2"/><rect x="44.5" y="21" width="11" height="2.2"/><rect x="44.5" y="26" width="11" height="2.2"/><rect x="44.5" y="31" width="11" height="2.2"/><rect x="44.5" y="36" width="11" height="2.2"/><rect x="44.5" y="41" width="11" height="2.2"/><rect x="44.5" y="46" width="11" height="2.2"/><rect x="44.5" y="51" width="11" height="2.2"/><rect x="44.5" y="56" width="11" height="2.2"/><rect x="44.5" y="61" width="11" height="2.2"/><rect x="44.5" y="66" width="11" height="2.2"/><rect x="44.5" y="71" width="11" height="2.2"/><rect x="44.5" y="76" width="11" height="2.2"/><rect x="44.5" y="81" width="11" height="2.2"/><rect x="44.5" y="86" width="11" height="2.2"/><rect x="44.5" y="91" width="11" height="2.2"/><rect x="44.5" y="96" width="11" height="2.2"/></g></g></svg>
<svg x="1217.3" y="127.1" width="161.2" height="144.1" viewBox="0 0 100 100" preserveAspectRatio="none"><defs><filter id="xb1" x="-10%" y="-10%" width="120%" height="120%"><feGaussianBlur stdDeviation="1.5"/></filter><filter id="xb1s" x="-10%" y="-10%" width="120%" height="120%"><feGaussianBlur stdDeviation="0.5"/></filter><clipPath id="xb1c"><rect width="100" height="100"/></clipPath><clipPath id="xb1t"><path d="M10,100 C9,60 15,30 30,19 C40,15 60,15 70,19 C85,30 91,60 90,100 Z"/></clipPath><linearGradient id="xb1g" x1="0" y1="0" x2="0" y2="1"><stop offset="0" stop-color="#9b9b9b"/><stop offset="1" stop-color="#c3c3c3"/></linearGradient><filter id="xb1n" x="0" y="0" width="100%" height="100%"><feTurbulence type="fractalNoise" baseFrequency="0.6" numOctaves="2" seed="4"/><feColorMatrix type="matrix" values="0 0 0 0 0  0 0 0 0 0  0 0 0 0 0  1.5 0 0 0 -0.6"/></filter><clipPath id="xb1l"><path d="M36.0,23.0 C33.7,23.2 31.0,24.4 28.0,28.0 C25.0,31.6 20.5,35.0 18.0,44.3 C15.5,53.7 12.2,77.9 13.0,84.0 C13.8,90.1 19.2,82.5 23.0,81.0 C26.8,79.5 32.5,76.5 36.0,75.0 C39.5,73.5 42.7,77.6 44.0,72.0 C45.3,66.4 44.3,48.8 44.0,41.3 C43.7,33.8 43.3,30.1 42.0,27.0 C40.7,23.9 38.3,22.8 36.0,23.0 Z"/><path d="M65.0,23.0 C67.3,23.2 70.2,24.6 73.0,28.0 C75.8,31.4 79.7,34.6 82.0,43.6 C84.3,52.6 87.8,76.1 87.0,82.0 C86.2,87.9 80.7,80.5 77.0,79.0 C73.3,77.5 68.3,74.5 65.0,73.0 C61.7,71.5 58.3,75.4 57.0,70.0 C55.7,64.6 56.7,47.9 57.0,40.7 C57.3,33.5 57.7,29.9 59.0,27.0 C60.3,24.1 62.7,22.8 65.0,23.0 Z"/></clipPath></defs><g clip-path="url(#xb1c)"><rect width="100" height="100" fill="#878787"/><g filter="url(#xb1)"><path d="M5,100 C4,70 5,40 10,26 C16,16 30,10 50,10 C70,10 84,16 90,26 C95,40 96,70 95,100 Z" fill="url(#xb1g)"/><path d="M0,0 L100,0 L100,20 C85,14 70,8 50,8 C30,8 15,14 0,20 Z" fill="#9b9b9b"/><rect x="0" y="40" width="5" height="60" fill="#0f0f0f"/><rect x="94" y="30" width="6" height="45" fill="#0f0f0f"/><path d="M9,100 C8,60 14,30 30,18 C40,14 60,14 70,18 C86,30 92,60 91,100 Z" fill="#b1b1b1"/><path d="M8,100 L8,84 C30,72 70,70 92,82 L92,100 Z" fill="#c3c3c3"/></g><g filter="url(#xb1s)"><path d="M36.0,23.0 C33.7,23.2 31.0,24.4 28.0,28.0 C25.0,31.6 20.5,35.0 18.0,44.3 C15.5,53.7 12.2,77.9 13.0,84.0 C13.8,90.1 19.2,82.5 23.0,81.0 C26.8,79.5 32.5,76.5 36.0,75.0 C39.5,73.5 42.7,77.6 44.0,72.0 C45.3,66.4 44.3,48.8 44.0,41.3 C43.7,33.8 43.3,30.1 42.0,27.0 C40.7,23.9 38.3,22.8 36.0,23.0 Z" fill="#464646"/><path d="M65.0,23.0 C67.3,23.2 70.2,24.6 73.0,28.0 C75.8,31.4 79.7,34.6 82.0,43.6 C84.3,52.6 87.8,76.1 87.0,82.0 C86.2,87.9 80.7,80.5 77.0,79.0 C73.3,77.5 68.3,74.5 65.0,73.0 C61.7,71.5 58.3,75.4 57.0,70.0 C55.7,64.6 56.7,47.9 57.0,40.7 C57.3,33.5 57.7,29.9 59.0,27.0 C60.3,24.1 62.7,22.8 65.0,23.0 Z" fill="#464646"/></g><rect width="100" height="100" filter="url(#xb1n)" clip-path="url(#xb1l)" opacity="0.25"/><g filter="url(#xb1)"><ellipse cx="56.0" cy="69" rx="10.0" ry="14" fill="#b7b7b7" opacity="0.9"/><rect x="41" y="0" width="18" height="100" fill="#dfdfdf" opacity="0.85"/><rect x="44.5" y="0" width="11" height="100" fill="#e9e9e9" opacity="0.8"/></g><g clip-path="url(#xb1t)"><g filter="url(#xb1s)" fill="none" stroke="#e1e1e1" stroke-width="2.4" opacity="0.7" stroke-linecap="round"><path d="M45,25.0 C32,21.0 15,22.0 9.0,30.0"/><path d="M56,25.0 C69,21.0 85,22.0 91.0,30.0"/><path d="M45,32.7 C32,28.7 15,29.7 9.0,38.6"/><path d="M56,32.4 C69,28.4 85,29.4 91.0,38.3"/><path d="M45,40.3 C32,36.3 15,37.3 9.0,47.1"/><path d="M56,39.8 C69,35.8 85,36.8 91.0,46.6"/><path d="M45,48.0 C32,44.0 15,45.0 9.0,55.7"/><path d="M56,47.2 C69,43.2 85,44.2 91.0,54.9"/><path d="M45,55.6 C32,51.6 15,52.6 9.0,64.2"/><path d="M56,54.6 C69,50.6 85,51.6 91.0,63.2"/><path d="M45,63.3 C32,59.3 15,60.3 9.0,72.8"/><path d="M56,62.0 C69,58.0 85,59.0 91.0,71.5"/><path d="M45,71.0 C32,67.0 15,68.0 9.0,81.4"/><path d="M56,69.4 C69,65.4 85,66.4 91.0,79.8"/><path d="M45,78.6 C32,74.6 15,75.6 9.0,89.9"/><path d="M56,76.8 C69,72.8 85,73.8 91.0,88.1"/></g></g><g filter="url(#xb1s)" fill="none" stroke="#d7d7d7" stroke-width="2.2" opacity="0.8"><path d="M14,16 C26,14 38,14 46,11"/><path d="M86,16 C74,14 62,14 54,11"/></g><g fill="#f8f8f8" opacity="0.35"><rect x="44.5" y="6" width="11" height="2.2"/><rect x="44.5" y="11" width="11" height="2.2"/><rect x="44.5" y="16" width="11" height="2.2"/><rect x="44.5" y="21" width="11" height="2.2"/><rect x="44.5" y="26" width="11" height="2.2"/><rect x="44.5" y="31" width="11" height="2.2"/><rect x="44.5" y="36" width="11" height="2.2"/><rect x="44.5" y="41" width="11" height="2.2"/><rect x="44.5" y="46" width="11" height="2.2"/><rect x="44.5" y="51" width="11" height="2.2"/><rect x="44.5" y="56" width="11" height="2.2"/><rect x="44.5" y="61" width="11" height="2.2"/><rect x="44.5" y="66" width="11" height="2.2"/><rect x="44.5" y="71" width="11" height="2.2"/><rect x="44.5" y="76" width="11" height="2.2"/><rect x="44.5" y="81" width="11" height="2.2"/><rect x="44.5" y="86" width="11" height="2.2"/><rect x="44.5" y="91" width="11" height="2.2"/><rect x="44.5" y="96" width="11" height="2.2"/></g><ellipse cx="0" cy="0" rx="29.4" ry="6.8" fill="#464646" filter="url(#xb1)"/><ellipse cx="100" cy="0" rx="29.4" ry="6.8" fill="#464646" filter="url(#xb1)"/></g></svg>
<svg x="1410.5" y="121.8" width="160.9" height="154.4" viewBox="0 0 100 100" preserveAspectRatio="none"><defs><filter id="xb2" x="-10%" y="-10%" width="120%" height="120%"><feGaussianBlur stdDeviation="1.5"/></filter><filter id="xb2s" x="-10%" y="-10%" width="120%" height="120%"><feGaussianBlur stdDeviation="0.5"/></filter><clipPath id="xb2c"><rect width="100" height="100"/></clipPath><clipPath id="xb2t"><path d="M10,100 C9,60 15,30 30,13 C40,9 60,9 70,13 C85,30 91,60 90,100 Z"/></clipPath><linearGradient id="xb2g" x1="0" y1="0" x2="0" y2="1"><stop offset="0" stop-color="#a5a5a5"/><stop offset="1" stop-color="#cdcdcd"/></linearGradient><filter id="xb2n" x="0" y="0" width="100%" height="100%"><feTurbulence type="fractalNoise" baseFrequency="0.6" numOctaves="2" seed="5"/><feColorMatrix type="matrix" values="0 0 0 0 0  0 0 0 0 0  0 0 0 0 0  1.5 0 0 0 -0.6"/></filter><clipPath id="xb2l"><path d="M32.0,17.0 C29.7,17.2 26.3,18.3 24.0,22.0 C21.7,25.7 19.8,29.4 18.0,39.0 C16.2,48.7 12.2,73.7 13.0,80.0 C13.8,86.3 19.8,78.5 23.0,77.0 C26.2,75.5 29.2,72.5 32.0,71.0 C34.8,69.5 38.7,73.8 40.0,68.0 C41.3,62.1 40.3,43.7 40.0,35.9 C39.7,28.1 39.3,24.1 38.0,21.0 C36.7,17.9 34.3,16.8 32.0,17.0 Z"/><path d="M67.0,17.0 C69.3,17.2 72.5,18.9 75.0,22.0 C77.5,25.1 80.0,27.5 82.0,35.5 C84.0,43.5 87.8,64.8 87.0,70.0 C86.2,75.2 80.3,68.5 77.0,67.0 C73.7,65.5 70.0,62.5 67.0,61.0 C64.0,59.5 60.3,62.7 59.0,58.0 C57.7,53.3 58.7,39.1 59.0,32.9 C59.3,26.7 59.7,23.6 61.0,21.0 C62.3,18.4 64.7,16.8 67.0,17.0 Z"/></clipPath></defs><g clip-path="url(#xb2c)"><rect width="100" height="100" fill="#8c8c8c"/><g filter="url(#xb2)"><path d="M5,100 C4,70 5,40 10,26 C16,16 30,10 50,10 C70,10 84,16 90,26 C95,40 96,70 95,100 Z" fill="url(#xb2g)"/><path d="M0,0 L100,0 L100,20 C85,14 70,8 50,8 C30,8 15,14 0,20 Z" fill="#a5a5a5"/><rect x="0" y="40" width="5" height="60" fill="#141414"/><rect x="96" y="35" width="4" height="65" fill="#141414"/><path d="M9,100 C8,60 14,30 30,12 C40,8 60,8 70,12 C86,30 92,60 91,100 Z" fill="#b4b4b4"/><path d="M8,100 L8,80 C30,68 70,58 92,70 L92,100 Z" fill="#cdcdcd"/></g><g filter="url(#xb2s)"><path d="M32.0,17.0 C29.7,17.2 26.3,18.3 24.0,22.0 C21.7,25.7 19.8,29.4 18.0,39.0 C16.2,48.7 12.2,73.7 13.0,80.0 C13.8,86.3 19.8,78.5 23.0,77.0 C26.2,75.5 29.2,72.5 32.0,71.0 C34.8,69.5 38.7,73.8 40.0,68.0 C41.3,62.1 40.3,43.7 40.0,35.9 C39.7,28.1 39.3,24.1 38.0,21.0 C36.7,17.9 34.3,16.8 32.0,17.0 Z" fill="#484848"/><path d="M67.0,17.0 C69.3,17.2 72.5,18.9 75.0,22.0 C77.5,25.1 80.0,27.5 82.0,35.5 C84.0,43.5 87.8,64.8 87.0,70.0 C86.2,75.2 80.3,68.5 77.0,67.0 C73.7,65.5 70.0,62.5 67.0,61.0 C64.0,59.5 60.3,62.7 59.0,58.0 C57.7,53.3 58.7,39.1 59.0,32.9 C59.3,26.7 59.7,23.6 61.0,21.0 C62.3,18.4 64.7,16.8 67.0,17.0 Z" fill="#484848"/></g><rect width="100" height="100" filter="url(#xb2n)" clip-path="url(#xb2l)" opacity="0.25"/><g filter="url(#xb2)"><ellipse cx="56.6" cy="57" rx="12.0" ry="14" fill="#d0d0d0" opacity="0.9"/><rect x="41" y="0" width="18" height="100" fill="#dfdfdf" opacity="0.85"/><rect x="44.5" y="0" width="11" height="100" fill="#e9e9e9" opacity="0.8"/><ellipse cx="74" cy="92" rx="9" ry="6" fill="#787878"/><ellipse cx="86" cy="88" rx="6" ry="5" fill="#6e6e6e"/><ellipse cx="92" cy="96" rx="5" ry="4" fill="#464646"/></g><g clip-path="url(#xb2t)"><g filter="url(#xb2s)" fill="none" stroke="#e1e1e1" stroke-width="2.4" opacity="0.7" stroke-linecap="round"><path d="M41,19.0 C28,15.0 15,16.0 9.0,24.0"/><path d="M58,19.0 C71,15.0 85,16.0 91.0,24.0"/><path d="M41,26.9 C28,22.9 15,23.9 9.0,32.8"/><path d="M58,25.6 C71,21.6 85,22.6 91.0,31.5"/><path d="M41,34.8 C28,30.8 15,31.8 9.0,41.6"/><path d="M58,32.2 C71,28.2 85,29.2 91.0,39.0"/><path d="M41,42.8 C28,38.8 15,39.8 9.0,50.5"/><path d="M58,38.9 C71,34.9 85,35.9 91.0,46.6"/><path d="M41,50.7 C28,46.7 15,47.7 9.0,59.3"/><path d="M58,45.5 C71,41.5 85,42.5 91.0,54.1"/><path d="M41,58.6 C28,54.6 15,55.6 9.0,68.1"/><path d="M58,52.1 C71,48.1 85,49.1 91.0,61.6"/><path d="M41,66.5 C28,62.5 15,63.5 9.0,76.9"/><path d="M58,58.7 C71,54.7 85,55.7 91.0,69.1"/><path d="M41,74.5 C28,70.5 15,71.5 9.0,85.8"/><path d="M58,65.4 C71,61.4 85,62.4 91.0,76.7"/></g></g><g filter="url(#xb2s)" fill="none" stroke="#d7d7d7" stroke-width="2.2" opacity="0.8"><path d="M14,10 C26,8 38,8 46,5"/><path d="M86,10 C74,8 62,8 54,5"/></g><g fill="#f8f8f8" opacity="0.35"><rect x="44.5" y="6" width="11" height="2.2"/><rect x="44.5" y="11" width="11" height="2.2"/><rect x="44.5" y="16" width="11" height="2.2"/><rect x="44.5" y="21" width="11" height="2.2"/><rect x="44.5" y="26" width="11" height="2.2"/><rect x="44.5" y="31" width="11" height="2.2"/><rect x="44.5" y="36" width="11" height="2.2"/><rect x="44.5" y="41" width="11" height="2.2"/><rect x="44.5" y="46" width="11" height="2.2"/><rect x="44.5" y="51" width="11" height="2.2"/><rect x="44.5" y="56" width="11" height="2.2"/><rect x="44.5" y="61" width="11" height="2.2"/><rect x="44.5" y="66" width="11" height="2.2"/><rect x="44.5" y="71" width="11" height="2.2"/><rect x="44.5" y="76" width="11" height="2.2"/><rect x="44.5" y="81" width="11" height="2.2"/><rect x="44.5" y="86" width="11" height="2.2"/><rect x="44.5" y="91" width="11" height="2.2"/><rect x="44.5" y="96" width="11" height="2.2"/></g><ellipse cx="0" cy="0" rx="28.4" ry="13.5" fill="#0a0a0a" filter="url(#xb2)"/><ellipse cx="100" cy="0" rx="29.4" ry="10.8" fill="#0a0a0a" filter="url(#xb2)"/></g></svg>
<svg x="1603.3" y="121.9" width="161.5" height="154.5" viewBox="0 0 100 100" preserveAspectRatio="none"><defs><filter id="xb3" x="-10%" y="-10%" width="120%" height="120%"><feGaussianBlur stdDeviation="1.5"/></filter><filter id="xb3s" x="-10%" y="-10%" width="120%" height="120%"><feGaussianBlur stdDeviation="0.5"/></filter><clipPath id="xb3c"><rect width="100" height="100"/></clipPath><clipPath id="xb3t"><path d="M10,100 C9,60 15,30 30,14 C40,10 60,10 70,14 C85,30 91,60 90,100 Z"/></clipPath><linearGradient id="xb3g" x1="0" y1="0" x2="0" y2="1"><stop offset="0" stop-color="#a5a5a5"/><stop offset="1" stop-color="#c3c3c3"/></linearGradient><filter id="xb3n" x="0" y="0" width="100%" height="100%"><feTurbulence type="fractalNoise" baseFrequency="0.6" numOctaves="2" seed="6"/><feColorMatrix type="matrix" values="0 0 0 0 0  0 0 0 0 0  0 0 0 0 0  1.5 0 0 0 -0.6"/></filter><clipPath id="xb3l"><path d="M34.0,18.0 C31.7,18.2 28.7,19.5 26.0,23.0 C23.3,26.5 20.2,29.8 18.0,39.0 C15.8,48.2 12.2,72.0 13.0,78.0 C13.8,84.0 19.5,76.5 23.0,75.0 C26.5,73.5 30.8,70.5 34.0,69.0 C37.2,67.5 40.7,71.5 42.0,66.0 C43.3,60.5 42.3,43.3 42.0,36.0 C41.7,28.7 41.3,25.0 40.0,22.0 C38.7,19.0 36.3,17.8 34.0,18.0 Z"/><path d="M66.0,18.0 C68.3,18.2 71.3,19.6 74.0,23.0 C76.7,26.4 79.8,29.5 82.0,38.3 C84.2,47.1 87.8,70.2 87.0,76.0 C86.2,81.8 80.5,74.5 77.0,73.0 C73.5,71.5 69.2,68.5 66.0,67.0 C62.8,65.5 59.3,69.3 58.0,64.0 C56.7,58.7 57.7,42.4 58.0,35.4 C58.3,28.4 58.7,24.9 60.0,22.0 C61.3,19.1 63.7,17.8 66.0,18.0 Z"/></clipPath></defs><g clip-path="url(#xb3c)"><rect width="100" height="100" fill="#9b9b9b"/><g filter="url(#xb3)"><path d="M5,100 C4,70 5,40 10,26 C16,16 30,10 50,10 C70,10 84,16 90,26 C95,40 96,70 95,100 Z" fill="url(#xb3g)"/><path d="M0,0 L100,0 L100,20 C85,14 70,8 50,8 C30,8 15,14 0,20 Z" fill="#a5a5a5"/><rect x="0" y="40" width="3" height="60" fill="#141414"/><rect x="95" y="40" width="5" height="40" fill="#141414"/><path d="M9,100 C8,60 14,30 30,13 C40,9 60,9 70,13 C86,30 92,60 91,100 Z" fill="#b1b1b1"/><path d="M8,100 L8,78 C30,66 70,64 92,76 L92,100 Z" fill="#c3c3c3"/></g><g filter="url(#xb3s)"><path d="M34.0,18.0 C31.7,18.2 28.7,19.5 26.0,23.0 C23.3,26.5 20.2,29.8 18.0,39.0 C15.8,48.2 12.2,72.0 13.0,78.0 C13.8,84.0 19.5,76.5 23.0,75.0 C26.5,73.5 30.8,70.5 34.0,69.0 C37.2,67.5 40.7,71.5 42.0,66.0 C43.3,60.5 42.3,43.3 42.0,36.0 C41.7,28.7 41.3,25.0 40.0,22.0 C38.7,19.0 36.3,17.8 34.0,18.0 Z" fill="#4b4b4b"/><path d="M66.0,18.0 C68.3,18.2 71.3,19.6 74.0,23.0 C76.7,26.4 79.8,29.5 82.0,38.3 C84.2,47.1 87.8,70.2 87.0,76.0 C86.2,81.8 80.5,74.5 77.0,73.0 C73.5,71.5 69.2,68.5 66.0,67.0 C62.8,65.5 59.3,69.3 58.0,64.0 C56.7,58.7 57.7,42.4 58.0,35.4 C58.3,28.4 58.7,24.9 60.0,22.0 C61.3,19.1 63.7,17.8 66.0,18.0 Z" fill="#4b4b4b"/></g><rect width="100" height="100" filter="url(#xb3n)" clip-path="url(#xb3l)" opacity="0.25"/><g filter="url(#xb3)"><ellipse cx="56.0" cy="63" rx="10.0" ry="14" fill="#bcbcbc" opacity="0.9"/><rect x="41" y="0" width="18" height="100" fill="#dcdcdc" opacity="0.85"/><rect x="44.5" y="0" width="11" height="100" fill="#e6e6e6" opacity="0.8"/></g><g clip-path="url(#xb3t)"><g filter="url(#xb3s)" fill="none" stroke="#e1e1e1" stroke-width="2.4" opacity="0.7" stroke-linecap="round"><path d="M43,20.0 C30,16.0 15,17.0 9.0,25.0"/><path d="M57,20.0 C70,16.0 85,17.0 91.0,25.0"/><path d="M43,27.5 C30,23.5 15,24.5 9.0,33.4"/><path d="M57,27.3 C70,23.3 85,24.3 91.0,33.2"/><path d="M43,35.1 C30,31.1 15,32.1 9.0,41.9"/><path d="M57,34.5 C70,30.5 85,31.5 91.0,41.3"/><path d="M43,42.6 C30,38.6 15,39.6 9.0,50.3"/><path d="M57,41.8 C70,37.8 85,38.8 91.0,49.5"/><path d="M43,50.1 C30,46.1 15,47.1 9.0,58.7"/><path d="M57,49.1 C70,45.1 85,46.1 91.0,57.7"/><path d="M43,57.7 C30,53.7 15,54.7 9.0,67.2"/><path d="M57,56.4 C70,52.4 85,53.4 91.0,65.9"/><path d="M43,65.2 C30,61.2 15,62.2 9.0,75.6"/><path d="M57,63.6 C70,59.6 85,60.6 91.0,74.0"/><path d="M43,72.7 C30,68.7 15,69.7 9.0,84.0"/><path d="M57,70.9 C70,66.9 85,67.9 91.0,82.2"/></g></g><g filter="url(#xb3s)" fill="none" stroke="#d7d7d7" stroke-width="2.2" opacity="0.8"><path d="M14,11 C26,9 38,9 46,6"/><path d="M86,11 C74,9 62,9 54,6"/></g><g fill="#f5f5f5" opacity="0.35"><rect x="44.5" y="6" width="11" height="2.2"/><rect x="44.5" y="11" width="11" height="2.2"/><rect x="44.5" y="16" width="11" height="2.2"/><rect x="44.5" y="21" width="11" height="2.2"/><rect x="44.5" y="26" width="11" height="2.2"/><rect x="44.5" y="31" width="11" height="2.2"/><rect x="44.5" y="36" width="11" height="2.2"/><rect x="44.5" y="41" width="11" height="2.2"/><rect x="44.5" y="46" width="11" height="2.2"/><rect x="44.5" y="51" width="11" height="2.2"/><rect x="44.5" y="56" width="11" height="2.2"/><rect x="44.5" y="61" width="11" height="2.2"/><rect x="44.5" y="66" width="11" height="2.2"/><rect x="44.5" y="71" width="11" height="2.2"/><rect x="44.5" y="76" width="11" height="2.2"/><rect x="44.5" y="81" width="11" height="2.2"/><rect x="44.5" y="86" width="11" height="2.2"/><rect x="44.5" y="91" width="11" height="2.2"/><rect x="44.5" y="96" width="11" height="2.2"/></g><ellipse cx="100" cy="0" rx="23.1" ry="6.8" fill="#141414" filter="url(#xb3)"/><path d="M95.5,0 V6 H98.5" fill="none" stroke="#f4f4f4" stroke-width="1"/></g></svg>
<svg x="1797.0" y="121.9" width="161.0" height="154.5" viewBox="0 0 100 100" preserveAspectRatio="none"><defs><filter id="xb4" x="-10%" y="-10%" width="120%" height="120%"><feGaussianBlur stdDeviation="1.5"/></filter><filter id="xb4s" x="-10%" y="-10%" width="120%" height="120%"><feGaussianBlur stdDeviation="0.5"/></filter><clipPath id="xb4c"><rect width="100" height="100"/></clipPath><clipPath id="xb4t"><path d="M10,100 C9,60 15,30 30,11 C40,7 60,7 70,11 C85,30 91,60 90,100 Z"/></clipPath><linearGradient id="xb4g" x1="0" y1="0" x2="0" y2="1"><stop offset="0" stop-color="#b4b4b4"/><stop offset="1" stop-color="#c6c6c6"/></linearGradient><filter id="xb4n" x="0" y="0" width="100%" height="100%"><feTurbulence type="fractalNoise" baseFrequency="0.6" numOctaves="2" seed="7"/><feColorMatrix type="matrix" values="0 0 0 0 0  0 0 0 0 0  0 0 0 0 0  1.5 0 0 0 -0.6"/></filter><clipPath id="xb4l"><path d="M34.0,15.0 C31.7,15.2 28.7,16.0 26.0,20.0 C23.3,24.0 20.2,28.5 18.0,39.1 C15.8,49.8 12.2,77.0 13.0,84.0 C13.8,91.0 19.5,82.5 23.0,81.0 C26.5,79.5 30.8,76.5 34.0,75.0 C37.2,73.5 40.7,78.5 42.0,72.0 C43.3,65.5 42.3,44.5 42.0,35.7 C41.7,26.9 41.3,22.4 40.0,19.0 C38.7,15.5 36.3,14.8 34.0,15.0 Z"/><path d="M66.0,15.0 C68.3,15.2 71.3,16.0 74.0,20.0 C76.7,24.0 79.8,28.5 82.0,39.1 C84.2,49.8 87.8,77.0 87.0,84.0 C86.2,91.0 80.5,82.5 77.0,81.0 C73.5,79.5 69.2,76.5 66.0,75.0 C62.8,73.5 59.3,78.5 58.0,72.0 C56.7,65.5 57.7,44.5 58.0,35.7 C58.3,26.9 58.7,22.4 60.0,19.0 C61.3,15.5 63.7,14.8 66.0,15.0 Z"/></clipPath></defs><g clip-path="url(#xb4c)"><rect width="100" height="100" fill="#afafaf"/><g filter="url(#xb4)"><path d="M5,100 C4,70 5,40 10,26 C16,16 30,10 50,10 C70,10 84,16 90,26 C95,40 96,70 95,100 Z" fill="url(#xb4g)"/><path d="M0,0 L100,0 L100,20 C85,14 70,8 50,8 C30,8 15,14 0,20 Z" fill="#b4b4b4"/><rect x="0" y="40" width="2" height="60" fill="#464646"/><rect x="97" y="40" width="3" height="60" fill="#464646"/><path d="M9,100 C8,60 14,30 30,10 C40,6 60,6 70,10 C86,30 92,60 91,100 Z" fill="#bebebe"/><path d="M8,100 L8,84 C30,72 70,72 92,84 L92,100 Z" fill="#c6c6c6"/></g><g filter="url(#xb4s)"><path d="M34.0,15.0 C31.7,15.2 28.7,16.0 26.0,20.0 C23.3,24.0 20.2,28.5 18.0,39.1 C15.8,49.8 12.2,77.0 13.0,84.0 C13.8,91.0 19.5,82.5 23.0,81.0 C26.5,79.5 30.8,76.5 34.0,75.0 C37.2,73.5 40.7,78.5 42.0,72.0 C43.3,65.5 42.3,44.5 42.0,35.7 C41.7,26.9 41.3,22.4 40.0,19.0 C38.7,15.5 36.3,14.8 34.0,15.0 Z" fill="#737373"/><path d="M66.0,15.0 C68.3,15.2 71.3,16.0 74.0,20.0 C76.7,24.0 79.8,28.5 82.0,39.1 C84.2,49.8 87.8,77.0 87.0,84.0 C86.2,91.0 80.5,82.5 77.0,81.0 C73.5,79.5 69.2,76.5 66.0,75.0 C62.8,73.5 59.3,78.5 58.0,72.0 C56.7,65.5 57.7,44.5 58.0,35.7 C58.3,26.9 58.7,22.4 60.0,19.0 C61.3,15.5 63.7,14.8 66.0,15.0 Z" fill="#737373"/></g><rect width="100" height="100" filter="url(#xb4n)" clip-path="url(#xb4l)" opacity="0.25"/><g filter="url(#xb4)"><ellipse cx="56.0" cy="71" rx="10.0" ry="14" fill="#c4c4c4" opacity="0.9"/><rect x="41" y="0" width="18" height="100" fill="#d5d5d5" opacity="0.85"/><rect x="44.5" y="0" width="11" height="100" fill="#dfdfdf" opacity="0.8"/></g><g clip-path="url(#xb4t)"><g filter="url(#xb4s)" fill="none" stroke="#dcdcdc" stroke-width="2.4" opacity="0.7" stroke-linecap="round"><path d="M43,17.0 C30,13.0 15,14.0 9.0,22.0"/><path d="M57,17.0 C70,13.0 85,14.0 91.0,22.0"/><path d="M43,25.7 C30,21.7 15,22.7 9.0,31.6"/><path d="M57,25.7 C70,21.7 85,22.7 91.0,31.6"/><path d="M43,34.4 C30,30.4 15,31.4 9.0,41.2"/><path d="M57,34.4 C70,30.4 85,31.4 91.0,41.2"/><path d="M43,43.1 C30,39.1 15,40.1 9.0,50.8"/><path d="M57,43.1 C70,39.1 85,40.1 91.0,50.8"/><path d="M43,51.8 C30,47.8 15,48.8 9.0,60.4"/><path d="M57,51.8 C70,47.8 85,48.8 91.0,60.4"/><path d="M43,60.5 C30,56.5 15,57.5 9.0,70.0"/><path d="M57,60.5 C70,56.5 85,57.5 91.0,70.0"/><path d="M43,69.2 C30,65.2 15,66.2 9.0,79.6"/><path d="M57,69.2 C70,65.2 85,66.2 91.0,79.6"/><path d="M43,77.9 C30,73.9 15,74.9 9.0,89.2"/><path d="M57,77.9 C70,73.9 85,74.9 91.0,89.2"/></g></g><g filter="url(#xb4s)" fill="none" stroke="#d7d7d7" stroke-width="2.2" opacity="0.8"><path d="M14,8 C26,6 38,6 46,3"/><path d="M86,8 C74,6 62,6 54,3"/></g><g fill="#eeeeee" opacity="0.35"><rect x="44.5" y="6" width="11" height="2.2"/><rect x="44.5" y="11" width="11" height="2.2"/><rect x="44.5" y="16" width="11" height="2.2"/><rect x="44.5" y="21" width="11" height="2.2"/><rect x="44.5" y="26" width="11" height="2.2"/><rect x="44.5" y="31" width="11" height="2.2"/><rect x="44.5" y="36" width="11" height="2.2"/><rect x="44.5" y="41" width="11" height="2.2"/><rect x="44.5" y="46" width="11" height="2.2"/><rect x="44.5" y="51" width="11" height="2.2"/><rect x="44.5" y="56" width="11" height="2.2"/><rect x="44.5" y="61" width="11" height="2.2"/><rect x="44.5" y="66" width="11" height="2.2"/><rect x="44.5" y="71" width="11" height="2.2"/><rect x="44.5" y="76" width="11" height="2.2"/><rect x="44.5" y="81" width="11" height="2.2"/><rect x="44.5" y="86" width="11" height="2.2"/><rect x="44.5" y="91" width="11" height="2.2"/><rect x="44.5" y="96" width="11" height="2.2"/></g><ellipse cx="0" cy="0" rx="12.6" ry="5.4" fill="#1e1e1e" filter="url(#xb4)"/></g></svg>
<svg x="1026.0" y="296.2" width="160.8" height="156.4" viewBox="0 0 100 100" preserveAspectRatio="none"><defs><filter id="xb5" x="-10%" y="-10%" width="120%" height="120%"><feGaussianBlur stdDeviation="1.5"/></filter><filter id="xb5s" x="-10%" y="-10%" width="120%" height="120%"><feGaussianBlur stdDeviation="0.5"/></filter><clipPath id="xb5c"><rect width="100" height="100"/></clipPath><clipPath id="xb5t"><path d="M8,100 C7,60 13,30 30,16 C40,12 60,12 70,16 C87,30 93,60 92,100 Z"/></clipPath><linearGradient id="xb5g" x1="0" y1="0" x2="0" y2="1"><stop offset="0" stop-color="#787878"/><stop offset="1" stop-color="#989898"/></linearGradient><filter id="xb5n" x="0" y="0" width="100%" height="100%"><feTurbulence type="fractalNoise" baseFrequency="0.6" numOctaves="2" seed="8"/><feColorMatrix type="matrix" values="0 0 0 0 0  0 0 0 0 0  0 0 0 0 0  1.5 0 0 0 -0.6"/></filter><clipPath id="xb5l"><path d="M36.0,20.0 C33.7,20.2 31.3,21.0 28.0,25.0 C24.7,29.0 18.8,33.3 16.0,43.8 C13.2,54.3 10.2,81.1 11.0,88.0 C11.8,94.9 16.8,86.5 21.0,85.0 C25.2,83.5 32.2,80.5 36.0,79.0 C39.8,77.5 42.7,82.4 44.0,76.0 C45.3,69.6 44.3,49.1 44.0,40.4 C43.7,31.7 43.3,27.4 42.0,24.0 C40.7,20.6 38.3,19.8 36.0,20.0 Z"/><path d="M64.0,20.0 C66.3,20.2 68.7,21.0 72.0,25.0 C75.3,29.0 81.2,33.3 84.0,43.8 C86.8,54.3 89.8,81.1 89.0,88.0 C88.2,94.9 83.2,86.5 79.0,85.0 C74.8,83.5 67.8,80.5 64.0,79.0 C60.2,77.5 57.3,82.4 56.0,76.0 C54.7,69.6 55.7,49.1 56.0,40.4 C56.3,31.7 56.7,27.4 58.0,24.0 C59.3,20.6 61.7,19.8 64.0,20.0 Z"/></clipPath></defs><g clip-path="url(#xb5c)"><rect width="100" height="100" fill="#828282"/><g filter="url(#xb5)"><path d="M5,100 C4,70 5,40 10,26 C16,16 30,10 50,10 C70,10 84,16 90,26 C95,40 96,70 95,100 Z" fill="url(#xb5g)"/><path d="M0,0 L100,0 L100,20 C85,14 70,8 50,8 C30,8 15,14 0,20 Z" fill="#787878"/><rect x="0" y="30" width="5" height="70" fill="#0f0f0f"/><rect x="95" y="25" width="5" height="75" fill="#0f0f0f"/><path d="M7,100 C6,60 12,30 30,15 C40,11 60,11 70,15 C88,30 94,60 93,100 Z" fill="#969696"/><path d="M8,100 L8,88 C30,76 70,76 92,88 L92,100 Z" fill="#989898"/></g><g filter="url(#xb5s)"><path d="M36.0,20.0 C33.7,20.2 31.3,21.0 28.0,25.0 C24.7,29.0 18.8,33.3 16.0,43.8 C13.2,54.3 10.2,81.1 11.0,88.0 C11.8,94.9 16.8,86.5 21.0,85.0 C25.2,83.5 32.2,80.5 36.0,79.0 C39.8,77.5 42.7,82.4 44.0,76.0 C45.3,69.6 44.3,49.1 44.0,40.4 C43.7,31.7 43.3,27.4 42.0,24.0 C40.7,20.6 38.3,19.8 36.0,20.0 Z" fill="#7d7d7d"/><path d="M64.0,20.0 C66.3,20.2 68.7,21.0 72.0,25.0 C75.3,29.0 81.2,33.3 84.0,43.8 C86.8,54.3 89.8,81.1 89.0,88.0 C88.2,94.9 83.2,86.5 79.0,85.0 C74.8,83.5 67.8,80.5 64.0,79.0 C60.2,77.5 57.3,82.4 56.0,76.0 C54.7,69.6 55.7,49.1 56.0,40.4 C56.3,31.7 56.7,27.4 58.0,24.0 C59.3,20.6 61.7,19.8 64.0,20.0 Z" fill="#7d7d7d"/></g><rect width="100" height="100" filter="url(#xb5n)" clip-path="url(#xb5l)" opacity="0.25"/><g filter="url(#xb5)"><ellipse cx="56.0" cy="75" rx="10.0" ry="14" fill="#969696" opacity="0.9"/><rect x="41" y="0" width="18" height="100" fill="#a0a0a0" opacity="0.85"/><rect x="44.5" y="0" width="11" height="100" fill="#aaaaaa" opacity="0.8"/></g><g clip-path="url(#xb5t)"><g filter="url(#xb5s)" fill="none" stroke="#afafaf" stroke-width="2.4" opacity="0.55" stroke-linecap="round"><path d="M45,22.0 C32,18.0 13,19.0 7.0,27.0"/><path d="M55,22.0 C68,18.0 87,19.0 93.0,27.0"/><path d="M45,29.6 C32,25.6 13,26.6 7.0,35.5"/><path d="M55,29.6 C68,25.6 87,26.6 93.0,35.5"/><path d="M45,37.2 C32,33.2 13,34.2 7.0,44.0"/><path d="M55,37.2 C68,33.2 87,34.2 93.0,44.0"/><path d="M45,44.8 C32,40.8 13,41.8 7.0,52.5"/><path d="M55,44.8 C68,40.8 87,41.8 93.0,52.5"/><path d="M45,52.3 C32,48.3 13,49.3 7.0,60.9"/><path d="M55,52.3 C68,48.3 87,49.3 93.0,60.9"/><path d="M45,59.9 C32,55.9 13,56.9 7.0,69.4"/><path d="M55,59.9 C68,55.9 87,56.9 93.0,69.4"/><path d="M45,67.5 C32,63.5 13,64.5 7.0,77.9"/><path d="M55,67.5 C68,63.5 87,64.5 93.0,77.9"/><path d="M45,75.1 C32,71.1 13,72.1 7.0,86.4"/><path d="M55,75.1 C68,71.1 87,72.1 93.0,86.4"/><path d="M45,82.7 C32,78.7 13,79.7 7.0,94.9"/><path d="M55,82.7 C68,78.7 87,79.7 93.0,94.9"/></g></g><g filter="url(#xb5s)" fill="none" stroke="#d7d7d7" stroke-width="2.2" opacity="0.8"><path d="M14,13 C26,11 38,11 46,8"/><path d="M86,13 C74,11 62,11 54,8"/></g><g fill="#b9b9b9" opacity="0.35"><rect x="44.5" y="6" width="11" height="2.2"/><rect x="44.5" y="11" width="11" height="2.2"/><rect x="44.5" y="16" width="11" height="2.2"/><rect x="44.5" y="21" width="11" height="2.2"/><rect x="44.5" y="26" width="11" height="2.2"/><rect x="44.5" y="31" width="11" height="2.2"/><rect x="44.5" y="36" width="11" height="2.2"/><rect x="44.5" y="41" width="11" height="2.2"/><rect x="44.5" y="46" width="11" height="2.2"/><rect x="44.5" y="51" width="11" height="2.2"/><rect x="44.5" y="56" width="11" height="2.2"/><rect x="44.5" y="61" width="11" height="2.2"/><rect x="44.5" y="66" width="11" height="2.2"/><rect x="44.5" y="71" width="11" height="2.2"/><rect x="44.5" y="76" width="11" height="2.2"/><rect x="44.5" y="81" width="11" height="2.2"/><rect x="44.5" y="86" width="11" height="2.2"/><rect x="44.5" y="91" width="11" height="2.2"/><rect x="44.5" y="96" width="11" height="2.2"/></g><ellipse cx="0" cy="0" rx="26.2" ry="9.5" fill="#0a0a0a" filter="url(#xb5)"/><ellipse cx="100" cy="0" rx="25.2" ry="16.2" fill="#0a0a0a" filter="url(#xb5)"/><rect x="82" y="1" width="11" height="13" fill="#000"/><path d="M85.5,3.5 V10.5 H90.5" fill="none" stroke="#fff" stroke-width="1.6"/></g></svg>
<svg x="1219.0" y="294.5" width="160.5" height="160.8" viewBox="0 0 100 100" preserveAspectRatio="none"><defs><filter id="xb6" x="-10%" y="-10%" width="120%" height="120%"><feGaussianBlur stdDeviation="1.5"/></filter><filter id="xb6s" x="-10%" y="-10%" width="120%" height="120%"><feGaussianBlur stdDeviation="0.5"/></filter><clipPath id="xb6c"><rect width="100" height="100"/></clipPath><clipPath id="xb6t"><path d="M10,100 C9,60 15,30 30,12 C40,8 60,8 70,12 C85,30 91,60 90,100 Z"/></clipPath><linearGradient id="xb6g" x1="0" y1="0" x2="0" y2="1"><stop offset="0" stop-color="#7d7d7d"/><stop offset="1" stop-color="#9b9b9b"/></linearGradient><filter id="xb6n" x="0" y="0" width="100%" height="100%"><feTurbulence type="fractalNoise" baseFrequency="0.6" numOctaves="2" seed="9"/><feColorMatrix type="matrix" values="0 0 0 0 0  0 0 0 0 0  0 0 0 0 0  1.5 0 0 0 -0.6"/></filter><clipPath id="xb6l"><path d="M34.0,16.0 C31.7,16.2 28.7,17.6 26.0,21.0 C23.3,24.4 20.2,27.6 18.0,36.6 C15.8,45.6 12.2,69.1 13.0,75.0 C13.8,80.9 19.5,73.5 23.0,72.0 C26.5,70.5 30.8,67.5 34.0,66.0 C37.2,64.5 40.7,68.4 42.0,63.0 C43.3,57.6 42.3,40.9 42.0,33.7 C41.7,26.5 41.3,22.9 40.0,20.0 C38.7,17.1 36.3,15.8 34.0,16.0 Z"/><path d="M66.0,16.0 C68.3,16.2 71.3,17.7 74.0,21.0 C76.7,24.3 79.8,27.1 82.0,35.6 C84.2,44.1 87.8,66.4 87.0,72.0 C86.2,77.6 80.5,70.5 77.0,69.0 C73.5,67.5 69.2,64.5 66.0,63.0 C62.8,61.5 59.3,65.0 58.0,60.0 C56.7,55.0 57.7,39.5 58.0,32.8 C58.3,26.1 58.7,22.8 60.0,20.0 C61.3,17.2 63.7,15.8 66.0,16.0 Z"/></clipPath></defs><g clip-path="url(#xb6c)"><rect width="100" height="100" fill="#787878"/><g filter="url(#xb6)"><path d="M5,100 C4,70 5,40 10,26 C16,16 30,10 50,10 C70,10 84,16 90,26 C95,40 96,70 95,100 Z" fill="url(#xb6g)"/><path d="M0,0 L100,0 L100,20 C85,14 70,8 50,8 C30,8 15,14 0,20 Z" fill="#7d7d7d"/><rect x="0" y="25" width="6" height="75" fill="#0f0f0f"/><rect x="93" y="30" width="7" height="70" fill="#0f0f0f"/><path d="M9,100 C8,60 14,30 30,11 C40,7 60,7 70,11 C86,30 92,60 91,100 Z" fill="#969696"/><path d="M8,100 L8,75 C30,63 70,60 92,72 L92,100 Z" fill="#9b9b9b"/></g><g filter="url(#xb6s)"><path d="M34.0,16.0 C31.7,16.2 28.7,17.6 26.0,21.0 C23.3,24.4 20.2,27.6 18.0,36.6 C15.8,45.6 12.2,69.1 13.0,75.0 C13.8,80.9 19.5,73.5 23.0,72.0 C26.5,70.5 30.8,67.5 34.0,66.0 C37.2,64.5 40.7,68.4 42.0,63.0 C43.3,57.6 42.3,40.9 42.0,33.7 C41.7,26.5 41.3,22.9 40.0,20.0 C38.7,17.1 36.3,15.8 34.0,16.0 Z" fill="#6e6e6e"/><path d="M66.0,16.0 C68.3,16.2 71.3,17.7 74.0,21.0 C76.7,24.3 79.8,27.1 82.0,35.6 C84.2,44.1 87.8,66.4 87.0,72.0 C86.2,77.6 80.5,70.5 77.0,69.0 C73.5,67.5 69.2,64.5 66.0,63.0 C62.8,61.5 59.3,65.0 58.0,60.0 C56.7,55.0 57.7,39.5 58.0,32.8 C58.3,26.1 58.7,22.8 60.0,20.0 C61.3,17.2 63.7,15.8 66.0,16.0 Z" fill="#6e6e6e"/></g><rect width="100" height="100" filter="url(#xb6n)" clip-path="url(#xb6l)" opacity="0.45"/><g filter="url(#xb6)"><ellipse cx="56.0" cy="59" rx="10.0" ry="14" fill="#a0a0a0" opacity="0.9"/><rect x="41" y="0" width="18" height="100" fill="#afafaf" opacity="0.85"/><rect x="44.5" y="0" width="11" height="100" fill="#b9b9b9" opacity="0.8"/><ellipse cx="74" cy="84" rx="7" ry="6" fill="#5f5f5f"/><ellipse cx="84" cy="88" rx="6" ry="7" fill="#5a5a5a"/><ellipse cx="76" cy="95" rx="8" ry="4" fill="#646464"/><ellipse cx="88" cy="97" rx="5" ry="3" fill="#5f5f5f"/></g><g clip-path="url(#xb6t)"><g filter="url(#xb6s)" fill="none" stroke="#bebebe" stroke-width="2.4" opacity="0.55" stroke-linecap="round"><path d="M43,18.0 C30,14.0 15,15.0 9.0,23.0"/><path d="M57,18.0 C70,14.0 85,15.0 91.0,23.0"/><path d="M43,24.6 C30,20.6 15,21.6 9.0,30.5"/><path d="M57,24.2 C70,20.2 85,21.2 91.0,30.1"/><path d="M43,31.1 C30,27.1 15,28.1 9.0,37.9"/><path d="M57,30.4 C70,26.4 85,27.4 91.0,37.2"/><path d="M43,37.7 C30,33.7 15,34.7 9.0,45.4"/><path d="M57,36.6 C70,32.6 85,33.6 91.0,44.3"/><path d="M43,44.2 C30,40.2 15,41.2 9.0,52.8"/><path d="M57,42.8 C70,38.8 85,39.8 91.0,51.4"/><path d="M43,50.8 C30,46.8 15,47.8 9.0,60.3"/><path d="M57,49.0 C70,45.0 85,46.0 91.0,58.5"/><path d="M43,57.3 C30,53.3 15,54.3 9.0,67.7"/><path d="M57,55.2 C70,51.2 85,52.2 91.0,65.6"/><path d="M43,63.9 C30,59.9 15,60.9 9.0,75.2"/><path d="M57,61.4 C70,57.4 85,58.4 91.0,72.7"/><path d="M43,70.4 C30,66.4 15,67.4 9.0,82.6"/><path d="M57,67.7 C70,63.7 85,64.7 91.0,79.9"/></g></g><g filter="url(#xb6s)" fill="none" stroke="#d7d7d7" stroke-width="2.2" opacity="0.8"><path d="M14,9 C26,7 38,7 46,4"/><path d="M86,9 C74,7 62,7 54,4"/></g><g fill="#c8c8c8" opacity="0.35"><rect x="44.5" y="6" width="11" height="2.2"/><rect x="44.5" y="11" width="11" height="2.2"/><rect x="44.5" y="16" width="11" height="2.2"/><rect x="44.5" y="21" width="11" height="2.2"/><rect x="44.5" y="26" width="11" height="2.2"/><rect x="44.5" y="31" width="11" height="2.2"/><rect x="44.5" y="36" width="11" height="2.2"/><rect x="44.5" y="41" width="11" height="2.2"/><rect x="44.5" y="46" width="11" height="2.2"/><rect x="44.5" y="51" width="11" height="2.2"/><rect x="44.5" y="56" width="11" height="2.2"/><rect x="44.5" y="61" width="11" height="2.2"/><rect x="44.5" y="66" width="11" height="2.2"/><rect x="44.5" y="71" width="11" height="2.2"/><rect x="44.5" y="76" width="11" height="2.2"/><rect x="44.5" y="81" width="11" height="2.2"/><rect x="44.5" y="86" width="11" height="2.2"/><rect x="44.5" y="91" width="11" height="2.2"/><rect x="44.5" y="96" width="11" height="2.2"/></g><path d="M49,0 C49,30 51,55 50,75 C49,85 55,95 58,100" fill="none" stroke="#e6e6e6" stroke-width="0.8" opacity="0.7"/><rect x="0" y="0" width="100" height="3" rx="3" fill="#282828" filter="url(#xb6)"/><path d="M92,1 V9 H97.5" fill="none" stroke="#f4f4f4" stroke-width="1.5"/></g></svg>
<svg x="1411.5" y="295.6" width="160.6" height="157.2" viewBox="0 0 100 100" preserveAspectRatio="none"><defs><filter id="xb7" x="-10%" y="-10%" width="120%" height="120%"><feGaussianBlur stdDeviation="1.5"/></filter><filter id="xb7s" x="-10%" y="-10%" width="120%" height="120%"><feGaussianBlur stdDeviation="0.5"/></filter><clipPath id="xb7c"><rect width="100" height="100"/></clipPath><clipPath id="xb7t"><path d="M10,100 C9,60 15,30 30,14 C40,10 60,10 70,14 C85,30 91,60 90,100 Z"/></clipPath><linearGradient id="xb7g" x1="0" y1="0" x2="0" y2="1"><stop offset="0" stop-color="#787878"/><stop offset="1" stop-color="#a2a2a2"/></linearGradient><filter id="xb7n" x="0" y="0" width="100%" height="100%"><feTurbulence type="fractalNoise" baseFrequency="0.6" numOctaves="2" seed="10"/><feColorMatrix type="matrix" values="0 0 0 0 0  0 0 0 0 0  0 0 0 0 0  1.5 0 0 0 -0.6"/></filter><clipPath id="xb7l"><path d="M34.0,18.0 C31.7,18.2 28.7,19.5 26.0,23.0 C23.3,26.5 20.2,29.8 18.0,39.0 C15.8,48.2 12.2,72.0 13.0,78.0 C13.8,84.0 19.5,76.5 23.0,75.0 C26.5,73.5 30.8,70.5 34.0,69.0 C37.2,67.5 40.7,71.5 42.0,66.0 C43.3,60.5 42.3,43.3 42.0,36.0 C41.7,28.7 41.3,25.0 40.0,22.0 C38.7,19.0 36.3,17.8 34.0,18.0 Z"/><path d="M66.0,18.0 C68.3,18.2 71.3,19.6 74.0,23.0 C76.7,26.4 79.8,29.5 82.0,38.3 C84.2,47.1 87.8,70.2 87.0,76.0 C86.2,81.8 80.5,74.5 77.0,73.0 C73.5,71.5 69.2,68.5 66.0,67.0 C62.8,65.5 59.3,69.3 58.0,64.0 C56.7,58.7 57.7,42.4 58.0,35.4 C58.3,28.4 58.7,24.9 60.0,22.0 C61.3,19.1 63.7,17.8 66.0,18.0 Z"/></clipPath></defs><g clip-path="url(#xb7c)"><rect width="100" height="100" fill="#7d7d7d"/><g filter="url(#xb7)"><path d="M5,100 C4,70 5,40 10,26 C16,16 30,10 50,10 C70,10 84,16 90,26 C95,40 96,70 95,100 Z" fill="url(#xb7g)"/><path d="M0,0 L100,0 L100,20 C85,14 70,8 50,8 C30,8 15,14 0,20 Z" fill="#787878"/><rect x="0" y="25" width="5" height="75" fill="#141414"/><rect x="95" y="25" width="5" height="75" fill="#141414"/><path d="M9,100 C8,60 14,30 30,13 C40,9 60,9 70,13 C86,30 92,60 91,100 Z" fill="#989898"/><path d="M8,100 L8,78 C30,66 70,64 92,76 L92,100 Z" fill="#a2a2a2"/></g><g filter="url(#xb7s)"><path d="M34.0,18.0 C31.7,18.2 28.7,19.5 26.0,23.0 C23.3,26.5 20.2,29.8 18.0,39.0 C15.8,48.2 12.2,72.0 13.0,78.0 C13.8,84.0 19.5,76.5 23.0,75.0 C26.5,73.5 30.8,70.5 34.0,69.0 C37.2,67.5 40.7,71.5 42.0,66.0 C43.3,60.5 42.3,43.3 42.0,36.0 C41.7,28.7 41.3,25.0 40.0,22.0 C38.7,19.0 36.3,17.8 34.0,18.0 Z" fill="#646464"/><path d="M66.0,18.0 C68.3,18.2 71.3,19.6 74.0,23.0 C76.7,26.4 79.8,29.5 82.0,38.3 C84.2,47.1 87.8,70.2 87.0,76.0 C86.2,81.8 80.5,74.5 77.0,73.0 C73.5,71.5 69.2,68.5 66.0,67.0 C62.8,65.5 59.3,69.3 58.0,64.0 C56.7,58.7 57.7,42.4 58.0,35.4 C58.3,28.4 58.7,24.9 60.0,22.0 C61.3,19.1 63.7,17.8 66.0,18.0 Z" fill="#646464"/></g><rect width="100" height="100" filter="url(#xb7n)" clip-path="url(#xb7l)" opacity="0.45"/><g filter="url(#xb7)"><ellipse cx="56.0" cy="63" rx="10.0" ry="14" fill="#a5a5a5" opacity="0.9"/><rect x="41" y="0" width="18" height="100" fill="#a8a8a8" opacity="0.85"/><rect x="44.5" y="0" width="11" height="100" fill="#b2b2b2" opacity="0.8"/><ellipse cx="47" cy="5" rx="22" ry="9" fill="#c8c8c8"/></g><g clip-path="url(#xb7t)"><g filter="url(#xb7s)" fill="none" stroke="#bebebe" stroke-width="2.4" opacity="0.55" stroke-linecap="round"><path d="M43,20.0 C30,16.0 15,17.0 9.0,25.0"/><path d="M57,20.0 C70,16.0 85,17.0 91.0,25.0"/><path d="M43,26.7 C30,22.7 15,23.7 9.0,32.6"/><path d="M57,26.4 C70,22.4 85,23.4 91.0,32.3"/><path d="M43,33.3 C30,29.3 15,30.3 9.0,40.1"/><path d="M57,32.9 C70,28.9 85,29.9 91.0,39.7"/><path d="M43,40.0 C30,36.0 15,37.0 9.0,47.7"/><path d="M57,39.3 C70,35.3 85,36.3 91.0,47.0"/><path d="M43,46.7 C30,42.7 15,43.7 9.0,55.3"/><path d="M57,45.7 C70,41.7 85,42.7 91.0,54.3"/><path d="M43,53.3 C30,49.3 15,50.3 9.0,62.8"/><path d="M57,52.2 C70,48.2 85,49.2 91.0,61.7"/><path d="M43,60.0 C30,56.0 15,57.0 9.0,70.4"/><path d="M57,58.6 C70,54.6 85,55.6 91.0,69.0"/><path d="M43,66.7 C30,62.7 15,63.7 9.0,78.0"/><path d="M57,65.1 C70,61.1 85,62.1 91.0,76.4"/><path d="M43,73.3 C30,69.3 15,70.3 9.0,85.5"/><path d="M57,71.5 C70,67.5 85,68.5 91.0,83.7"/></g></g><g filter="url(#xb7s)" fill="none" stroke="#d7d7d7" stroke-width="2.2" opacity="0.8"><path d="M14,11 C26,9 38,9 46,6"/><path d="M86,11 C74,9 62,9 54,6"/></g><g fill="#c1c1c1" opacity="0.35"><rect x="44.5" y="6" width="11" height="2.2"/><rect x="44.5" y="11" width="11" height="2.2"/><rect x="44.5" y="16" width="11" height="2.2"/><rect x="44.5" y="21" width="11" height="2.2"/><rect x="44.5" y="26" width="11" height="2.2"/><rect x="44.5" y="31" width="11" height="2.2"/><rect x="44.5" y="36" width="11" height="2.2"/><rect x="44.5" y="41" width="11" height="2.2"/><rect x="44.5" y="46" width="11" height="2.2"/><rect x="44.5" y="51" width="11" height="2.2"/><rect x="44.5" y="56" width="11" height="2.2"/><rect x="44.5" y="61" width="11" height="2.2"/><rect x="44.5" y="66" width="11" height="2.2"/><rect x="44.5" y="71" width="11" height="2.2"/><rect x="44.5" y="76" width="11" height="2.2"/><rect x="44.5" y="81" width="11" height="2.2"/><rect x="44.5" y="86" width="11" height="2.2"/><rect x="44.5" y="91" width="11" height="2.2"/><rect x="44.5" y="96" width="11" height="2.2"/></g><path d="M49,0 C49,30 51,55 50,75 C49,85 55,95 58,100" fill="none" stroke="#e6e6e6" stroke-width="0.8" opacity="0.7"/><path d="M91,1 V9 H96.5" fill="none" stroke="#f4f4f4" stroke-width="1.5"/></g></svg>
<svg x="1604.1" y="292.0" width="160.9" height="165.0" viewBox="0 0 100 100" preserveAspectRatio="none"><defs><filter id="xb8" x="-10%" y="-10%" width="120%" height="120%"><feGaussianBlur stdDeviation="1.5"/></filter><filter id="xb8s" x="-10%" y="-10%" width="120%" height="120%"><feGaussianBlur stdDeviation="0.5"/></filter><clipPath id="xb8c"><rect width="100" height="100"/></clipPath><clipPath id="xb8t"><path d="M10,100 C9,60 15,30 30,18 C40,14 60,14 70,18 C85,30 91,60 90,100 Z"/></clipPath><linearGradient id="xb8g" x1="0" y1="0" x2="0" y2="1"><stop offset="0" stop-color="#6e6e6e"/><stop offset="1" stop-color="#9e9e9e"/></linearGradient><filter id="xb8n" x="0" y="0" width="100%" height="100%"><feTurbulence type="fractalNoise" baseFrequency="0.6" numOctaves="2" seed="11"/><feColorMatrix type="matrix" values="0 0 0 0 0  0 0 0 0 0  0 0 0 0 0  1.5 0 0 0 -0.6"/></filter><clipPath id="xb8l"><path d="M34.0,22.0 C31.7,22.2 28.7,23.6 26.0,27.0 C23.3,30.4 20.2,33.5 18.0,42.3 C15.8,51.1 12.2,74.2 13.0,80.0 C13.8,85.8 19.5,78.5 23.0,77.0 C26.5,75.5 30.8,72.5 34.0,71.0 C37.2,69.5 40.7,73.3 42.0,68.0 C43.3,62.7 42.3,46.4 42.0,39.4 C41.7,32.4 41.3,28.9 40.0,26.0 C38.7,23.1 36.3,21.8 34.0,22.0 Z"/><path d="M66.0,22.0 C68.3,22.2 71.3,23.7 74.0,27.0 C76.7,30.3 79.8,33.1 82.0,41.6 C84.2,50.1 87.8,72.4 87.0,78.0 C86.2,83.6 80.5,76.5 77.0,75.0 C73.5,73.5 69.2,70.5 66.0,69.0 C62.8,67.5 59.3,71.0 58.0,66.0 C56.7,61.0 57.7,45.5 58.0,38.8 C58.3,32.1 58.7,28.8 60.0,26.0 C61.3,23.2 63.7,21.8 66.0,22.0 Z"/></clipPath></defs><g clip-path="url(#xb8c)"><rect width="100" height="100" fill="#737373"/><g filter="url(#xb8)"><path d="M5,100 C4,70 5,40 10,26 C16,16 30,10 50,10 C70,10 84,16 90,26 C95,40 96,70 95,100 Z" fill="url(#xb8g)"/><path d="M0,0 L100,0 L100,20 C85,14 70,8 50,8 C30,8 15,14 0,20 Z" fill="#6e6e6e"/><rect x="0" y="40" width="5" height="60" fill="#0f0f0f"/><rect x="95" y="30" width="5" height="70" fill="#0f0f0f"/><path d="M9,100 C8,60 14,30 30,17 C40,13 60,13 70,17 C86,30 92,60 91,100 Z" fill="#949494"/><path d="M8,100 L8,80 C30,68 70,66 92,78 L92,100 Z" fill="#9e9e9e"/></g><g filter="url(#xb8s)"><path d="M34.0,22.0 C31.7,22.2 28.7,23.6 26.0,27.0 C23.3,30.4 20.2,33.5 18.0,42.3 C15.8,51.1 12.2,74.2 13.0,80.0 C13.8,85.8 19.5,78.5 23.0,77.0 C26.5,75.5 30.8,72.5 34.0,71.0 C37.2,69.5 40.7,73.3 42.0,68.0 C43.3,62.7 42.3,46.4 42.0,39.4 C41.7,32.4 41.3,28.9 40.0,26.0 C38.7,23.1 36.3,21.8 34.0,22.0 Z" fill="#5c5c5c"/><path d="M66.0,22.0 C68.3,22.2 71.3,23.7 74.0,27.0 C76.7,30.3 79.8,33.1 82.0,41.6 C84.2,50.1 87.8,72.4 87.0,78.0 C86.2,83.6 80.5,76.5 77.0,75.0 C73.5,73.5 69.2,70.5 66.0,69.0 C62.8,67.5 59.3,71.0 58.0,66.0 C56.7,61.0 57.7,45.5 58.0,38.8 C58.3,32.1 58.7,28.8 60.0,26.0 C61.3,23.2 63.7,21.8 66.0,22.0 Z" fill="#5c5c5c"/></g><rect width="100" height="100" filter="url(#xb8n)" clip-path="url(#xb8l)" opacity="0.45"/><g filter="url(#xb8)"><ellipse cx="56.0" cy="65" rx="10.0" ry="14" fill="#9e9e9e" opacity="0.9"/><rect x="41" y="0" width="18" height="100" fill="#a5a5a5" opacity="0.85"/><rect x="44.5" y="0" width="11" height="100" fill="#afafaf" opacity="0.8"/><ellipse cx="50" cy="7" rx="32" ry="9" fill="#cdcdcd"/></g><g clip-path="url(#xb8t)"><g filter="url(#xb8s)" fill="none" stroke="#b9b9b9" stroke-width="2.4" opacity="0.55" stroke-linecap="round"><path d="M43,24.0 C30,20.0 15,21.0 9.0,29.0"/><path d="M57,24.0 C70,20.0 85,21.0 91.0,29.0"/><path d="M43,30.4 C30,26.4 15,27.4 9.0,36.3"/><path d="M57,30.2 C70,26.2 85,27.2 91.0,36.1"/><path d="M43,36.9 C30,32.9 15,33.9 9.0,43.7"/><path d="M57,36.4 C70,32.4 85,33.4 91.0,43.2"/><path d="M43,43.3 C30,39.3 15,40.3 9.0,51.0"/><path d="M57,42.6 C70,38.6 85,39.6 91.0,50.3"/><path d="M43,49.7 C30,45.7 15,46.7 9.0,58.3"/><path d="M57,48.8 C70,44.8 85,45.8 91.0,57.4"/><path d="M43,56.2 C30,52.2 15,53.2 9.0,65.7"/><path d="M57,55.0 C70,51.0 85,52.0 91.0,64.5"/><path d="M43,62.6 C30,58.6 15,59.6 9.0,73.0"/><path d="M57,61.2 C70,57.2 85,58.2 91.0,71.6"/><path d="M43,69.1 C30,65.1 15,66.1 9.0,80.4"/><path d="M57,67.4 C70,63.4 85,64.4 91.0,78.7"/><path d="M43,75.5 C30,71.5 15,72.5 9.0,87.7"/><path d="M57,73.7 C70,69.7 85,70.7 91.0,85.9"/></g></g><g filter="url(#xb8s)" fill="none" stroke="#d7d7d7" stroke-width="2.2" opacity="0.8"><path d="M14,15 C26,13 38,13 46,10"/><path d="M86,15 C74,13 62,13 54,10"/></g><g fill="#bebebe" opacity="0.35"><rect x="44.5" y="6" width="11" height="2.2"/><rect x="44.5" y="11" width="11" height="2.2"/><rect x="44.5" y="16" width="11" height="2.2"/><rect x="44.5" y="21" width="11" height="2.2"/><rect x="44.5" y="26" width="11" height="2.2"/><rect x="44.5" y="31" width="11" height="2.2"/><rect x="44.5" y="36" width="11" height="2.2"/><rect x="44.5" y="41" width="11" height="2.2"/><rect x="44.5" y="46" width="11" height="2.2"/><rect x="44.5" y="51" width="11" height="2.2"/><rect x="44.5" y="56" width="11" height="2.2"/><rect x="44.5" y="61" width="11" height="2.2"/><rect x="44.5" y="66" width="11" height="2.2"/><rect x="44.5" y="71" width="11" height="2.2"/><rect x="44.5" y="76" width="11" height="2.2"/><rect x="44.5" y="81" width="11" height="2.2"/><rect x="44.5" y="86" width="11" height="2.2"/><rect x="44.5" y="91" width="11" height="2.2"/><rect x="44.5" y="96" width="11" height="2.2"/></g><path d="M49,0 C49,30 51,55 50,75 C49,85 55,95 58,100" fill="none" stroke="#e6e6e6" stroke-width="0.8" opacity="0.7"/><ellipse cx="0" cy="0" rx="21.0" ry="6.8" fill="#0f0f0f" filter="url(#xb8)"/><ellipse cx="100" cy="0" rx="18.9" ry="6.8" fill="#0f0f0f" filter="url(#xb8)"/><path d="M90,3 V11 H95.5" fill="none" stroke="#f4f4f4" stroke-width="1.5"/></g></svg>
<svg x="1797.3" y="295.0" width="160.9" height="158.4" viewBox="0 0 100 100" preserveAspectRatio="none"><defs><filter id="xb9" x="-10%" y="-10%" width="120%" height="120%"><feGaussianBlur stdDeviation="1.5"/></filter><filter id="xb9s" x="-10%" y="-10%" width="120%" height="120%"><feGaussianBlur stdDeviation="0.5"/></filter><clipPath id="xb9c"><rect width="100" height="100"/></clipPath><clipPath id="xb9t"><path d="M10,100 C9,60 15,30 30,14 C40,10 60,10 70,14 C85,30 91,60 90,100 Z"/></clipPath><linearGradient id="xb9g" x1="0" y1="0" x2="0" y2="1"><stop offset="0" stop-color="#828282"/><stop offset="1" stop-color="#a8a8a8"/></linearGradient><filter id="xb9n" x="0" y="0" width="100%" height="100%"><feTurbulence type="fractalNoise" baseFrequency="0.6" numOctaves="2" seed="12"/><feColorMatrix type="matrix" values="0 0 0 0 0  0 0 0 0 0  0 0 0 0 0  1.5 0 0 0 -0.6"/></filter><clipPath id="xb9l"><path d="M34.0,18.0 C31.7,18.2 28.7,19.4 26.0,23.0 C23.3,26.6 20.2,30.2 18.0,39.7 C15.8,49.2 12.2,73.8 13.0,80.0 C13.8,86.2 19.5,78.5 23.0,77.0 C26.5,75.5 30.8,72.5 34.0,71.0 C37.2,69.5 40.7,73.7 42.0,68.0 C43.3,62.3 42.3,44.3 42.0,36.6 C41.7,28.9 41.3,25.1 40.0,22.0 C38.7,18.9 36.3,17.8 34.0,18.0 Z"/><path d="M66.0,18.0 C68.3,18.2 71.3,19.5 74.0,23.0 C76.7,26.5 79.8,29.8 82.0,39.0 C84.2,48.2 87.8,72.0 87.0,78.0 C86.2,84.0 80.5,76.5 77.0,75.0 C73.5,73.5 69.2,70.5 66.0,69.0 C62.8,67.5 59.3,71.5 58.0,66.0 C56.7,60.5 57.7,43.3 58.0,36.0 C58.3,28.7 58.7,25.0 60.0,22.0 C61.3,19.0 63.7,17.8 66.0,18.0 Z"/></clipPath></defs><g clip-path="url(#xb9c)"><rect width="100" height="100" fill="#828282"/><g filter="url(#xb9)"><path d="M5,100 C4,70 5,40 10,26 C16,16 30,10 50,10 C70,10 84,16 90,26 C95,40 96,70 95,100 Z" fill="url(#xb9g)"/><path d="M0,0 L100,0 L100,20 C85,14 70,8 50,8 C30,8 15,14 0,20 Z" fill="#828282"/><rect x="0" y="30" width="3" height="70" fill="#0c0c0c"/><rect x="91" y="5" width="9" height="95" fill="#0c0c0c"/><path d="M9,100 C8,60 14,30 30,13 C40,9 60,9 70,13 C86,30 92,60 91,100 Z" fill="#a0a0a0"/><path d="M8,100 L8,80 C30,68 70,66 92,78 L92,100 Z" fill="#a8a8a8"/></g><g filter="url(#xb9s)"><path d="M34.0,18.0 C31.7,18.2 28.7,19.4 26.0,23.0 C23.3,26.6 20.2,30.2 18.0,39.7 C15.8,49.2 12.2,73.8 13.0,80.0 C13.8,86.2 19.5,78.5 23.0,77.0 C26.5,75.5 30.8,72.5 34.0,71.0 C37.2,69.5 40.7,73.7 42.0,68.0 C43.3,62.3 42.3,44.3 42.0,36.6 C41.7,28.9 41.3,25.1 40.0,22.0 C38.7,18.9 36.3,17.8 34.0,18.0 Z" fill="#707070"/><path d="M66.0,18.0 C68.3,18.2 71.3,19.5 74.0,23.0 C76.7,26.5 79.8,29.8 82.0,39.0 C84.2,48.2 87.8,72.0 87.0,78.0 C86.2,84.0 80.5,76.5 77.0,75.0 C73.5,73.5 69.2,70.5 66.0,69.0 C62.8,67.5 59.3,71.5 58.0,66.0 C56.7,60.5 57.7,43.3 58.0,36.0 C58.3,28.7 58.7,25.0 60.0,22.0 C61.3,19.0 63.7,17.8 66.0,18.0 Z" fill="#707070"/></g><rect width="100" height="100" filter="url(#xb9n)" clip-path="url(#xb9l)" opacity="0.45"/><g filter="url(#xb9)"><ellipse cx="56.0" cy="65" rx="10.0" ry="14" fill="#acacac" opacity="0.9"/><rect x="41" y="0" width="18" height="100" fill="#b2b2b2" opacity="0.85"/><rect x="44.5" y="0" width="11" height="100" fill="#bcbcbc" opacity="0.8"/><ellipse cx="55" cy="92" rx="8" ry="3" fill="#5f5f5f"/><ellipse cx="66" cy="89" rx="8" ry="4" fill="#5a5a5a"/><ellipse cx="82" cy="87" rx="5" ry="6" fill="#646464"/><ellipse cx="46" cy="3" rx="16" ry="6" fill="#cdcdcd"/></g><g clip-path="url(#xb9t)"><g filter="url(#xb9s)" fill="none" stroke="#c3c3c3" stroke-width="2.4" opacity="0.6" stroke-linecap="round"><path d="M43,20.0 C30,16.0 15,17.0 9.0,25.0"/><path d="M57,20.0 C70,16.0 85,17.0 91.0,25.0"/><path d="M43,26.9 C30,22.9 15,23.9 9.0,32.8"/><path d="M57,26.7 C70,22.7 85,23.7 91.0,32.6"/><path d="M43,33.8 C30,29.8 15,30.8 9.0,40.6"/><path d="M57,33.3 C70,29.3 85,30.3 91.0,40.1"/><path d="M43,40.7 C30,36.7 15,37.7 9.0,48.4"/><path d="M57,40.0 C70,36.0 85,37.0 91.0,47.7"/><path d="M43,47.6 C30,43.6 15,44.6 9.0,56.2"/><path d="M57,46.7 C70,42.7 85,43.7 91.0,55.3"/><path d="M43,54.5 C30,50.5 15,51.5 9.0,64.0"/><path d="M57,53.3 C70,49.3 85,50.3 91.0,62.8"/><path d="M43,61.4 C30,57.4 15,58.4 9.0,71.8"/><path d="M57,60.0 C70,56.0 85,57.0 91.0,70.4"/><path d="M43,68.3 C30,64.3 15,65.3 9.0,79.6"/><path d="M57,66.7 C70,62.7 85,63.7 91.0,78.0"/><path d="M43,75.2 C30,71.2 15,72.2 9.0,87.4"/><path d="M57,73.3 C70,69.3 85,70.3 91.0,85.5"/></g></g><g filter="url(#xb9s)" fill="none" stroke="#d7d7d7" stroke-width="2.2" opacity="0.8"><path d="M14,11 C26,9 38,9 46,6"/><path d="M86,11 C74,9 62,9 54,6"/></g><g fill="#cbcbcb" opacity="0.35"><rect x="44.5" y="6" width="11" height="2.2"/><rect x="44.5" y="11" width="11" height="2.2"/><rect x="44.5" y="16" width="11" height="2.2"/><rect x="44.5" y="21" width="11" height="2.2"/><rect x="44.5" y="26" width="11" height="2.2"/><rect x="44.5" y="31" width="11" height="2.2"/><rect x="44.5" y="36" width="11" height="2.2"/><rect x="44.5" y="41" width="11" height="2.2"/><rect x="44.5" y="46" width="11" height="2.2"/><rect x="44.5" y="51" width="11" height="2.2"/><rect x="44.5" y="56" width="11" height="2.2"/><rect x="44.5" y="61" width="11" height="2.2"/><rect x="44.5" y="66" width="11" height="2.2"/><rect x="44.5" y="71" width="11" height="2.2"/><rect x="44.5" y="76" width="11" height="2.2"/><rect x="44.5" y="81" width="11" height="2.2"/><rect x="44.5" y="86" width="11" height="2.2"/><rect x="44.5" y="91" width="11" height="2.2"/><rect x="44.5" y="96" width="11" height="2.2"/></g><path d="M49,0 C49,30 51,55 50,75 C49,85 55,95 58,100" fill="none" stroke="#e6e6e6" stroke-width="0.8" opacity="0.7"/></g></svg>
<rect x="928.5" y="116.0" width="1049.5" height="347.5" fill="none" stroke="#000" stroke-width="2.0"/>
<line x1="1007.5" y1="116.0" x2="1007.5" y2="463.5" stroke="#000" stroke-width="2.0"/>
<line x1="1201.9" y1="116.0" x2="1201.9" y2="463.5" stroke="#000" stroke-width="2.0"/>
<line x1="1396.1" y1="116.0" x2="1396.1" y2="463.5" stroke="#000" stroke-width="2.0"/>
<line x1="1590.4" y1="116.0" x2="1590.4" y2="463.5" stroke="#000" stroke-width="2.0"/>
<line x1="1784.9" y1="116.0" x2="1784.9" y2="463.5" stroke="#000" stroke-width="2.0"/>
<line x1="928.5" y1="285.5" x2="1978.0" y2="285.5" stroke="#000" stroke-width="2.0"/>
<text transform="translate(981.2,268.6) rotate(-90)" x="-2.8" y="0" font-family="Liberation Sans, Arial, sans-serif" font-size="35.3" textLength="140.0" lengthAdjust="spacingAndGlyphs">Lowest 5</text>
<text transform="translate(981.2,447.0) rotate(-90)" x="-2.8" y="0" font-family="Liberation Sans, Arial, sans-serif" font-size="35.3" textLength="149.5" lengthAdjust="spacingAndGlyphs">Highest 5</text>
<text x="11.7" y="50.6" font-family="Liberation Sans, Arial, sans-serif" font-weight="bold" font-size="42" textLength="21.7" lengthAdjust="spacingAndGlyphs">a</text>
<text x="883.0" y="51.2" font-family="Liberation Sans, Arial, sans-serif" font-weight="bold" font-size="42" textLength="27.7" lengthAdjust="spacingAndGlyphs">b</text>
<text x="10.7" y="585.1" font-family="Liberation Sans, Arial, sans-serif" font-weight="bold" font-size="42" textLength="25.2" lengthAdjust="spacingAndGlyphs">c</text>
<text x="883.6" y="585.3" font-family="Liberation Sans, Arial, sans-serif" font-weight="bold" font-size="42" textLength="27.2" lengthAdjust="spacingAndGlyphs">d</text>
</svg></body></html>
